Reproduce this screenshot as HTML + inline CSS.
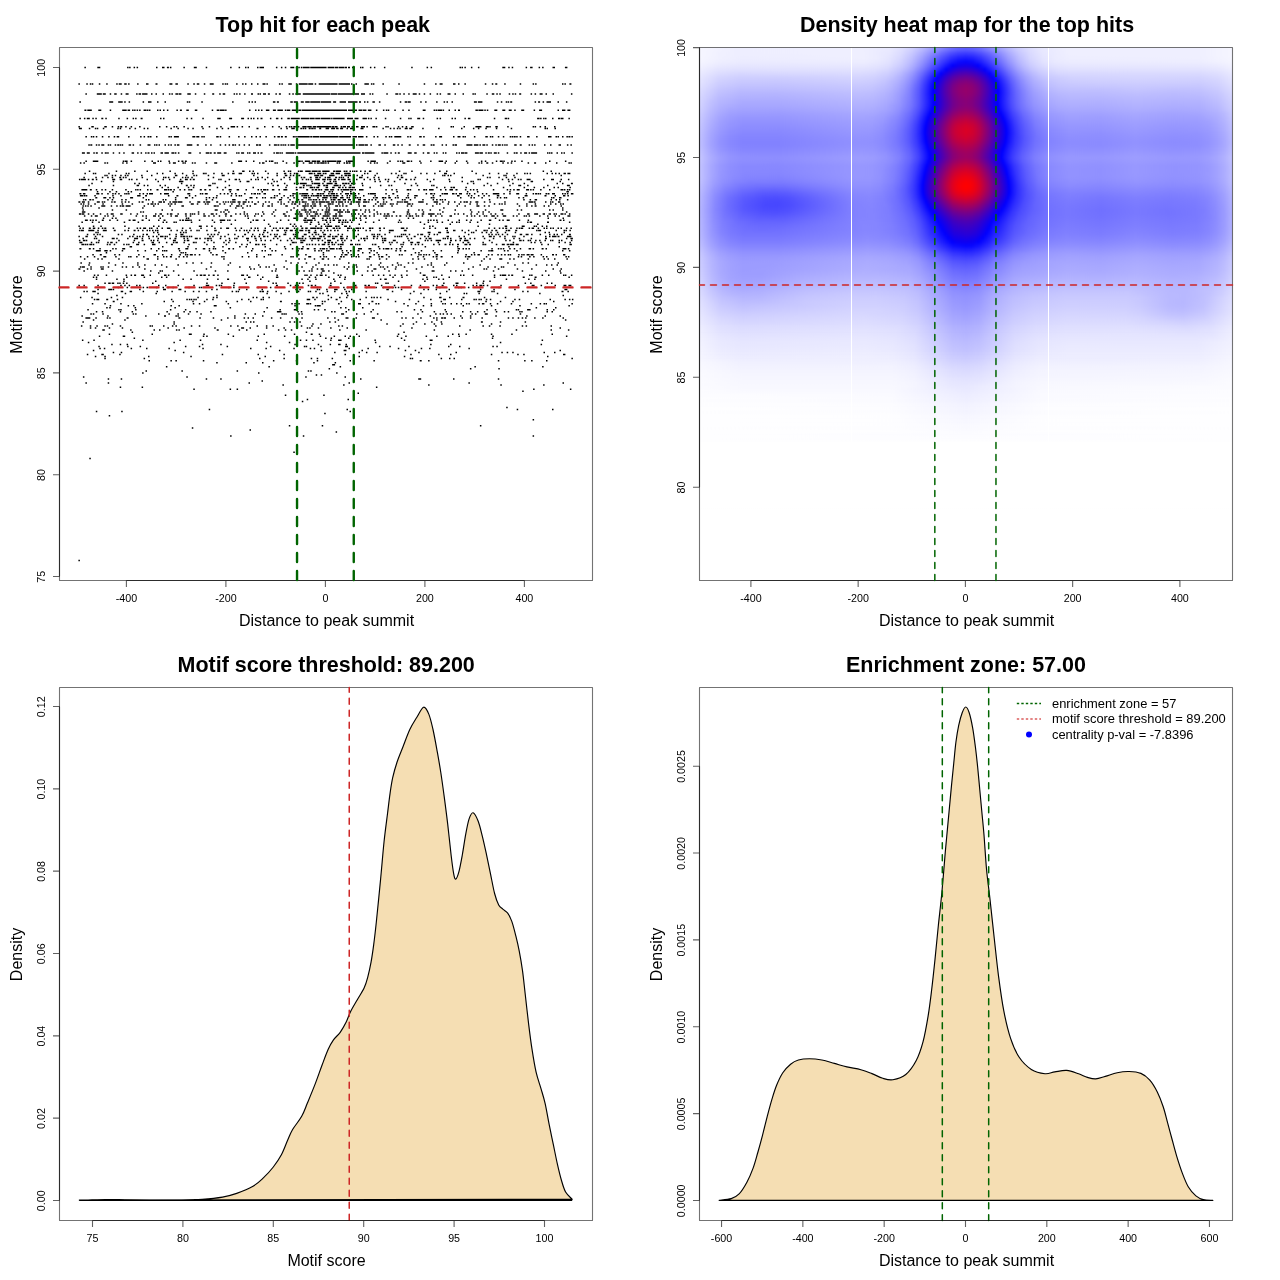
<!DOCTYPE html>
<html><head><meta charset="utf-8"><title>plot</title>
<style>html,body{margin:0;padding:0;background:#fff;} svg{display:block;} text{font-family:'Liberation Sans', Arial, sans-serif;fill:#000;}</style>
</head><body>
<svg style="will-change:transform" width="1280" height="1280" viewBox="0 0 1280 1280">
<rect width="1280" height="1280" fill="#fff"/>
<defs><linearGradient id="h0"><stop offset="0.0009" stop-color="#f6f6ff"/><stop offset="0.0666" stop-color="#eeeeff"/><stop offset="0.3011" stop-color="#efefff"/><stop offset="0.3555" stop-color="#e9e9ff"/><stop offset="0.3780" stop-color="#dfdfff"/><stop offset="0.3987" stop-color="#cfcfff"/><stop offset="0.4174" stop-color="#b9b9ff"/><stop offset="0.4550" stop-color="#8181ff"/><stop offset="0.4719" stop-color="#6b6bff"/><stop offset="0.4850" stop-color="#6060ff"/><stop offset="0.5000" stop-color="#5c5cff"/><stop offset="0.5131" stop-color="#6060ff"/><stop offset="0.5281" stop-color="#6d6dff"/><stop offset="0.5788" stop-color="#b6b6ff"/><stop offset="0.5976" stop-color="#ccccff"/><stop offset="0.6182" stop-color="#dcdcff"/><stop offset="0.6426" stop-color="#e8e8ff"/><stop offset="0.6914" stop-color="#efefff"/><stop offset="0.9353" stop-color="#efefff"/><stop offset="0.9991" stop-color="#f5f5ff"/></linearGradient><linearGradient id="h1"><stop offset="0.0009" stop-color="#f6f6ff"/><stop offset="0.0385" stop-color="#f0f0ff"/><stop offset="0.0797" stop-color="#eeeeff"/><stop offset="0.3086" stop-color="#efefff"/><stop offset="0.3555" stop-color="#e7e7ff"/><stop offset="0.3780" stop-color="#dbdbff"/><stop offset="0.3987" stop-color="#c7c7ff"/><stop offset="0.4174" stop-color="#acacff"/><stop offset="0.4550" stop-color="#6767ff"/><stop offset="0.4719" stop-color="#4c4cff"/><stop offset="0.4850" stop-color="#3f3fff"/><stop offset="0.5000" stop-color="#3a3aff"/><stop offset="0.5131" stop-color="#3f3fff"/><stop offset="0.5281" stop-color="#4f4fff"/><stop offset="0.5432" stop-color="#6767ff"/><stop offset="0.5788" stop-color="#a8a8ff"/><stop offset="0.5994" stop-color="#c6c6ff"/><stop offset="0.6201" stop-color="#d9d9ff"/><stop offset="0.6445" stop-color="#e7e7ff"/><stop offset="0.6932" stop-color="#efefff"/><stop offset="0.9353" stop-color="#efefff"/><stop offset="0.9991" stop-color="#f5f5ff"/></linearGradient><linearGradient id="h2"><stop offset="0.0009" stop-color="#f6f6ff"/><stop offset="0.0385" stop-color="#f0f0ff"/><stop offset="0.0797" stop-color="#ededff"/><stop offset="0.3068" stop-color="#efefff"/><stop offset="0.3330" stop-color="#ececff"/><stop offset="0.3555" stop-color="#e5e5ff"/><stop offset="0.3780" stop-color="#d7d7ff"/><stop offset="0.3987" stop-color="#c0c0ff"/><stop offset="0.4174" stop-color="#a1a1ff"/><stop offset="0.4550" stop-color="#5252ff"/><stop offset="0.4719" stop-color="#3333ff"/><stop offset="0.4850" stop-color="#2424ff"/><stop offset="0.5000" stop-color="#1e1eff"/><stop offset="0.5131" stop-color="#2424ff"/><stop offset="0.5281" stop-color="#3636ff"/><stop offset="0.5432" stop-color="#5252ff"/><stop offset="0.5788" stop-color="#9d9dff"/><stop offset="0.5994" stop-color="#bfbfff"/><stop offset="0.6201" stop-color="#d6d6ff"/><stop offset="0.6445" stop-color="#e5e5ff"/><stop offset="0.6670" stop-color="#ebebff"/><stop offset="0.6951" stop-color="#eeeeff"/><stop offset="0.9353" stop-color="#efefff"/><stop offset="0.9991" stop-color="#f5f5ff"/></linearGradient><linearGradient id="h3"><stop offset="0.0009" stop-color="#f5f5ff"/><stop offset="0.0385" stop-color="#eeeeff"/><stop offset="0.0797" stop-color="#ebebff"/><stop offset="0.3086" stop-color="#ededff"/><stop offset="0.3349" stop-color="#e9e9ff"/><stop offset="0.3555" stop-color="#e2e2ff"/><stop offset="0.3780" stop-color="#d2d2ff"/><stop offset="0.3987" stop-color="#b9b9ff"/><stop offset="0.4174" stop-color="#9696ff"/><stop offset="0.4550" stop-color="#3f3fff"/><stop offset="0.4719" stop-color="#1d1dff"/><stop offset="0.4850" stop-color="#0c0cff"/><stop offset="0.5000" stop-color="#0606ff"/><stop offset="0.5131" stop-color="#0c0cff"/><stop offset="0.5281" stop-color="#2121ff"/><stop offset="0.5432" stop-color="#4040ff"/><stop offset="0.5788" stop-color="#9292ff"/><stop offset="0.5994" stop-color="#b8b8ff"/><stop offset="0.6201" stop-color="#d1d1ff"/><stop offset="0.6445" stop-color="#e2e2ff"/><stop offset="0.6670" stop-color="#e9e9ff"/><stop offset="0.6951" stop-color="#ececff"/><stop offset="0.9353" stop-color="#ededff"/><stop offset="0.9991" stop-color="#f4f4ff"/></linearGradient><linearGradient id="h4"><stop offset="0.0009" stop-color="#f2f2ff"/><stop offset="0.0385" stop-color="#e9e9ff"/><stop offset="0.0797" stop-color="#e6e6ff"/><stop offset="0.3086" stop-color="#e8e8ff"/><stop offset="0.3349" stop-color="#e4e4ff"/><stop offset="0.3555" stop-color="#ddddff"/><stop offset="0.3799" stop-color="#cacaff"/><stop offset="0.3912" stop-color="#bcbcff"/><stop offset="0.4024" stop-color="#aaaaff"/><stop offset="0.4193" stop-color="#8686ff"/><stop offset="0.4625" stop-color="#1919ff"/><stop offset="0.4737" stop-color="#0202ff"/><stop offset="0.4756" stop-color="#0100fe"/><stop offset="0.4869" stop-color="#0f00f0"/><stop offset="0.5000" stop-color="#1400eb"/><stop offset="0.5113" stop-color="#0f00f0"/><stop offset="0.5225" stop-color="#0000ff"/><stop offset="0.5244" stop-color="#0303ff"/><stop offset="0.5413" stop-color="#2727ff"/><stop offset="0.5788" stop-color="#8585ff"/><stop offset="0.5957" stop-color="#a8a8ff"/><stop offset="0.6069" stop-color="#babaff"/><stop offset="0.6201" stop-color="#cacaff"/><stop offset="0.6332" stop-color="#d5d5ff"/><stop offset="0.6482" stop-color="#dedeff"/><stop offset="0.6689" stop-color="#e4e4ff"/><stop offset="0.6951" stop-color="#e7e7ff"/><stop offset="0.9353" stop-color="#e8e8ff"/><stop offset="0.9709" stop-color="#ebebff"/><stop offset="0.9991" stop-color="#f1f1ff"/></linearGradient><linearGradient id="h5"><stop offset="0.0009" stop-color="#eeeeff"/><stop offset="0.0328" stop-color="#e4e4ff"/><stop offset="0.0666" stop-color="#e0e0ff"/><stop offset="0.3011" stop-color="#e2e2ff"/><stop offset="0.3293" stop-color="#dfdfff"/><stop offset="0.3537" stop-color="#d7d7ff"/><stop offset="0.3780" stop-color="#c3c3ff"/><stop offset="0.3893" stop-color="#b5b5ff"/><stop offset="0.4006" stop-color="#a2a2ff"/><stop offset="0.4193" stop-color="#7777ff"/><stop offset="0.4625" stop-color="#0101ff"/><stop offset="0.4644" stop-color="#0400fb"/><stop offset="0.4737" stop-color="#1900e6"/><stop offset="0.4812" stop-color="#2500da"/><stop offset="0.4906" stop-color="#2e00d1"/><stop offset="0.5000" stop-color="#3100ce"/><stop offset="0.5094" stop-color="#2d00d2"/><stop offset="0.5169" stop-color="#2400db"/><stop offset="0.5244" stop-color="#1800e7"/><stop offset="0.5356" stop-color="#0101ff"/><stop offset="0.5788" stop-color="#7676ff"/><stop offset="0.5976" stop-color="#a0a0ff"/><stop offset="0.6107" stop-color="#b5b5ff"/><stop offset="0.6238" stop-color="#c5c5ff"/><stop offset="0.6370" stop-color="#d0d0ff"/><stop offset="0.6520" stop-color="#d8d8ff"/><stop offset="0.6726" stop-color="#dedeff"/><stop offset="0.6989" stop-color="#e1e1ff"/><stop offset="0.9409" stop-color="#e2e2ff"/><stop offset="0.9747" stop-color="#e6e6ff"/><stop offset="0.9991" stop-color="#ededff"/></linearGradient><linearGradient id="h6"><stop offset="0.0009" stop-color="#eaeaff"/><stop offset="0.0347" stop-color="#ddddff"/><stop offset="0.0722" stop-color="#d7d7ff"/><stop offset="0.2992" stop-color="#dbdbff"/><stop offset="0.3274" stop-color="#d8d8ff"/><stop offset="0.3518" stop-color="#cfcfff"/><stop offset="0.3649" stop-color="#c6c6ff"/><stop offset="0.3780" stop-color="#b9b9ff"/><stop offset="0.3987" stop-color="#9999ff"/><stop offset="0.4174" stop-color="#6c6cff"/><stop offset="0.4531" stop-color="#0000ff"/><stop offset="0.4550" stop-color="#0500fa"/><stop offset="0.4662" stop-color="#2500da"/><stop offset="0.4775" stop-color="#3e00c1"/><stop offset="0.4887" stop-color="#4c00b3"/><stop offset="0.5000" stop-color="#5100ae"/><stop offset="0.5113" stop-color="#4a00b5"/><stop offset="0.5206" stop-color="#3d00c2"/><stop offset="0.5300" stop-color="#2900d6"/><stop offset="0.5450" stop-color="#0101ff"/><stop offset="0.5525" stop-color="#1919ff"/><stop offset="0.5788" stop-color="#6666ff"/><stop offset="0.5901" stop-color="#8282ff"/><stop offset="0.5994" stop-color="#9696ff"/><stop offset="0.6126" stop-color="#acacff"/><stop offset="0.6257" stop-color="#bcbcff"/><stop offset="0.6388" stop-color="#c8c8ff"/><stop offset="0.6538" stop-color="#d0d0ff"/><stop offset="0.6745" stop-color="#d7d7ff"/><stop offset="0.6989" stop-color="#d9d9ff"/><stop offset="0.9390" stop-color="#dadaff"/><stop offset="0.9728" stop-color="#dfdfff"/><stop offset="0.9991" stop-color="#e8e8ff"/></linearGradient><linearGradient id="h7"><stop offset="0.0009" stop-color="#e6e6ff"/><stop offset="0.0366" stop-color="#d5d5ff"/><stop offset="0.0741" stop-color="#cfcfff"/><stop offset="0.1435" stop-color="#ceceff"/><stop offset="0.2992" stop-color="#d4d4ff"/><stop offset="0.3274" stop-color="#d1d1ff"/><stop offset="0.3499" stop-color="#c9c9ff"/><stop offset="0.3630" stop-color="#c0c0ff"/><stop offset="0.3762" stop-color="#b2b2ff"/><stop offset="0.3874" stop-color="#a3a3ff"/><stop offset="0.3968" stop-color="#9292ff"/><stop offset="0.4062" stop-color="#7d7dff"/><stop offset="0.4156" stop-color="#6363ff"/><stop offset="0.4456" stop-color="#0202ff"/><stop offset="0.4475" stop-color="#0500fa"/><stop offset="0.4625" stop-color="#3400cb"/><stop offset="0.4756" stop-color="#5600a9"/><stop offset="0.4869" stop-color="#670098"/><stop offset="0.5000" stop-color="#6e0091"/><stop offset="0.5113" stop-color="#670098"/><stop offset="0.5225" stop-color="#5500aa"/><stop offset="0.5356" stop-color="#3300cc"/><stop offset="0.5507" stop-color="#0200fd"/><stop offset="0.5525" stop-color="#0505ff"/><stop offset="0.5826" stop-color="#6161ff"/><stop offset="0.5919" stop-color="#7979ff"/><stop offset="0.6032" stop-color="#9292ff"/><stop offset="0.6144" stop-color="#a4a4ff"/><stop offset="0.6276" stop-color="#b5b5ff"/><stop offset="0.6426" stop-color="#c2c2ff"/><stop offset="0.6576" stop-color="#cacaff"/><stop offset="0.6989" stop-color="#d2d2ff"/><stop offset="0.8208" stop-color="#d5d5ff"/><stop offset="0.9371" stop-color="#d3d3ff"/><stop offset="0.9728" stop-color="#d9d9ff"/><stop offset="0.9991" stop-color="#e4e4ff"/></linearGradient><linearGradient id="h8"><stop offset="0.0009" stop-color="#e3e3ff"/><stop offset="0.0366" stop-color="#d0d0ff"/><stop offset="0.0760" stop-color="#c9c9ff"/><stop offset="0.1454" stop-color="#c8c8ff"/><stop offset="0.2974" stop-color="#cfcfff"/><stop offset="0.3255" stop-color="#ccccff"/><stop offset="0.3480" stop-color="#c4c4ff"/><stop offset="0.3724" stop-color="#b0b0ff"/><stop offset="0.3837" stop-color="#a1a1ff"/><stop offset="0.3949" stop-color="#8e8eff"/><stop offset="0.4043" stop-color="#7878ff"/><stop offset="0.4137" stop-color="#5e5eff"/><stop offset="0.4418" stop-color="#0000ff"/><stop offset="0.4437" stop-color="#0600f9"/><stop offset="0.4625" stop-color="#4600b9"/><stop offset="0.4756" stop-color="#6a0095"/><stop offset="0.4869" stop-color="#7c0083"/><stop offset="0.5000" stop-color="#83007c"/><stop offset="0.5113" stop-color="#7c0083"/><stop offset="0.5244" stop-color="#65009a"/><stop offset="0.5375" stop-color="#3f00c0"/><stop offset="0.5525" stop-color="#0b00f4"/><stop offset="0.5563" stop-color="#0101ff"/><stop offset="0.5844" stop-color="#5c5cff"/><stop offset="0.5938" stop-color="#7474ff"/><stop offset="0.6032" stop-color="#8989ff"/><stop offset="0.6144" stop-color="#9d9dff"/><stop offset="0.6276" stop-color="#aeaeff"/><stop offset="0.6538" stop-color="#c2c2ff"/><stop offset="0.6745" stop-color="#c9c9ff"/><stop offset="0.6989" stop-color="#cdcdff"/><stop offset="0.8208" stop-color="#d0d0ff"/><stop offset="0.9390" stop-color="#ceceff"/><stop offset="0.9728" stop-color="#d4d4ff"/><stop offset="0.9991" stop-color="#e1e1ff"/></linearGradient><linearGradient id="h9"><stop offset="0.0009" stop-color="#e0e0ff"/><stop offset="0.0366" stop-color="#cbcbff"/><stop offset="0.0779" stop-color="#c3c3ff"/><stop offset="0.1454" stop-color="#c2c2ff"/><stop offset="0.2974" stop-color="#c9c9ff"/><stop offset="0.3236" stop-color="#c7c7ff"/><stop offset="0.3462" stop-color="#bfbfff"/><stop offset="0.3593" stop-color="#b7b7ff"/><stop offset="0.3724" stop-color="#aaaaff"/><stop offset="0.3837" stop-color="#9b9bff"/><stop offset="0.3949" stop-color="#8787ff"/><stop offset="0.4118" stop-color="#5d5dff"/><stop offset="0.4381" stop-color="#0404ff"/><stop offset="0.4400" stop-color="#0200fd"/><stop offset="0.4606" stop-color="#4b00b4"/><stop offset="0.4756" stop-color="#770088"/><stop offset="0.4869" stop-color="#890076"/><stop offset="0.5000" stop-color="#90006f"/><stop offset="0.5113" stop-color="#890076"/><stop offset="0.5188" stop-color="#7d0082"/><stop offset="0.5244" stop-color="#71008e"/><stop offset="0.5394" stop-color="#4400bb"/><stop offset="0.5582" stop-color="#0200fd"/><stop offset="0.5600" stop-color="#0404ff"/><stop offset="0.5863" stop-color="#5959ff"/><stop offset="0.5957" stop-color="#7272ff"/><stop offset="0.6051" stop-color="#8686ff"/><stop offset="0.6163" stop-color="#9999ff"/><stop offset="0.6276" stop-color="#a8a8ff"/><stop offset="0.6538" stop-color="#bdbdff"/><stop offset="0.6745" stop-color="#c4c4ff"/><stop offset="0.6989" stop-color="#c7c7ff"/><stop offset="0.8208" stop-color="#cacaff"/><stop offset="0.9371" stop-color="#c8c8ff"/><stop offset="0.9728" stop-color="#d0d0ff"/><stop offset="0.9991" stop-color="#ddddff"/></linearGradient><linearGradient id="h10"><stop offset="0.0009" stop-color="#dcdcff"/><stop offset="0.0366" stop-color="#c5c5ff"/><stop offset="0.0779" stop-color="#bcbcff"/><stop offset="0.1454" stop-color="#bcbcff"/><stop offset="0.2974" stop-color="#c4c4ff"/><stop offset="0.3236" stop-color="#c2c2ff"/><stop offset="0.3462" stop-color="#babaff"/><stop offset="0.3593" stop-color="#b2b2ff"/><stop offset="0.3724" stop-color="#a5a5ff"/><stop offset="0.3837" stop-color="#9696ff"/><stop offset="0.3949" stop-color="#8282ff"/><stop offset="0.4118" stop-color="#5858ff"/><stop offset="0.4381" stop-color="#0100fe"/><stop offset="0.4606" stop-color="#5000af"/><stop offset="0.4756" stop-color="#7c0083"/><stop offset="0.4869" stop-color="#8e0071"/><stop offset="0.5000" stop-color="#95006a"/><stop offset="0.5113" stop-color="#8e0071"/><stop offset="0.5188" stop-color="#83007c"/><stop offset="0.5244" stop-color="#760089"/><stop offset="0.5413" stop-color="#4300bc"/><stop offset="0.5507" stop-color="#1f00e0"/><stop offset="0.5600" stop-color="#0100fe"/><stop offset="0.5619" stop-color="#0505ff"/><stop offset="0.5863" stop-color="#5454ff"/><stop offset="0.5938" stop-color="#6868ff"/><stop offset="0.6051" stop-color="#8080ff"/><stop offset="0.6163" stop-color="#9393ff"/><stop offset="0.6276" stop-color="#a2a2ff"/><stop offset="0.6538" stop-color="#b7b7ff"/><stop offset="0.6745" stop-color="#bebeff"/><stop offset="0.6970" stop-color="#c1c1ff"/><stop offset="0.7533" stop-color="#c0c0ff"/><stop offset="0.8208" stop-color="#c5c5ff"/><stop offset="0.8902" stop-color="#c1c1ff"/><stop offset="0.9371" stop-color="#c2c2ff"/><stop offset="0.9728" stop-color="#cbcbff"/><stop offset="0.9991" stop-color="#dadaff"/></linearGradient><linearGradient id="h11"><stop offset="0.0009" stop-color="#d9d9ff"/><stop offset="0.0366" stop-color="#c0c0ff"/><stop offset="0.0779" stop-color="#b6b6ff"/><stop offset="0.1454" stop-color="#b5b5ff"/><stop offset="0.2992" stop-color="#bebeff"/><stop offset="0.3255" stop-color="#bcbcff"/><stop offset="0.3480" stop-color="#b4b4ff"/><stop offset="0.3612" stop-color="#ababff"/><stop offset="0.3743" stop-color="#9e9eff"/><stop offset="0.3837" stop-color="#9292ff"/><stop offset="0.3949" stop-color="#7f7fff"/><stop offset="0.4118" stop-color="#5656ff"/><stop offset="0.4343" stop-color="#0b0bff"/><stop offset="0.4381" stop-color="#0100fe"/><stop offset="0.4587" stop-color="#4900b6"/><stop offset="0.4756" stop-color="#7a0085"/><stop offset="0.4869" stop-color="#8c0073"/><stop offset="0.5000" stop-color="#93006c"/><stop offset="0.5113" stop-color="#8c0073"/><stop offset="0.5188" stop-color="#81007e"/><stop offset="0.5244" stop-color="#75008a"/><stop offset="0.5413" stop-color="#4200bd"/><stop offset="0.5507" stop-color="#1f00e0"/><stop offset="0.5600" stop-color="#0200fd"/><stop offset="0.5619" stop-color="#0404ff"/><stop offset="0.5863" stop-color="#5151ff"/><stop offset="0.5938" stop-color="#6565ff"/><stop offset="0.6051" stop-color="#7c7cff"/><stop offset="0.6163" stop-color="#8f8fff"/><stop offset="0.6276" stop-color="#9d9dff"/><stop offset="0.6538" stop-color="#b1b1ff"/><stop offset="0.6745" stop-color="#b8b8ff"/><stop offset="0.6970" stop-color="#bbbbff"/><stop offset="0.7533" stop-color="#bbbbff"/><stop offset="0.8208" stop-color="#bfbfff"/><stop offset="0.8902" stop-color="#bbbbff"/><stop offset="0.9371" stop-color="#bdbdff"/><stop offset="0.9728" stop-color="#c6c6ff"/><stop offset="0.9991" stop-color="#d6d6ff"/></linearGradient><linearGradient id="h12"><stop offset="0.0009" stop-color="#d6d6ff"/><stop offset="0.0366" stop-color="#bbbbff"/><stop offset="0.0779" stop-color="#b1b1ff"/><stop offset="0.1454" stop-color="#b0b0ff"/><stop offset="0.2992" stop-color="#babaff"/><stop offset="0.3255" stop-color="#b8b8ff"/><stop offset="0.3480" stop-color="#b0b0ff"/><stop offset="0.3612" stop-color="#a8a8ff"/><stop offset="0.3743" stop-color="#9b9bff"/><stop offset="0.3949" stop-color="#7d7dff"/><stop offset="0.4118" stop-color="#5555ff"/><stop offset="0.4381" stop-color="#0101ff"/><stop offset="0.4400" stop-color="#0500fa"/><stop offset="0.4606" stop-color="#4b00b4"/><stop offset="0.4756" stop-color="#75008a"/><stop offset="0.4869" stop-color="#860079"/><stop offset="0.5000" stop-color="#8d0072"/><stop offset="0.5113" stop-color="#860079"/><stop offset="0.5244" stop-color="#6f0090"/><stop offset="0.5375" stop-color="#4a00b5"/><stop offset="0.5450" stop-color="#3200cd"/><stop offset="0.5525" stop-color="#1500ea"/><stop offset="0.5600" stop-color="#0000ff"/><stop offset="0.5844" stop-color="#4c4cff"/><stop offset="0.5938" stop-color="#6363ff"/><stop offset="0.6032" stop-color="#7676ff"/><stop offset="0.6144" stop-color="#8989ff"/><stop offset="0.6276" stop-color="#9999ff"/><stop offset="0.6538" stop-color="#adadff"/><stop offset="0.6745" stop-color="#b3b3ff"/><stop offset="0.6970" stop-color="#b7b7ff"/><stop offset="0.7533" stop-color="#b6b6ff"/><stop offset="0.8208" stop-color="#babaff"/><stop offset="0.8902" stop-color="#b7b7ff"/><stop offset="0.9371" stop-color="#b8b8ff"/><stop offset="0.9728" stop-color="#c2c2ff"/><stop offset="0.9991" stop-color="#d3d3ff"/></linearGradient><linearGradient id="h13"><stop offset="0.0009" stop-color="#d4d4ff"/><stop offset="0.0216" stop-color="#c1c1ff"/><stop offset="0.0385" stop-color="#b6b6ff"/><stop offset="0.0797" stop-color="#ababff"/><stop offset="0.1473" stop-color="#ababff"/><stop offset="0.3011" stop-color="#b5b5ff"/><stop offset="0.3274" stop-color="#b3b3ff"/><stop offset="0.3499" stop-color="#ababff"/><stop offset="0.3630" stop-color="#a3a3ff"/><stop offset="0.3762" stop-color="#9696ff"/><stop offset="0.3968" stop-color="#7878ff"/><stop offset="0.4118" stop-color="#5555ff"/><stop offset="0.4381" stop-color="#0303ff"/><stop offset="0.4400" stop-color="#0300fc"/><stop offset="0.4587" stop-color="#4200bd"/><stop offset="0.4756" stop-color="#71008e"/><stop offset="0.4869" stop-color="#81007e"/><stop offset="0.5000" stop-color="#880077"/><stop offset="0.5113" stop-color="#81007e"/><stop offset="0.5244" stop-color="#6b0094"/><stop offset="0.5432" stop-color="#3500ca"/><stop offset="0.5525" stop-color="#1300ec"/><stop offset="0.5582" stop-color="#0400fb"/><stop offset="0.5600" stop-color="#0202ff"/><stop offset="0.5844" stop-color="#4b4bff"/><stop offset="0.5938" stop-color="#6262ff"/><stop offset="0.6032" stop-color="#7474ff"/><stop offset="0.6144" stop-color="#8686ff"/><stop offset="0.6276" stop-color="#9696ff"/><stop offset="0.6538" stop-color="#a8a8ff"/><stop offset="0.6745" stop-color="#afafff"/><stop offset="0.6970" stop-color="#b2b2ff"/><stop offset="0.7533" stop-color="#b1b1ff"/><stop offset="0.8208" stop-color="#b6b6ff"/><stop offset="0.8902" stop-color="#b2b2ff"/><stop offset="0.9371" stop-color="#b3b3ff"/><stop offset="0.9728" stop-color="#bebeff"/><stop offset="0.9991" stop-color="#d0d0ff"/></linearGradient><linearGradient id="h14"><stop offset="0.0009" stop-color="#d2d2ff"/><stop offset="0.0216" stop-color="#bebeff"/><stop offset="0.0385" stop-color="#b2b2ff"/><stop offset="0.0797" stop-color="#a7a7ff"/><stop offset="0.1473" stop-color="#a7a7ff"/><stop offset="0.3011" stop-color="#b1b1ff"/><stop offset="0.3274" stop-color="#afafff"/><stop offset="0.3499" stop-color="#a7a7ff"/><stop offset="0.3762" stop-color="#9393ff"/><stop offset="0.3968" stop-color="#7575ff"/><stop offset="0.4062" stop-color="#6161ff"/><stop offset="0.4137" stop-color="#4d4dff"/><stop offset="0.4381" stop-color="#0101ff"/><stop offset="0.4400" stop-color="#0400fb"/><stop offset="0.4587" stop-color="#4200bd"/><stop offset="0.4756" stop-color="#71008e"/><stop offset="0.4869" stop-color="#81007e"/><stop offset="0.5000" stop-color="#880077"/><stop offset="0.5113" stop-color="#82007d"/><stop offset="0.5244" stop-color="#6b0094"/><stop offset="0.5432" stop-color="#3600c9"/><stop offset="0.5525" stop-color="#1400eb"/><stop offset="0.5600" stop-color="#0000ff"/><stop offset="0.5844" stop-color="#4848ff"/><stop offset="0.5938" stop-color="#5f5fff"/><stop offset="0.6032" stop-color="#7171ff"/><stop offset="0.6144" stop-color="#8282ff"/><stop offset="0.6276" stop-color="#9292ff"/><stop offset="0.6538" stop-color="#a4a4ff"/><stop offset="0.6745" stop-color="#ababff"/><stop offset="0.6970" stop-color="#aeaeff"/><stop offset="0.7533" stop-color="#adadff"/><stop offset="0.8208" stop-color="#b2b2ff"/><stop offset="0.8902" stop-color="#aeaeff"/><stop offset="0.9371" stop-color="#afafff"/><stop offset="0.9728" stop-color="#babaff"/><stop offset="0.9991" stop-color="#ceceff"/></linearGradient><linearGradient id="h15"><stop offset="0.0009" stop-color="#cfcfff"/><stop offset="0.0216" stop-color="#babaff"/><stop offset="0.0385" stop-color="#aeaeff"/><stop offset="0.0572" stop-color="#a6a6ff"/><stop offset="0.0797" stop-color="#a2a2ff"/><stop offset="0.1473" stop-color="#a1a1ff"/><stop offset="0.3011" stop-color="#adadff"/><stop offset="0.3255" stop-color="#ababff"/><stop offset="0.3480" stop-color="#a4a4ff"/><stop offset="0.3612" stop-color="#9c9cff"/><stop offset="0.3743" stop-color="#9090ff"/><stop offset="0.3949" stop-color="#7474ff"/><stop offset="0.4118" stop-color="#4d4dff"/><stop offset="0.4362" stop-color="#0000ff"/><stop offset="0.4381" stop-color="#0500fa"/><stop offset="0.4568" stop-color="#4400bb"/><stop offset="0.4756" stop-color="#7a0085"/><stop offset="0.4869" stop-color="#8a0075"/><stop offset="0.5000" stop-color="#91006e"/><stop offset="0.5113" stop-color="#8b0074"/><stop offset="0.5188" stop-color="#80007f"/><stop offset="0.5244" stop-color="#74008b"/><stop offset="0.5413" stop-color="#4300bc"/><stop offset="0.5507" stop-color="#2100de"/><stop offset="0.5619" stop-color="#0100fe"/><stop offset="0.5863" stop-color="#4747ff"/><stop offset="0.5938" stop-color="#5959ff"/><stop offset="0.6051" stop-color="#6f6fff"/><stop offset="0.6276" stop-color="#8d8dff"/><stop offset="0.6538" stop-color="#9f9fff"/><stop offset="0.6745" stop-color="#a6a6ff"/><stop offset="0.6970" stop-color="#a9a9ff"/><stop offset="0.7533" stop-color="#a8a8ff"/><stop offset="0.8208" stop-color="#aeaeff"/><stop offset="0.8902" stop-color="#a9a9ff"/><stop offset="0.9371" stop-color="#ababff"/><stop offset="0.9728" stop-color="#b6b6ff"/><stop offset="0.9991" stop-color="#cbcbff"/></linearGradient><linearGradient id="h16"><stop offset="0.0009" stop-color="#ccccff"/><stop offset="0.0216" stop-color="#b6b6ff"/><stop offset="0.0385" stop-color="#a9a9ff"/><stop offset="0.0572" stop-color="#a0a0ff"/><stop offset="0.0797" stop-color="#9c9cff"/><stop offset="0.1473" stop-color="#9b9bff"/><stop offset="0.3011" stop-color="#a7a7ff"/><stop offset="0.3255" stop-color="#a6a6ff"/><stop offset="0.3480" stop-color="#9e9eff"/><stop offset="0.3612" stop-color="#9696ff"/><stop offset="0.3743" stop-color="#8a8aff"/><stop offset="0.3949" stop-color="#6c6cff"/><stop offset="0.4043" stop-color="#5858ff"/><stop offset="0.4118" stop-color="#4444ff"/><stop offset="0.4325" stop-color="#0000ff"/><stop offset="0.4343" stop-color="#0600f9"/><stop offset="0.4625" stop-color="#65009a"/><stop offset="0.4756" stop-color="#8a0075"/><stop offset="0.4869" stop-color="#9b0064"/><stop offset="0.5000" stop-color="#a2005d"/><stop offset="0.5113" stop-color="#9c0063"/><stop offset="0.5188" stop-color="#90006f"/><stop offset="0.5244" stop-color="#84007b"/><stop offset="0.5432" stop-color="#4b00b4"/><stop offset="0.5525" stop-color="#2700d8"/><stop offset="0.5657" stop-color="#0100fe"/><stop offset="0.5882" stop-color="#4343ff"/><stop offset="0.6069" stop-color="#6a6aff"/><stop offset="0.6295" stop-color="#8888ff"/><stop offset="0.6557" stop-color="#9a9aff"/><stop offset="0.6914" stop-color="#a3a3ff"/><stop offset="0.7533" stop-color="#a2a2ff"/><stop offset="0.8152" stop-color="#a8a8ff"/><stop offset="0.8902" stop-color="#a3a3ff"/><stop offset="0.9353" stop-color="#a5a5ff"/><stop offset="0.9709" stop-color="#b0b0ff"/><stop offset="0.9859" stop-color="#babaff"/><stop offset="0.9991" stop-color="#c8c8ff"/></linearGradient><linearGradient id="h17"><stop offset="0.0009" stop-color="#c9c9ff"/><stop offset="0.0216" stop-color="#b2b2ff"/><stop offset="0.0385" stop-color="#a4a4ff"/><stop offset="0.0572" stop-color="#9b9bff"/><stop offset="0.0797" stop-color="#9696ff"/><stop offset="0.1473" stop-color="#9696ff"/><stop offset="0.2992" stop-color="#a3a3ff"/><stop offset="0.3236" stop-color="#a1a1ff"/><stop offset="0.3462" stop-color="#9a9aff"/><stop offset="0.3705" stop-color="#8888ff"/><stop offset="0.3818" stop-color="#7a7aff"/><stop offset="0.3931" stop-color="#6969ff"/><stop offset="0.4006" stop-color="#5959ff"/><stop offset="0.4099" stop-color="#4141ff"/><stop offset="0.4287" stop-color="#0101ff"/><stop offset="0.4306" stop-color="#0500fa"/><stop offset="0.4625" stop-color="#75008a"/><stop offset="0.4756" stop-color="#9d0062"/><stop offset="0.4869" stop-color="#ae0051"/><stop offset="0.5000" stop-color="#b60049"/><stop offset="0.5131" stop-color="#ac0053"/><stop offset="0.5188" stop-color="#a3005c"/><stop offset="0.5263" stop-color="#91006e"/><stop offset="0.5432" stop-color="#5b00a4"/><stop offset="0.5525" stop-color="#3500ca"/><stop offset="0.5694" stop-color="#0000ff"/><stop offset="0.5807" stop-color="#2525ff"/><stop offset="0.5901" stop-color="#3f3fff"/><stop offset="0.6088" stop-color="#6666ff"/><stop offset="0.6295" stop-color="#8282ff"/><stop offset="0.6576" stop-color="#9696ff"/><stop offset="0.6932" stop-color="#9f9fff"/><stop offset="0.7533" stop-color="#9d9dff"/><stop offset="0.8171" stop-color="#a4a4ff"/><stop offset="0.8902" stop-color="#9f9fff"/><stop offset="0.9353" stop-color="#a0a0ff"/><stop offset="0.9709" stop-color="#acacff"/><stop offset="0.9859" stop-color="#b7b7ff"/><stop offset="0.9991" stop-color="#c5c5ff"/></linearGradient><linearGradient id="h18"><stop offset="0.0009" stop-color="#c7c7ff"/><stop offset="0.0216" stop-color="#afafff"/><stop offset="0.0385" stop-color="#a0a0ff"/><stop offset="0.0572" stop-color="#9797ff"/><stop offset="0.0797" stop-color="#9292ff"/><stop offset="0.1473" stop-color="#9292ff"/><stop offset="0.2992" stop-color="#9f9fff"/><stop offset="0.3236" stop-color="#9e9eff"/><stop offset="0.3443" stop-color="#9797ff"/><stop offset="0.3687" stop-color="#8585ff"/><stop offset="0.3799" stop-color="#7878ff"/><stop offset="0.3912" stop-color="#6666ff"/><stop offset="0.3987" stop-color="#5757ff"/><stop offset="0.4081" stop-color="#3f3fff"/><stop offset="0.4250" stop-color="#0505ff"/><stop offset="0.4268" stop-color="#0200fd"/><stop offset="0.4400" stop-color="#3000cf"/><stop offset="0.4512" stop-color="#5d00a2"/><stop offset="0.4737" stop-color="#a80057"/><stop offset="0.4794" stop-color="#b5004a"/><stop offset="0.4850" stop-color="#bd0042"/><stop offset="0.5000" stop-color="#c70038"/><stop offset="0.5131" stop-color="#bd0042"/><stop offset="0.5188" stop-color="#b4004b"/><stop offset="0.5263" stop-color="#a2005d"/><stop offset="0.5432" stop-color="#690096"/><stop offset="0.5525" stop-color="#4200bd"/><stop offset="0.5713" stop-color="#0400fb"/><stop offset="0.5732" stop-color="#0202ff"/><stop offset="0.5901" stop-color="#3838ff"/><stop offset="0.5994" stop-color="#4e4eff"/><stop offset="0.6088" stop-color="#6060ff"/><stop offset="0.6295" stop-color="#7d7dff"/><stop offset="0.6576" stop-color="#9292ff"/><stop offset="0.6932" stop-color="#9b9bff"/><stop offset="0.7533" stop-color="#9a9aff"/><stop offset="0.8171" stop-color="#a0a0ff"/><stop offset="0.8902" stop-color="#9b9bff"/><stop offset="0.9353" stop-color="#9c9cff"/><stop offset="0.9559" stop-color="#a1a1ff"/><stop offset="0.9709" stop-color="#a9a9ff"/><stop offset="0.9859" stop-color="#b4b4ff"/><stop offset="0.9991" stop-color="#c2c2ff"/></linearGradient><linearGradient id="h19"><stop offset="0.0009" stop-color="#c5c5ff"/><stop offset="0.0216" stop-color="#acacff"/><stop offset="0.0385" stop-color="#9d9dff"/><stop offset="0.0572" stop-color="#9494ff"/><stop offset="0.0797" stop-color="#8e8eff"/><stop offset="0.1473" stop-color="#8e8eff"/><stop offset="0.2974" stop-color="#9c9cff"/><stop offset="0.3218" stop-color="#9b9bff"/><stop offset="0.3424" stop-color="#9494ff"/><stop offset="0.3668" stop-color="#8383ff"/><stop offset="0.3799" stop-color="#7474ff"/><stop offset="0.3893" stop-color="#6565ff"/><stop offset="0.3968" stop-color="#5656ff"/><stop offset="0.4062" stop-color="#3e3eff"/><stop offset="0.4137" stop-color="#2727ff"/><stop offset="0.4231" stop-color="#0505ff"/><stop offset="0.4250" stop-color="#0200fd"/><stop offset="0.4400" stop-color="#3900c6"/><stop offset="0.4512" stop-color="#670098"/><stop offset="0.4737" stop-color="#b4004b"/><stop offset="0.4794" stop-color="#c1003e"/><stop offset="0.4850" stop-color="#ca0035"/><stop offset="0.5000" stop-color="#d4002b"/><stop offset="0.5131" stop-color="#ca0035"/><stop offset="0.5188" stop-color="#c0003f"/><stop offset="0.5263" stop-color="#ad0052"/><stop offset="0.5432" stop-color="#73008c"/><stop offset="0.5525" stop-color="#4a00b5"/><stop offset="0.5600" stop-color="#3300cc"/><stop offset="0.5732" stop-color="#0500fa"/><stop offset="0.5750" stop-color="#0202ff"/><stop offset="0.5919" stop-color="#3737ff"/><stop offset="0.6013" stop-color="#4d4dff"/><stop offset="0.6107" stop-color="#5e5eff"/><stop offset="0.6313" stop-color="#7b7bff"/><stop offset="0.6595" stop-color="#8f8fff"/><stop offset="0.6932" stop-color="#9797ff"/><stop offset="0.7533" stop-color="#9696ff"/><stop offset="0.8171" stop-color="#9d9dff"/><stop offset="0.8902" stop-color="#9797ff"/><stop offset="0.9353" stop-color="#9999ff"/><stop offset="0.9559" stop-color="#9e9eff"/><stop offset="0.9709" stop-color="#a6a6ff"/><stop offset="0.9859" stop-color="#b1b1ff"/><stop offset="0.9991" stop-color="#c0c0ff"/></linearGradient><linearGradient id="h20"><stop offset="0.0009" stop-color="#c3c3ff"/><stop offset="0.0216" stop-color="#a9a9ff"/><stop offset="0.0385" stop-color="#9a9aff"/><stop offset="0.0572" stop-color="#9090ff"/><stop offset="0.0797" stop-color="#8b8bff"/><stop offset="0.1473" stop-color="#8a8aff"/><stop offset="0.2974" stop-color="#9999ff"/><stop offset="0.3218" stop-color="#9898ff"/><stop offset="0.3424" stop-color="#9191ff"/><stop offset="0.3668" stop-color="#8080ff"/><stop offset="0.3799" stop-color="#7070ff"/><stop offset="0.3893" stop-color="#6161ff"/><stop offset="0.3968" stop-color="#5353ff"/><stop offset="0.4062" stop-color="#3b3bff"/><stop offset="0.4137" stop-color="#2424ff"/><stop offset="0.4231" stop-color="#0101ff"/><stop offset="0.4250" stop-color="#0600f9"/><stop offset="0.4400" stop-color="#3d00c2"/><stop offset="0.4531" stop-color="#72008d"/><stop offset="0.4737" stop-color="#ba0045"/><stop offset="0.4794" stop-color="#c70038"/><stop offset="0.4850" stop-color="#cf0030"/><stop offset="0.5000" stop-color="#da0025"/><stop offset="0.5075" stop-color="#d60029"/><stop offset="0.5131" stop-color="#cf0030"/><stop offset="0.5188" stop-color="#c5003a"/><stop offset="0.5263" stop-color="#b3004c"/><stop offset="0.5432" stop-color="#780087"/><stop offset="0.5525" stop-color="#4f00b0"/><stop offset="0.5619" stop-color="#3100ce"/><stop offset="0.5750" stop-color="#0200fd"/><stop offset="0.5769" stop-color="#0404ff"/><stop offset="0.5919" stop-color="#3333ff"/><stop offset="0.6013" stop-color="#4949ff"/><stop offset="0.6107" stop-color="#5b5bff"/><stop offset="0.6313" stop-color="#7777ff"/><stop offset="0.6595" stop-color="#8b8bff"/><stop offset="0.6932" stop-color="#9494ff"/><stop offset="0.7533" stop-color="#9393ff"/><stop offset="0.8171" stop-color="#9a9aff"/><stop offset="0.8902" stop-color="#9494ff"/><stop offset="0.9353" stop-color="#9696ff"/><stop offset="0.9559" stop-color="#9b9bff"/><stop offset="0.9709" stop-color="#a3a3ff"/><stop offset="0.9859" stop-color="#afafff"/><stop offset="0.9991" stop-color="#bebeff"/></linearGradient><linearGradient id="h21"><stop offset="0.0009" stop-color="#c1c1ff"/><stop offset="0.0216" stop-color="#a6a6ff"/><stop offset="0.0385" stop-color="#9797ff"/><stop offset="0.0572" stop-color="#8d8dff"/><stop offset="0.0797" stop-color="#8787ff"/><stop offset="0.1473" stop-color="#8787ff"/><stop offset="0.2974" stop-color="#9696ff"/><stop offset="0.3218" stop-color="#9595ff"/><stop offset="0.3424" stop-color="#8e8eff"/><stop offset="0.3668" stop-color="#7d7dff"/><stop offset="0.3799" stop-color="#6e6eff"/><stop offset="0.3893" stop-color="#5f5fff"/><stop offset="0.3968" stop-color="#5151ff"/><stop offset="0.4062" stop-color="#3a3aff"/><stop offset="0.4137" stop-color="#2222ff"/><stop offset="0.4231" stop-color="#0101ff"/><stop offset="0.4400" stop-color="#3d00c2"/><stop offset="0.4512" stop-color="#6b0094"/><stop offset="0.4737" stop-color="#b90046"/><stop offset="0.4794" stop-color="#c60039"/><stop offset="0.4850" stop-color="#ce0031"/><stop offset="0.5000" stop-color="#d80027"/><stop offset="0.5131" stop-color="#ce0031"/><stop offset="0.5188" stop-color="#c4003b"/><stop offset="0.5263" stop-color="#b2004d"/><stop offset="0.5432" stop-color="#770088"/><stop offset="0.5525" stop-color="#4f00b0"/><stop offset="0.5619" stop-color="#3200cd"/><stop offset="0.5750" stop-color="#0300fc"/><stop offset="0.5769" stop-color="#0303ff"/><stop offset="0.5938" stop-color="#3636ff"/><stop offset="0.6032" stop-color="#4b4bff"/><stop offset="0.6126" stop-color="#5c5cff"/><stop offset="0.6332" stop-color="#7676ff"/><stop offset="0.6595" stop-color="#8888ff"/><stop offset="0.6932" stop-color="#9191ff"/><stop offset="0.7533" stop-color="#8f8fff"/><stop offset="0.8171" stop-color="#9797ff"/><stop offset="0.8902" stop-color="#9191ff"/><stop offset="0.9353" stop-color="#9292ff"/><stop offset="0.9559" stop-color="#9898ff"/><stop offset="0.9709" stop-color="#a0a0ff"/><stop offset="0.9859" stop-color="#acacff"/><stop offset="0.9991" stop-color="#bcbcff"/></linearGradient><linearGradient id="h22"><stop offset="0.0009" stop-color="#c0c0ff"/><stop offset="0.0216" stop-color="#a4a4ff"/><stop offset="0.0385" stop-color="#9494ff"/><stop offset="0.0572" stop-color="#8a8aff"/><stop offset="0.0797" stop-color="#8484ff"/><stop offset="0.1473" stop-color="#8484ff"/><stop offset="0.2992" stop-color="#9393ff"/><stop offset="0.3236" stop-color="#9292ff"/><stop offset="0.3424" stop-color="#8c8cff"/><stop offset="0.3668" stop-color="#7b7bff"/><stop offset="0.3799" stop-color="#6d6dff"/><stop offset="0.3893" stop-color="#5f5fff"/><stop offset="0.3968" stop-color="#5151ff"/><stop offset="0.4062" stop-color="#3a3aff"/><stop offset="0.4137" stop-color="#2424ff"/><stop offset="0.4231" stop-color="#0303ff"/><stop offset="0.4250" stop-color="#0400fb"/><stop offset="0.4400" stop-color="#3900c6"/><stop offset="0.4512" stop-color="#660099"/><stop offset="0.4737" stop-color="#b2004d"/><stop offset="0.4794" stop-color="#bf0040"/><stop offset="0.4850" stop-color="#c70038"/><stop offset="0.5000" stop-color="#d1002e"/><stop offset="0.5131" stop-color="#c70038"/><stop offset="0.5188" stop-color="#bd0042"/><stop offset="0.5263" stop-color="#ab0054"/><stop offset="0.5432" stop-color="#72008d"/><stop offset="0.5525" stop-color="#4a00b5"/><stop offset="0.5619" stop-color="#2e00d1"/><stop offset="0.5750" stop-color="#0100fe"/><stop offset="0.5919" stop-color="#3232ff"/><stop offset="0.6107" stop-color="#5757ff"/><stop offset="0.6313" stop-color="#7272ff"/><stop offset="0.6595" stop-color="#8686ff"/><stop offset="0.6932" stop-color="#8e8eff"/><stop offset="0.7533" stop-color="#8d8dff"/><stop offset="0.8171" stop-color="#9494ff"/><stop offset="0.8902" stop-color="#8e8eff"/><stop offset="0.9353" stop-color="#9090ff"/><stop offset="0.9559" stop-color="#9696ff"/><stop offset="0.9709" stop-color="#9e9eff"/><stop offset="0.9859" stop-color="#aaaaff"/><stop offset="0.9991" stop-color="#bbbbff"/></linearGradient><linearGradient id="h23"><stop offset="0.0009" stop-color="#bfbfff"/><stop offset="0.0216" stop-color="#a3a3ff"/><stop offset="0.0385" stop-color="#9292ff"/><stop offset="0.0572" stop-color="#8888ff"/><stop offset="0.0797" stop-color="#8282ff"/><stop offset="0.1473" stop-color="#8282ff"/><stop offset="0.2992" stop-color="#9191ff"/><stop offset="0.3236" stop-color="#9090ff"/><stop offset="0.3443" stop-color="#8a8aff"/><stop offset="0.3574" stop-color="#8282ff"/><stop offset="0.3705" stop-color="#7777ff"/><stop offset="0.3818" stop-color="#6a6aff"/><stop offset="0.3931" stop-color="#5959ff"/><stop offset="0.4081" stop-color="#3838ff"/><stop offset="0.4250" stop-color="#0000ff"/><stop offset="0.4400" stop-color="#3300cc"/><stop offset="0.4512" stop-color="#5e00a1"/><stop offset="0.4737" stop-color="#a80057"/><stop offset="0.4794" stop-color="#b4004b"/><stop offset="0.4850" stop-color="#bc0043"/><stop offset="0.5000" stop-color="#c5003a"/><stop offset="0.5131" stop-color="#bc0043"/><stop offset="0.5188" stop-color="#b3004c"/><stop offset="0.5263" stop-color="#a1005e"/><stop offset="0.5432" stop-color="#6a0095"/><stop offset="0.5525" stop-color="#4300bc"/><stop offset="0.5600" stop-color="#2e00d1"/><stop offset="0.5732" stop-color="#0400fb"/><stop offset="0.5750" stop-color="#0303ff"/><stop offset="0.5919" stop-color="#3434ff"/><stop offset="0.6088" stop-color="#5555ff"/><stop offset="0.6295" stop-color="#7070ff"/><stop offset="0.6576" stop-color="#8383ff"/><stop offset="0.6914" stop-color="#8c8cff"/><stop offset="0.7533" stop-color="#8b8bff"/><stop offset="0.8171" stop-color="#9292ff"/><stop offset="0.8902" stop-color="#8c8cff"/><stop offset="0.9353" stop-color="#8e8eff"/><stop offset="0.9559" stop-color="#9494ff"/><stop offset="0.9709" stop-color="#9c9cff"/><stop offset="0.9859" stop-color="#a9a9ff"/><stop offset="0.9991" stop-color="#b9b9ff"/></linearGradient><linearGradient id="h24"><stop offset="0.0009" stop-color="#bfbfff"/><stop offset="0.0216" stop-color="#a3a3ff"/><stop offset="0.0385" stop-color="#9393ff"/><stop offset="0.0572" stop-color="#8989ff"/><stop offset="0.0797" stop-color="#8383ff"/><stop offset="0.1473" stop-color="#8282ff"/><stop offset="0.3011" stop-color="#9292ff"/><stop offset="0.3255" stop-color="#9191ff"/><stop offset="0.3462" stop-color="#8a8aff"/><stop offset="0.3705" stop-color="#7979ff"/><stop offset="0.3818" stop-color="#6d6dff"/><stop offset="0.3931" stop-color="#5d5dff"/><stop offset="0.4081" stop-color="#3c3cff"/><stop offset="0.4174" stop-color="#2121ff"/><stop offset="0.4268" stop-color="#0101ff"/><stop offset="0.4287" stop-color="#0600f9"/><stop offset="0.4400" stop-color="#2a00d5"/><stop offset="0.4493" stop-color="#4d00b2"/><stop offset="0.4625" stop-color="#780087"/><stop offset="0.4756" stop-color="#9f0060"/><stop offset="0.4869" stop-color="#af0050"/><stop offset="0.5000" stop-color="#b60049"/><stop offset="0.5113" stop-color="#b0004f"/><stop offset="0.5188" stop-color="#a5005a"/><stop offset="0.5244" stop-color="#980067"/><stop offset="0.5432" stop-color="#5e00a1"/><stop offset="0.5525" stop-color="#3900c6"/><stop offset="0.5600" stop-color="#2500da"/><stop offset="0.5713" stop-color="#0300fc"/><stop offset="0.5732" stop-color="#0303ff"/><stop offset="0.5807" stop-color="#1b1bff"/><stop offset="0.5919" stop-color="#3838ff"/><stop offset="0.6088" stop-color="#5858ff"/><stop offset="0.6295" stop-color="#7272ff"/><stop offset="0.6576" stop-color="#8585ff"/><stop offset="0.6914" stop-color="#8d8dff"/><stop offset="0.7533" stop-color="#8b8bff"/><stop offset="0.8171" stop-color="#9393ff"/><stop offset="0.8902" stop-color="#8d8dff"/><stop offset="0.9353" stop-color="#8e8eff"/><stop offset="0.9559" stop-color="#9595ff"/><stop offset="0.9709" stop-color="#9d9dff"/><stop offset="0.9859" stop-color="#a9a9ff"/><stop offset="0.9991" stop-color="#babaff"/></linearGradient><linearGradient id="h25"><stop offset="0.0009" stop-color="#c1c1ff"/><stop offset="0.0216" stop-color="#a6a6ff"/><stop offset="0.0385" stop-color="#9696ff"/><stop offset="0.0572" stop-color="#8c8cff"/><stop offset="0.0797" stop-color="#8686ff"/><stop offset="0.1473" stop-color="#8686ff"/><stop offset="0.3030" stop-color="#9595ff"/><stop offset="0.3255" stop-color="#9494ff"/><stop offset="0.3480" stop-color="#8c8cff"/><stop offset="0.3743" stop-color="#7a7aff"/><stop offset="0.3949" stop-color="#5f5fff"/><stop offset="0.4099" stop-color="#3e3eff"/><stop offset="0.4287" stop-color="#0202ff"/><stop offset="0.4306" stop-color="#0400fb"/><stop offset="0.4400" stop-color="#2000df"/><stop offset="0.4493" stop-color="#4200bd"/><stop offset="0.4625" stop-color="#6c0093"/><stop offset="0.4756" stop-color="#91006e"/><stop offset="0.4869" stop-color="#a1005e"/><stop offset="0.5000" stop-color="#a80057"/><stop offset="0.5113" stop-color="#a2005d"/><stop offset="0.5188" stop-color="#970068"/><stop offset="0.5244" stop-color="#8b0074"/><stop offset="0.5432" stop-color="#5300ac"/><stop offset="0.5525" stop-color="#2f00d0"/><stop offset="0.5694" stop-color="#0000ff"/><stop offset="0.5807" stop-color="#2222ff"/><stop offset="0.5901" stop-color="#3a3aff"/><stop offset="0.6069" stop-color="#5a5aff"/><stop offset="0.6295" stop-color="#7676ff"/><stop offset="0.6557" stop-color="#8787ff"/><stop offset="0.6914" stop-color="#9090ff"/><stop offset="0.7533" stop-color="#8f8fff"/><stop offset="0.8171" stop-color="#9696ff"/><stop offset="0.8902" stop-color="#9090ff"/><stop offset="0.9353" stop-color="#9292ff"/><stop offset="0.9559" stop-color="#9898ff"/><stop offset="0.9709" stop-color="#a0a0ff"/><stop offset="0.9859" stop-color="#acacff"/><stop offset="0.9991" stop-color="#bcbcff"/></linearGradient><linearGradient id="h26"><stop offset="0.0009" stop-color="#c3c3ff"/><stop offset="0.0216" stop-color="#a9a9ff"/><stop offset="0.0385" stop-color="#9a9aff"/><stop offset="0.0572" stop-color="#9191ff"/><stop offset="0.0797" stop-color="#8b8bff"/><stop offset="0.1473" stop-color="#8a8aff"/><stop offset="0.3030" stop-color="#9999ff"/><stop offset="0.3274" stop-color="#9797ff"/><stop offset="0.3499" stop-color="#9090ff"/><stop offset="0.3762" stop-color="#7c7cff"/><stop offset="0.3949" stop-color="#6363ff"/><stop offset="0.4099" stop-color="#4343ff"/><stop offset="0.4306" stop-color="#0202ff"/><stop offset="0.4325" stop-color="#0400fb"/><stop offset="0.4400" stop-color="#1900e6"/><stop offset="0.4493" stop-color="#3b00c4"/><stop offset="0.4625" stop-color="#64009b"/><stop offset="0.4756" stop-color="#880077"/><stop offset="0.4869" stop-color="#980067"/><stop offset="0.5000" stop-color="#9f0060"/><stop offset="0.5113" stop-color="#980067"/><stop offset="0.5188" stop-color="#8e0071"/><stop offset="0.5244" stop-color="#82007d"/><stop offset="0.5432" stop-color="#4b00b4"/><stop offset="0.5525" stop-color="#2800d7"/><stop offset="0.5675" stop-color="#0101ff"/><stop offset="0.5882" stop-color="#3b3bff"/><stop offset="0.6051" stop-color="#5c5cff"/><stop offset="0.6276" stop-color="#7979ff"/><stop offset="0.6557" stop-color="#8c8cff"/><stop offset="0.6914" stop-color="#9494ff"/><stop offset="0.7533" stop-color="#9393ff"/><stop offset="0.8171" stop-color="#9a9aff"/><stop offset="0.8902" stop-color="#9494ff"/><stop offset="0.9353" stop-color="#9696ff"/><stop offset="0.9559" stop-color="#9b9bff"/><stop offset="0.9709" stop-color="#a3a3ff"/><stop offset="0.9859" stop-color="#afafff"/><stop offset="0.9991" stop-color="#bebeff"/></linearGradient><linearGradient id="h27"><stop offset="0.0009" stop-color="#c5c5ff"/><stop offset="0.0216" stop-color="#acacff"/><stop offset="0.0385" stop-color="#9e9eff"/><stop offset="0.0572" stop-color="#9494ff"/><stop offset="0.0797" stop-color="#8f8fff"/><stop offset="0.1473" stop-color="#8e8eff"/><stop offset="0.3030" stop-color="#9d9dff"/><stop offset="0.3274" stop-color="#9b9bff"/><stop offset="0.3499" stop-color="#9393ff"/><stop offset="0.3762" stop-color="#7f7fff"/><stop offset="0.3968" stop-color="#6363ff"/><stop offset="0.4118" stop-color="#4040ff"/><stop offset="0.4306" stop-color="#0404ff"/><stop offset="0.4325" stop-color="#0100fe"/><stop offset="0.4400" stop-color="#1700e8"/><stop offset="0.4493" stop-color="#3900c6"/><stop offset="0.4625" stop-color="#62009d"/><stop offset="0.4756" stop-color="#870078"/><stop offset="0.4869" stop-color="#960069"/><stop offset="0.5000" stop-color="#9d0062"/><stop offset="0.5113" stop-color="#970068"/><stop offset="0.5188" stop-color="#8c0073"/><stop offset="0.5244" stop-color="#80007f"/><stop offset="0.5432" stop-color="#4900b6"/><stop offset="0.5525" stop-color="#2600d9"/><stop offset="0.5657" stop-color="#0300fc"/><stop offset="0.5675" stop-color="#0303ff"/><stop offset="0.5788" stop-color="#2525ff"/><stop offset="0.5901" stop-color="#4343ff"/><stop offset="0.6069" stop-color="#6262ff"/><stop offset="0.6295" stop-color="#7e7eff"/><stop offset="0.6557" stop-color="#8f8fff"/><stop offset="0.6914" stop-color="#9898ff"/><stop offset="0.7533" stop-color="#9797ff"/><stop offset="0.8171" stop-color="#9d9dff"/><stop offset="0.8902" stop-color="#9898ff"/><stop offset="0.9353" stop-color="#9999ff"/><stop offset="0.9559" stop-color="#9f9fff"/><stop offset="0.9709" stop-color="#a6a6ff"/><stop offset="0.9859" stop-color="#b2b2ff"/><stop offset="0.9991" stop-color="#c1c1ff"/></linearGradient><linearGradient id="h28"><stop offset="0.0009" stop-color="#c4c4ff"/><stop offset="0.0216" stop-color="#ababff"/><stop offset="0.0385" stop-color="#9c9cff"/><stop offset="0.0572" stop-color="#9292ff"/><stop offset="0.0797" stop-color="#8d8dff"/><stop offset="0.1473" stop-color="#8c8cff"/><stop offset="0.3011" stop-color="#9b9bff"/><stop offset="0.3255" stop-color="#9999ff"/><stop offset="0.3480" stop-color="#9191ff"/><stop offset="0.3612" stop-color="#8a8aff"/><stop offset="0.3743" stop-color="#7e7eff"/><stop offset="0.3949" stop-color="#6262ff"/><stop offset="0.4099" stop-color="#3f3fff"/><stop offset="0.4287" stop-color="#0303ff"/><stop offset="0.4306" stop-color="#0400fb"/><stop offset="0.4400" stop-color="#2100de"/><stop offset="0.4493" stop-color="#4400bb"/><stop offset="0.4625" stop-color="#6e0091"/><stop offset="0.4756" stop-color="#94006b"/><stop offset="0.4869" stop-color="#a5005a"/><stop offset="0.5000" stop-color="#ac0053"/><stop offset="0.5113" stop-color="#a5005a"/><stop offset="0.5188" stop-color="#9a0065"/><stop offset="0.5244" stop-color="#8e0071"/><stop offset="0.5432" stop-color="#5500aa"/><stop offset="0.5525" stop-color="#3000cf"/><stop offset="0.5694" stop-color="#0101ff"/><stop offset="0.5807" stop-color="#2424ff"/><stop offset="0.5901" stop-color="#3d3dff"/><stop offset="0.6069" stop-color="#5e5eff"/><stop offset="0.6295" stop-color="#7b7bff"/><stop offset="0.6557" stop-color="#8d8dff"/><stop offset="0.6914" stop-color="#9696ff"/><stop offset="0.7533" stop-color="#9494ff"/><stop offset="0.8171" stop-color="#9b9bff"/><stop offset="0.8902" stop-color="#9696ff"/><stop offset="0.9353" stop-color="#9797ff"/><stop offset="0.9559" stop-color="#9d9dff"/><stop offset="0.9709" stop-color="#a5a5ff"/><stop offset="0.9859" stop-color="#b0b0ff"/><stop offset="0.9991" stop-color="#bfbfff"/></linearGradient><linearGradient id="h29"><stop offset="0.0009" stop-color="#c2c2ff"/><stop offset="0.0216" stop-color="#a8a8ff"/><stop offset="0.0385" stop-color="#9898ff"/><stop offset="0.0572" stop-color="#8f8fff"/><stop offset="0.0816" stop-color="#8888ff"/><stop offset="0.1473" stop-color="#8888ff"/><stop offset="0.2992" stop-color="#9797ff"/><stop offset="0.3236" stop-color="#9696ff"/><stop offset="0.3443" stop-color="#9090ff"/><stop offset="0.3574" stop-color="#8888ff"/><stop offset="0.3705" stop-color="#7d7dff"/><stop offset="0.3818" stop-color="#7070ff"/><stop offset="0.3931" stop-color="#5f5fff"/><stop offset="0.4081" stop-color="#3c3cff"/><stop offset="0.4250" stop-color="#0505ff"/><stop offset="0.4268" stop-color="#0200fd"/><stop offset="0.4400" stop-color="#2e00d1"/><stop offset="0.4568" stop-color="#6d0092"/><stop offset="0.4756" stop-color="#a80057"/><stop offset="0.4869" stop-color="#b90046"/><stop offset="0.5000" stop-color="#c1003e"/><stop offset="0.5131" stop-color="#b70048"/><stop offset="0.5188" stop-color="#ae0051"/><stop offset="0.5263" stop-color="#9c0063"/><stop offset="0.5432" stop-color="#65009a"/><stop offset="0.5525" stop-color="#3f00c0"/><stop offset="0.5713" stop-color="#0500fa"/><stop offset="0.5732" stop-color="#0202ff"/><stop offset="0.5901" stop-color="#3434ff"/><stop offset="0.6088" stop-color="#5b5bff"/><stop offset="0.6295" stop-color="#7676ff"/><stop offset="0.6576" stop-color="#8a8aff"/><stop offset="0.6914" stop-color="#9393ff"/><stop offset="0.7533" stop-color="#9191ff"/><stop offset="0.8171" stop-color="#9898ff"/><stop offset="0.8902" stop-color="#9292ff"/><stop offset="0.9353" stop-color="#9494ff"/><stop offset="0.9559" stop-color="#9a9aff"/><stop offset="0.9709" stop-color="#a2a2ff"/><stop offset="0.9859" stop-color="#aeaeff"/><stop offset="0.9991" stop-color="#bdbdff"/></linearGradient><linearGradient id="h30"><stop offset="0.0009" stop-color="#c2c2ff"/><stop offset="0.0216" stop-color="#a8a8ff"/><stop offset="0.0385" stop-color="#9898ff"/><stop offset="0.0572" stop-color="#8e8eff"/><stop offset="0.0816" stop-color="#8888ff"/><stop offset="0.1473" stop-color="#8787ff"/><stop offset="0.2974" stop-color="#9797ff"/><stop offset="0.3218" stop-color="#9696ff"/><stop offset="0.3424" stop-color="#9090ff"/><stop offset="0.3668" stop-color="#7f7fff"/><stop offset="0.3799" stop-color="#7070ff"/><stop offset="0.3893" stop-color="#6262ff"/><stop offset="0.3968" stop-color="#5353ff"/><stop offset="0.4062" stop-color="#3c3cff"/><stop offset="0.4137" stop-color="#2525ff"/><stop offset="0.4231" stop-color="#0404ff"/><stop offset="0.4250" stop-color="#0300fc"/><stop offset="0.4400" stop-color="#3900c6"/><stop offset="0.4512" stop-color="#670098"/><stop offset="0.4737" stop-color="#b4004b"/><stop offset="0.4794" stop-color="#c0003f"/><stop offset="0.4850" stop-color="#c90036"/><stop offset="0.5000" stop-color="#d3002c"/><stop offset="0.5131" stop-color="#c90036"/><stop offset="0.5188" stop-color="#bf0040"/><stop offset="0.5263" stop-color="#ad0052"/><stop offset="0.5432" stop-color="#73008c"/><stop offset="0.5525" stop-color="#4b00b4"/><stop offset="0.5619" stop-color="#2e00d1"/><stop offset="0.5750" stop-color="#0000ff"/><stop offset="0.5919" stop-color="#3434ff"/><stop offset="0.6107" stop-color="#5b5bff"/><stop offset="0.6313" stop-color="#7676ff"/><stop offset="0.6576" stop-color="#8989ff"/><stop offset="0.6914" stop-color="#9292ff"/><stop offset="0.7533" stop-color="#9090ff"/><stop offset="0.8171" stop-color="#9898ff"/><stop offset="0.8902" stop-color="#9292ff"/><stop offset="0.9353" stop-color="#9494ff"/><stop offset="0.9559" stop-color="#9999ff"/><stop offset="0.9709" stop-color="#a1a1ff"/><stop offset="0.9859" stop-color="#adadff"/><stop offset="0.9991" stop-color="#bdbdff"/></linearGradient><linearGradient id="h31"><stop offset="0.0009" stop-color="#c2c2ff"/><stop offset="0.0235" stop-color="#a6a6ff"/><stop offset="0.0403" stop-color="#9696ff"/><stop offset="0.0591" stop-color="#8d8dff"/><stop offset="0.0835" stop-color="#8787ff"/><stop offset="0.1492" stop-color="#8686ff"/><stop offset="0.2955" stop-color="#9797ff"/><stop offset="0.3218" stop-color="#9696ff"/><stop offset="0.3405" stop-color="#9191ff"/><stop offset="0.3649" stop-color="#8080ff"/><stop offset="0.3780" stop-color="#7171ff"/><stop offset="0.3874" stop-color="#6262ff"/><stop offset="0.3968" stop-color="#5050ff"/><stop offset="0.4043" stop-color="#3d3dff"/><stop offset="0.4118" stop-color="#2626ff"/><stop offset="0.4212" stop-color="#0404ff"/><stop offset="0.4231" stop-color="#0300fc"/><stop offset="0.4400" stop-color="#4300bc"/><stop offset="0.4512" stop-color="#72008d"/><stop offset="0.4737" stop-color="#c2003d"/><stop offset="0.4794" stop-color="#d0002f"/><stop offset="0.4850" stop-color="#d80027"/><stop offset="0.4925" stop-color="#e0001f"/><stop offset="0.5000" stop-color="#e3001c"/><stop offset="0.5075" stop-color="#df0020"/><stop offset="0.5131" stop-color="#d80027"/><stop offset="0.5188" stop-color="#ce0031"/><stop offset="0.5263" stop-color="#bb0044"/><stop offset="0.5432" stop-color="#7f0080"/><stop offset="0.5525" stop-color="#5500aa"/><stop offset="0.5619" stop-color="#3700c8"/><stop offset="0.5769" stop-color="#0000ff"/><stop offset="0.5863" stop-color="#1f1fff"/><stop offset="0.5938" stop-color="#3434ff"/><stop offset="0.6032" stop-color="#4a4aff"/><stop offset="0.6126" stop-color="#5b5bff"/><stop offset="0.6332" stop-color="#7777ff"/><stop offset="0.6595" stop-color="#8a8aff"/><stop offset="0.6932" stop-color="#9292ff"/><stop offset="0.7533" stop-color="#9090ff"/><stop offset="0.8171" stop-color="#9898ff"/><stop offset="0.8902" stop-color="#9292ff"/><stop offset="0.9353" stop-color="#9494ff"/><stop offset="0.9559" stop-color="#9a9aff"/><stop offset="0.9709" stop-color="#a2a2ff"/><stop offset="0.9859" stop-color="#aeaeff"/><stop offset="0.9991" stop-color="#bdbdff"/></linearGradient><linearGradient id="h32"><stop offset="0.0009" stop-color="#c2c2ff"/><stop offset="0.0235" stop-color="#a5a5ff"/><stop offset="0.0403" stop-color="#9595ff"/><stop offset="0.0610" stop-color="#8b8bff"/><stop offset="0.0854" stop-color="#8484ff"/><stop offset="0.1510" stop-color="#8282ff"/><stop offset="0.2955" stop-color="#9797ff"/><stop offset="0.3218" stop-color="#9696ff"/><stop offset="0.3405" stop-color="#9090ff"/><stop offset="0.3649" stop-color="#7f7fff"/><stop offset="0.3780" stop-color="#6f6fff"/><stop offset="0.3874" stop-color="#6060ff"/><stop offset="0.3968" stop-color="#4d4dff"/><stop offset="0.4043" stop-color="#3939ff"/><stop offset="0.4212" stop-color="#0100fe"/><stop offset="0.4400" stop-color="#4b00b4"/><stop offset="0.4512" stop-color="#7c0083"/><stop offset="0.4644" stop-color="#ae0051"/><stop offset="0.4737" stop-color="#cf0030"/><stop offset="0.4794" stop-color="#dc0023"/><stop offset="0.4850" stop-color="#e5001a"/><stop offset="0.4925" stop-color="#ed0012"/><stop offset="0.5000" stop-color="#f0000f"/><stop offset="0.5075" stop-color="#ec0013"/><stop offset="0.5131" stop-color="#e60019"/><stop offset="0.5188" stop-color="#db0024"/><stop offset="0.5263" stop-color="#c70038"/><stop offset="0.5432" stop-color="#890076"/><stop offset="0.5525" stop-color="#5e00a1"/><stop offset="0.5600" stop-color="#4600b9"/><stop offset="0.5788" stop-color="#0101ff"/><stop offset="0.5938" stop-color="#3030ff"/><stop offset="0.6051" stop-color="#4b4bff"/><stop offset="0.6144" stop-color="#5c5cff"/><stop offset="0.6351" stop-color="#7777ff"/><stop offset="0.6595" stop-color="#8989ff"/><stop offset="0.6932" stop-color="#9292ff"/><stop offset="0.7533" stop-color="#9090ff"/><stop offset="0.8171" stop-color="#9797ff"/><stop offset="0.8884" stop-color="#9191ff"/><stop offset="0.9353" stop-color="#9393ff"/><stop offset="0.9559" stop-color="#9999ff"/><stop offset="0.9709" stop-color="#a1a1ff"/><stop offset="0.9859" stop-color="#adadff"/><stop offset="0.9991" stop-color="#bdbdff"/></linearGradient><linearGradient id="h33"><stop offset="0.0009" stop-color="#c1c1ff"/><stop offset="0.0253" stop-color="#a0a0ff"/><stop offset="0.0422" stop-color="#9191ff"/><stop offset="0.0666" stop-color="#8484ff"/><stop offset="0.0966" stop-color="#7d7dff"/><stop offset="0.1548" stop-color="#7c7cff"/><stop offset="0.2936" stop-color="#9494ff"/><stop offset="0.3199" stop-color="#9494ff"/><stop offset="0.3405" stop-color="#8e8eff"/><stop offset="0.3630" stop-color="#7f7fff"/><stop offset="0.3762" stop-color="#6f6fff"/><stop offset="0.3856" stop-color="#6161ff"/><stop offset="0.3949" stop-color="#4e4eff"/><stop offset="0.4024" stop-color="#3b3bff"/><stop offset="0.4099" stop-color="#2424ff"/><stop offset="0.4193" stop-color="#0101ff"/><stop offset="0.4212" stop-color="#0600f9"/><stop offset="0.4400" stop-color="#5200ad"/><stop offset="0.4512" stop-color="#84007b"/><stop offset="0.4644" stop-color="#b70048"/><stop offset="0.4737" stop-color="#d80027"/><stop offset="0.4794" stop-color="#e60019"/><stop offset="0.4869" stop-color="#f2000d"/><stop offset="0.5000" stop-color="#fb0004"/><stop offset="0.5075" stop-color="#f70008"/><stop offset="0.5131" stop-color="#f0000f"/><stop offset="0.5188" stop-color="#e5001a"/><stop offset="0.5263" stop-color="#d1002e"/><stop offset="0.5432" stop-color="#91006e"/><stop offset="0.5525" stop-color="#660099"/><stop offset="0.5619" stop-color="#4500ba"/><stop offset="0.5788" stop-color="#0400fb"/><stop offset="0.5807" stop-color="#0202ff"/><stop offset="0.5957" stop-color="#3131ff"/><stop offset="0.6051" stop-color="#4747ff"/><stop offset="0.6144" stop-color="#5959ff"/><stop offset="0.6351" stop-color="#7474ff"/><stop offset="0.6595" stop-color="#8686ff"/><stop offset="0.6970" stop-color="#8f8fff"/><stop offset="0.7533" stop-color="#8c8cff"/><stop offset="0.8208" stop-color="#9494ff"/><stop offset="0.8884" stop-color="#8e8eff"/><stop offset="0.9353" stop-color="#9191ff"/><stop offset="0.9559" stop-color="#9797ff"/><stop offset="0.9709" stop-color="#9f9fff"/><stop offset="0.9859" stop-color="#acacff"/><stop offset="0.9991" stop-color="#bcbcff"/></linearGradient><linearGradient id="h34"><stop offset="0.0009" stop-color="#bebeff"/><stop offset="0.0272" stop-color="#9a9aff"/><stop offset="0.0460" stop-color="#8989ff"/><stop offset="0.0779" stop-color="#7878ff"/><stop offset="0.1079" stop-color="#7272ff"/><stop offset="0.1585" stop-color="#7272ff"/><stop offset="0.2936" stop-color="#9191ff"/><stop offset="0.3199" stop-color="#9191ff"/><stop offset="0.3405" stop-color="#8b8bff"/><stop offset="0.3630" stop-color="#7b7bff"/><stop offset="0.3762" stop-color="#6c6cff"/><stop offset="0.3856" stop-color="#5d5dff"/><stop offset="0.4006" stop-color="#3d3dff"/><stop offset="0.4081" stop-color="#2727ff"/><stop offset="0.4174" stop-color="#0505ff"/><stop offset="0.4193" stop-color="#0200fd"/><stop offset="0.4400" stop-color="#5500aa"/><stop offset="0.4512" stop-color="#870078"/><stop offset="0.4644" stop-color="#bb0044"/><stop offset="0.4737" stop-color="#dc0023"/><stop offset="0.4794" stop-color="#ea0015"/><stop offset="0.4850" stop-color="#f4000b"/><stop offset="0.4925" stop-color="#fb0004"/><stop offset="0.5000" stop-color="#ff0000"/><stop offset="0.5075" stop-color="#fb0004"/><stop offset="0.5131" stop-color="#f4000b"/><stop offset="0.5188" stop-color="#e90016"/><stop offset="0.5263" stop-color="#d5002a"/><stop offset="0.5432" stop-color="#95006a"/><stop offset="0.5525" stop-color="#690096"/><stop offset="0.5619" stop-color="#4900b6"/><stop offset="0.5807" stop-color="#0100fe"/><stop offset="0.5976" stop-color="#3232ff"/><stop offset="0.6069" stop-color="#4747ff"/><stop offset="0.6163" stop-color="#5858ff"/><stop offset="0.6351" stop-color="#7070ff"/><stop offset="0.6595" stop-color="#8282ff"/><stop offset="0.6951" stop-color="#8b8bff"/><stop offset="0.7514" stop-color="#8787ff"/><stop offset="0.8189" stop-color="#8f8fff"/><stop offset="0.8865" stop-color="#8a8aff"/><stop offset="0.9353" stop-color="#8c8cff"/><stop offset="0.9559" stop-color="#9393ff"/><stop offset="0.9709" stop-color="#9c9cff"/><stop offset="0.9859" stop-color="#a9a9ff"/><stop offset="0.9991" stop-color="#babaff"/></linearGradient><linearGradient id="h35"><stop offset="0.0009" stop-color="#bcbcff"/><stop offset="0.0272" stop-color="#9595ff"/><stop offset="0.0478" stop-color="#8181ff"/><stop offset="0.0797" stop-color="#6e6eff"/><stop offset="0.1154" stop-color="#6565ff"/><stop offset="0.1398" stop-color="#6363ff"/><stop offset="0.1623" stop-color="#6666ff"/><stop offset="0.2917" stop-color="#8c8cff"/><stop offset="0.3199" stop-color="#8d8dff"/><stop offset="0.3405" stop-color="#8888ff"/><stop offset="0.3630" stop-color="#7979ff"/><stop offset="0.3856" stop-color="#5b5bff"/><stop offset="0.4006" stop-color="#3c3cff"/><stop offset="0.4081" stop-color="#2626ff"/><stop offset="0.4174" stop-color="#0505ff"/><stop offset="0.4193" stop-color="#0200fd"/><stop offset="0.4400" stop-color="#5400ab"/><stop offset="0.4512" stop-color="#85007a"/><stop offset="0.4737" stop-color="#d90026"/><stop offset="0.4794" stop-color="#e70018"/><stop offset="0.4850" stop-color="#f0000f"/><stop offset="0.4944" stop-color="#f90006"/><stop offset="0.5000" stop-color="#fb0004"/><stop offset="0.5075" stop-color="#f70008"/><stop offset="0.5131" stop-color="#f0000f"/><stop offset="0.5188" stop-color="#e60019"/><stop offset="0.5263" stop-color="#d2002d"/><stop offset="0.5432" stop-color="#93006c"/><stop offset="0.5525" stop-color="#680097"/><stop offset="0.5619" stop-color="#4900b6"/><stop offset="0.5807" stop-color="#0200fd"/><stop offset="0.5826" stop-color="#0404ff"/><stop offset="0.5901" stop-color="#1c1cff"/><stop offset="0.5976" stop-color="#3030ff"/><stop offset="0.6069" stop-color="#4444ff"/><stop offset="0.6163" stop-color="#5555ff"/><stop offset="0.6351" stop-color="#6c6cff"/><stop offset="0.6595" stop-color="#7d7dff"/><stop offset="0.6951" stop-color="#8585ff"/><stop offset="0.7514" stop-color="#8282ff"/><stop offset="0.8189" stop-color="#8989ff"/><stop offset="0.8846" stop-color="#8484ff"/><stop offset="0.9334" stop-color="#8787ff"/><stop offset="0.9540" stop-color="#8e8eff"/><stop offset="0.9690" stop-color="#9797ff"/><stop offset="0.9859" stop-color="#a6a6ff"/><stop offset="0.9991" stop-color="#b7b7ff"/></linearGradient><linearGradient id="h36"><stop offset="0.0009" stop-color="#b9b9ff"/><stop offset="0.0272" stop-color="#9191ff"/><stop offset="0.0497" stop-color="#7979ff"/><stop offset="0.0816" stop-color="#6464ff"/><stop offset="0.1191" stop-color="#5858ff"/><stop offset="0.1435" stop-color="#5757ff"/><stop offset="0.1642" stop-color="#5a5aff"/><stop offset="0.2917" stop-color="#8888ff"/><stop offset="0.3199" stop-color="#8a8aff"/><stop offset="0.3424" stop-color="#8484ff"/><stop offset="0.3649" stop-color="#7575ff"/><stop offset="0.3780" stop-color="#6666ff"/><stop offset="0.3874" stop-color="#5858ff"/><stop offset="0.3968" stop-color="#4646ff"/><stop offset="0.4043" stop-color="#3333ff"/><stop offset="0.4118" stop-color="#1c1cff"/><stop offset="0.4193" stop-color="#0101ff"/><stop offset="0.4212" stop-color="#0600f9"/><stop offset="0.4325" stop-color="#3300cc"/><stop offset="0.4400" stop-color="#4d00b2"/><stop offset="0.4512" stop-color="#7d0082"/><stop offset="0.4737" stop-color="#cd0032"/><stop offset="0.4794" stop-color="#db0024"/><stop offset="0.4850" stop-color="#e4001b"/><stop offset="0.5000" stop-color="#ee0011"/><stop offset="0.5075" stop-color="#ea0015"/><stop offset="0.5131" stop-color="#e4001b"/><stop offset="0.5188" stop-color="#da0025"/><stop offset="0.5263" stop-color="#c70038"/><stop offset="0.5432" stop-color="#8a0075"/><stop offset="0.5525" stop-color="#60009f"/><stop offset="0.5619" stop-color="#4300bc"/><stop offset="0.5807" stop-color="#0000ff"/><stop offset="0.5957" stop-color="#2c2cff"/><stop offset="0.6051" stop-color="#4040ff"/><stop offset="0.6144" stop-color="#5050ff"/><stop offset="0.6332" stop-color="#6767ff"/><stop offset="0.6576" stop-color="#7878ff"/><stop offset="0.6932" stop-color="#8080ff"/><stop offset="0.7514" stop-color="#7c7cff"/><stop offset="0.8189" stop-color="#8484ff"/><stop offset="0.8846" stop-color="#7f7fff"/><stop offset="0.9334" stop-color="#8383ff"/><stop offset="0.9540" stop-color="#8a8aff"/><stop offset="0.9690" stop-color="#9393ff"/><stop offset="0.9859" stop-color="#a2a2ff"/><stop offset="0.9991" stop-color="#b5b5ff"/></linearGradient><linearGradient id="h37"><stop offset="0.0009" stop-color="#b7b7ff"/><stop offset="0.0291" stop-color="#8b8bff"/><stop offset="0.0535" stop-color="#7070ff"/><stop offset="0.0835" stop-color="#5c5cff"/><stop offset="0.1229" stop-color="#4e4eff"/><stop offset="0.1454" stop-color="#4d4dff"/><stop offset="0.1660" stop-color="#5151ff"/><stop offset="0.2917" stop-color="#8585ff"/><stop offset="0.3218" stop-color="#8787ff"/><stop offset="0.3443" stop-color="#8181ff"/><stop offset="0.3668" stop-color="#7272ff"/><stop offset="0.3799" stop-color="#6464ff"/><stop offset="0.3893" stop-color="#5757ff"/><stop offset="0.3968" stop-color="#4949ff"/><stop offset="0.4062" stop-color="#3232ff"/><stop offset="0.4212" stop-color="#0202ff"/><stop offset="0.4231" stop-color="#0500fa"/><stop offset="0.4325" stop-color="#2900d6"/><stop offset="0.4400" stop-color="#4100be"/><stop offset="0.4512" stop-color="#6e0091"/><stop offset="0.4737" stop-color="#bb0044"/><stop offset="0.4794" stop-color="#c80037"/><stop offset="0.4850" stop-color="#d0002f"/><stop offset="0.5000" stop-color="#da0025"/><stop offset="0.5131" stop-color="#d0002f"/><stop offset="0.5188" stop-color="#c70038"/><stop offset="0.5263" stop-color="#b5004a"/><stop offset="0.5432" stop-color="#7c0083"/><stop offset="0.5525" stop-color="#5300ac"/><stop offset="0.5619" stop-color="#3800c7"/><stop offset="0.5788" stop-color="#0101ff"/><stop offset="0.5938" stop-color="#2b2bff"/><stop offset="0.6107" stop-color="#4b4bff"/><stop offset="0.6313" stop-color="#6464ff"/><stop offset="0.6576" stop-color="#7575ff"/><stop offset="0.6914" stop-color="#7d7dff"/><stop offset="0.7533" stop-color="#7777ff"/><stop offset="0.8189" stop-color="#7f7fff"/><stop offset="0.8827" stop-color="#7b7bff"/><stop offset="0.9334" stop-color="#7f7fff"/><stop offset="0.9559" stop-color="#8787ff"/><stop offset="0.9690" stop-color="#9090ff"/><stop offset="0.9859" stop-color="#a0a0ff"/><stop offset="0.9991" stop-color="#b3b3ff"/></linearGradient><linearGradient id="h38"><stop offset="0.0009" stop-color="#b7b7ff"/><stop offset="0.0291" stop-color="#8989ff"/><stop offset="0.0535" stop-color="#6e6eff"/><stop offset="0.0854" stop-color="#5757ff"/><stop offset="0.1248" stop-color="#4949ff"/><stop offset="0.1473" stop-color="#4848ff"/><stop offset="0.1679" stop-color="#4d4dff"/><stop offset="0.2917" stop-color="#8383ff"/><stop offset="0.3218" stop-color="#8686ff"/><stop offset="0.3480" stop-color="#7f7fff"/><stop offset="0.3724" stop-color="#6e6eff"/><stop offset="0.3931" stop-color="#5555ff"/><stop offset="0.4081" stop-color="#3535ff"/><stop offset="0.4250" stop-color="#0100fe"/><stop offset="0.4400" stop-color="#3200cd"/><stop offset="0.4512" stop-color="#5c00a3"/><stop offset="0.4756" stop-color="#a80057"/><stop offset="0.4869" stop-color="#b80047"/><stop offset="0.5000" stop-color="#c0003f"/><stop offset="0.5131" stop-color="#b70048"/><stop offset="0.5188" stop-color="#ae0051"/><stop offset="0.5263" stop-color="#9d0062"/><stop offset="0.5432" stop-color="#680097"/><stop offset="0.5525" stop-color="#4200bd"/><stop offset="0.5619" stop-color="#2a00d5"/><stop offset="0.5750" stop-color="#0200fd"/><stop offset="0.5919" stop-color="#2c2cff"/><stop offset="0.6088" stop-color="#4b4bff"/><stop offset="0.6295" stop-color="#6363ff"/><stop offset="0.6557" stop-color="#7373ff"/><stop offset="0.6914" stop-color="#7a7aff"/><stop offset="0.7533" stop-color="#7474ff"/><stop offset="0.8189" stop-color="#7c7cff"/><stop offset="0.8809" stop-color="#7878ff"/><stop offset="0.9315" stop-color="#7c7cff"/><stop offset="0.9522" stop-color="#8383ff"/><stop offset="0.9690" stop-color="#8e8eff"/><stop offset="0.9859" stop-color="#9f9fff"/><stop offset="0.9991" stop-color="#b2b2ff"/></linearGradient><linearGradient id="h39"><stop offset="0.0009" stop-color="#b6b6ff"/><stop offset="0.0291" stop-color="#8888ff"/><stop offset="0.0535" stop-color="#6d6dff"/><stop offset="0.0835" stop-color="#5757ff"/><stop offset="0.1229" stop-color="#4848ff"/><stop offset="0.1454" stop-color="#4747ff"/><stop offset="0.1679" stop-color="#4c4cff"/><stop offset="0.2917" stop-color="#8282ff"/><stop offset="0.3236" stop-color="#8585ff"/><stop offset="0.3518" stop-color="#7e7eff"/><stop offset="0.3780" stop-color="#6b6bff"/><stop offset="0.3968" stop-color="#5353ff"/><stop offset="0.4099" stop-color="#3737ff"/><stop offset="0.4268" stop-color="#0505ff"/><stop offset="0.4287" stop-color="#0100fe"/><stop offset="0.4400" stop-color="#2200dd"/><stop offset="0.4512" stop-color="#4800b7"/><stop offset="0.4756" stop-color="#8f0070"/><stop offset="0.4869" stop-color="#9d0062"/><stop offset="0.5000" stop-color="#a4005b"/><stop offset="0.5113" stop-color="#9f0060"/><stop offset="0.5188" stop-color="#95006a"/><stop offset="0.5244" stop-color="#890076"/><stop offset="0.5432" stop-color="#5400ab"/><stop offset="0.5525" stop-color="#3100ce"/><stop offset="0.5600" stop-color="#2000df"/><stop offset="0.5713" stop-color="#0200fd"/><stop offset="0.5732" stop-color="#0404ff"/><stop offset="0.5901" stop-color="#2f2fff"/><stop offset="0.6069" stop-color="#4c4cff"/><stop offset="0.6276" stop-color="#6262ff"/><stop offset="0.6538" stop-color="#7171ff"/><stop offset="0.6895" stop-color="#7878ff"/><stop offset="0.7533" stop-color="#7272ff"/><stop offset="0.8189" stop-color="#7a7aff"/><stop offset="0.8771" stop-color="#7676ff"/><stop offset="0.9296" stop-color="#7a7aff"/><stop offset="0.9484" stop-color="#8080ff"/><stop offset="0.9672" stop-color="#8b8bff"/><stop offset="0.9841" stop-color="#9b9bff"/><stop offset="0.9991" stop-color="#b1b1ff"/></linearGradient><linearGradient id="h40"><stop offset="0.0009" stop-color="#b5b5ff"/><stop offset="0.0291" stop-color="#8787ff"/><stop offset="0.0516" stop-color="#6f6fff"/><stop offset="0.0835" stop-color="#5858ff"/><stop offset="0.1210" stop-color="#4c4cff"/><stop offset="0.1454" stop-color="#4b4bff"/><stop offset="0.1660" stop-color="#4f4fff"/><stop offset="0.2936" stop-color="#8282ff"/><stop offset="0.3236" stop-color="#8484ff"/><stop offset="0.3537" stop-color="#7d7dff"/><stop offset="0.3799" stop-color="#6b6bff"/><stop offset="0.3968" stop-color="#5858ff"/><stop offset="0.4118" stop-color="#3a3aff"/><stop offset="0.4325" stop-color="#0000ff"/><stop offset="0.4343" stop-color="#0500fa"/><stop offset="0.4418" stop-color="#1800e7"/><stop offset="0.4512" stop-color="#3600c9"/><stop offset="0.4756" stop-color="#770088"/><stop offset="0.4869" stop-color="#84007b"/><stop offset="0.5000" stop-color="#8a0075"/><stop offset="0.5113" stop-color="#85007a"/><stop offset="0.5244" stop-color="#72008d"/><stop offset="0.5432" stop-color="#4000bf"/><stop offset="0.5525" stop-color="#2000df"/><stop offset="0.5675" stop-color="#0101ff"/><stop offset="0.5882" stop-color="#3333ff"/><stop offset="0.6032" stop-color="#4b4bff"/><stop offset="0.6257" stop-color="#6161ff"/><stop offset="0.6520" stop-color="#7070ff"/><stop offset="0.6895" stop-color="#7777ff"/><stop offset="0.7533" stop-color="#7070ff"/><stop offset="0.8189" stop-color="#7979ff"/><stop offset="0.8771" stop-color="#7474ff"/><stop offset="0.9296" stop-color="#7979ff"/><stop offset="0.9484" stop-color="#7e7eff"/><stop offset="0.9672" stop-color="#8a8aff"/><stop offset="0.9841" stop-color="#9a9aff"/><stop offset="0.9991" stop-color="#b0b0ff"/></linearGradient><linearGradient id="h41"><stop offset="0.0009" stop-color="#b5b5ff"/><stop offset="0.0272" stop-color="#8b8bff"/><stop offset="0.0478" stop-color="#7474ff"/><stop offset="0.0816" stop-color="#5e5eff"/><stop offset="0.1173" stop-color="#5353ff"/><stop offset="0.1435" stop-color="#5151ff"/><stop offset="0.1642" stop-color="#5555ff"/><stop offset="0.2936" stop-color="#8282ff"/><stop offset="0.3255" stop-color="#8484ff"/><stop offset="0.3555" stop-color="#7d7dff"/><stop offset="0.3799" stop-color="#6e6eff"/><stop offset="0.3987" stop-color="#5a5aff"/><stop offset="0.4118" stop-color="#4242ff"/><stop offset="0.4343" stop-color="#0808ff"/><stop offset="0.4381" stop-color="#0101ff"/><stop offset="0.4400" stop-color="#0400fb"/><stop offset="0.4493" stop-color="#2000df"/><stop offset="0.4756" stop-color="#60009f"/><stop offset="0.4869" stop-color="#6c0093"/><stop offset="0.5000" stop-color="#72008d"/><stop offset="0.5113" stop-color="#6d0092"/><stop offset="0.5244" stop-color="#5b00a4"/><stop offset="0.5432" stop-color="#2e00d1"/><stop offset="0.5525" stop-color="#1000ef"/><stop offset="0.5619" stop-color="#0000ff"/><stop offset="0.5844" stop-color="#3333ff"/><stop offset="0.5994" stop-color="#4b4bff"/><stop offset="0.6238" stop-color="#6262ff"/><stop offset="0.6482" stop-color="#6f6fff"/><stop offset="0.6895" stop-color="#7777ff"/><stop offset="0.7533" stop-color="#7171ff"/><stop offset="0.8189" stop-color="#7979ff"/><stop offset="0.8809" stop-color="#7474ff"/><stop offset="0.9315" stop-color="#7979ff"/><stop offset="0.9522" stop-color="#8080ff"/><stop offset="0.9690" stop-color="#8b8bff"/><stop offset="0.9859" stop-color="#9c9cff"/><stop offset="0.9991" stop-color="#afafff"/></linearGradient><linearGradient id="h42"><stop offset="0.0009" stop-color="#b6b6ff"/><stop offset="0.0272" stop-color="#8c8cff"/><stop offset="0.0460" stop-color="#7878ff"/><stop offset="0.0779" stop-color="#6565ff"/><stop offset="0.1116" stop-color="#5c5cff"/><stop offset="0.1379" stop-color="#5a5aff"/><stop offset="0.1604" stop-color="#5d5dff"/><stop offset="0.2974" stop-color="#8383ff"/><stop offset="0.3255" stop-color="#8484ff"/><stop offset="0.3574" stop-color="#7d7dff"/><stop offset="0.3818" stop-color="#6f6fff"/><stop offset="0.4006" stop-color="#5d5dff"/><stop offset="0.4137" stop-color="#4545ff"/><stop offset="0.4306" stop-color="#1c1cff"/><stop offset="0.4437" stop-color="#0000ff"/><stop offset="0.4493" stop-color="#1100ee"/><stop offset="0.4756" stop-color="#4c00b3"/><stop offset="0.4869" stop-color="#5700a8"/><stop offset="0.5000" stop-color="#5c00a3"/><stop offset="0.5113" stop-color="#5800a7"/><stop offset="0.5244" stop-color="#4800b7"/><stop offset="0.5432" stop-color="#1e00e1"/><stop offset="0.5525" stop-color="#0100fe"/><stop offset="0.5600" stop-color="#0909ff"/><stop offset="0.5826" stop-color="#3737ff"/><stop offset="0.5976" stop-color="#4e4eff"/><stop offset="0.6220" stop-color="#6464ff"/><stop offset="0.6463" stop-color="#7070ff"/><stop offset="0.6895" stop-color="#7878ff"/><stop offset="0.7533" stop-color="#7272ff"/><stop offset="0.8189" stop-color="#7b7bff"/><stop offset="0.8827" stop-color="#7676ff"/><stop offset="0.9334" stop-color="#7a7aff"/><stop offset="0.9559" stop-color="#8282ff"/><stop offset="0.9690" stop-color="#8b8bff"/><stop offset="0.9859" stop-color="#9c9cff"/><stop offset="0.9991" stop-color="#b0b0ff"/></linearGradient><linearGradient id="h43"><stop offset="0.0009" stop-color="#b6b6ff"/><stop offset="0.0253" stop-color="#9090ff"/><stop offset="0.0441" stop-color="#7d7dff"/><stop offset="0.0741" stop-color="#6c6cff"/><stop offset="0.1041" stop-color="#6464ff"/><stop offset="0.1567" stop-color="#6464ff"/><stop offset="0.3030" stop-color="#8585ff"/><stop offset="0.3293" stop-color="#8585ff"/><stop offset="0.3593" stop-color="#7d7dff"/><stop offset="0.3856" stop-color="#6f6fff"/><stop offset="0.4024" stop-color="#5e5eff"/><stop offset="0.4156" stop-color="#4848ff"/><stop offset="0.4306" stop-color="#2525ff"/><stop offset="0.4400" stop-color="#1414ff"/><stop offset="0.4475" stop-color="#0000ff"/><stop offset="0.4493" stop-color="#0400fb"/><stop offset="0.4756" stop-color="#3c00c3"/><stop offset="0.4869" stop-color="#4600b9"/><stop offset="0.5000" stop-color="#4b00b4"/><stop offset="0.5113" stop-color="#4700b8"/><stop offset="0.5225" stop-color="#3a00c5"/><stop offset="0.5432" stop-color="#1000ef"/><stop offset="0.5488" stop-color="#0101ff"/><stop offset="0.5525" stop-color="#0b0bff"/><stop offset="0.5619" stop-color="#1717ff"/><stop offset="0.5807" stop-color="#3b3bff"/><stop offset="0.5938" stop-color="#4f4fff"/><stop offset="0.6163" stop-color="#6363ff"/><stop offset="0.6445" stop-color="#7171ff"/><stop offset="0.6895" stop-color="#7a7aff"/><stop offset="0.7514" stop-color="#7575ff"/><stop offset="0.8189" stop-color="#7d7dff"/><stop offset="0.8846" stop-color="#7878ff"/><stop offset="0.9334" stop-color="#7b7bff"/><stop offset="0.9540" stop-color="#8383ff"/><stop offset="0.9690" stop-color="#8c8cff"/><stop offset="0.9859" stop-color="#9d9dff"/><stop offset="0.9991" stop-color="#b0b0ff"/></linearGradient><linearGradient id="h44"><stop offset="0.0009" stop-color="#b7b7ff"/><stop offset="0.0253" stop-color="#9292ff"/><stop offset="0.0422" stop-color="#8080ff"/><stop offset="0.0629" stop-color="#7474ff"/><stop offset="0.0891" stop-color="#6c6cff"/><stop offset="0.1191" stop-color="#6969ff"/><stop offset="0.1510" stop-color="#6a6aff"/><stop offset="0.3086" stop-color="#8686ff"/><stop offset="0.3311" stop-color="#8585ff"/><stop offset="0.3612" stop-color="#7e7eff"/><stop offset="0.3874" stop-color="#7070ff"/><stop offset="0.4043" stop-color="#5f5fff"/><stop offset="0.4137" stop-color="#5050ff"/><stop offset="0.4306" stop-color="#2c2cff"/><stop offset="0.4400" stop-color="#1c1cff"/><stop offset="0.4512" stop-color="#0101ff"/><stop offset="0.4531" stop-color="#0300fc"/><stop offset="0.4756" stop-color="#3000cf"/><stop offset="0.4850" stop-color="#3800c7"/><stop offset="0.5000" stop-color="#3e00c1"/><stop offset="0.5113" stop-color="#3a00c5"/><stop offset="0.5206" stop-color="#3100ce"/><stop offset="0.5281" stop-color="#2500da"/><stop offset="0.5450" stop-color="#0200fd"/><stop offset="0.5525" stop-color="#1414ff"/><stop offset="0.5619" stop-color="#1f1fff"/><stop offset="0.5807" stop-color="#4141ff"/><stop offset="0.5919" stop-color="#5151ff"/><stop offset="0.6107" stop-color="#6262ff"/><stop offset="0.6426" stop-color="#7272ff"/><stop offset="0.6895" stop-color="#7c7cff"/><stop offset="0.7514" stop-color="#7777ff"/><stop offset="0.8189" stop-color="#7f7fff"/><stop offset="0.8846" stop-color="#7a7aff"/><stop offset="0.9334" stop-color="#7d7dff"/><stop offset="0.9540" stop-color="#8484ff"/><stop offset="0.9690" stop-color="#8d8dff"/><stop offset="0.9859" stop-color="#9d9dff"/><stop offset="0.9991" stop-color="#b0b0ff"/></linearGradient><linearGradient id="h45"><stop offset="0.0009" stop-color="#b7b7ff"/><stop offset="0.0235" stop-color="#9595ff"/><stop offset="0.0403" stop-color="#8383ff"/><stop offset="0.0591" stop-color="#7878ff"/><stop offset="0.0835" stop-color="#7070ff"/><stop offset="0.1154" stop-color="#6d6dff"/><stop offset="0.1492" stop-color="#6f6fff"/><stop offset="0.3105" stop-color="#8686ff"/><stop offset="0.3330" stop-color="#8585ff"/><stop offset="0.3630" stop-color="#7e7eff"/><stop offset="0.3912" stop-color="#7070ff"/><stop offset="0.4062" stop-color="#6060ff"/><stop offset="0.4174" stop-color="#4d4dff"/><stop offset="0.4325" stop-color="#2e2eff"/><stop offset="0.4400" stop-color="#2222ff"/><stop offset="0.4512" stop-color="#0909ff"/><stop offset="0.4550" stop-color="#0202ff"/><stop offset="0.4568" stop-color="#0200fd"/><stop offset="0.4775" stop-color="#2900d6"/><stop offset="0.5000" stop-color="#3300cc"/><stop offset="0.5094" stop-color="#3100ce"/><stop offset="0.5188" stop-color="#2900d6"/><stop offset="0.5281" stop-color="#1b00e4"/><stop offset="0.5413" stop-color="#0100fe"/><stop offset="0.5450" stop-color="#0606ff"/><stop offset="0.5525" stop-color="#1b1bff"/><stop offset="0.5619" stop-color="#2525ff"/><stop offset="0.5807" stop-color="#4545ff"/><stop offset="0.5919" stop-color="#5555ff"/><stop offset="0.6182" stop-color="#6969ff"/><stop offset="0.6501" stop-color="#7777ff"/><stop offset="0.6876" stop-color="#7e7eff"/><stop offset="0.7533" stop-color="#7a7aff"/><stop offset="0.8189" stop-color="#8282ff"/><stop offset="0.8865" stop-color="#7c7cff"/><stop offset="0.9334" stop-color="#7e7eff"/><stop offset="0.9540" stop-color="#8585ff"/><stop offset="0.9690" stop-color="#8e8eff"/><stop offset="0.9859" stop-color="#9e9eff"/><stop offset="0.9991" stop-color="#b1b1ff"/></linearGradient><linearGradient id="h46"><stop offset="0.0009" stop-color="#b8b8ff"/><stop offset="0.0235" stop-color="#9797ff"/><stop offset="0.0403" stop-color="#8585ff"/><stop offset="0.0591" stop-color="#7a7aff"/><stop offset="0.0835" stop-color="#7373ff"/><stop offset="0.1492" stop-color="#7373ff"/><stop offset="0.3105" stop-color="#8888ff"/><stop offset="0.3330" stop-color="#8787ff"/><stop offset="0.3649" stop-color="#7f7fff"/><stop offset="0.3912" stop-color="#7272ff"/><stop offset="0.4062" stop-color="#6464ff"/><stop offset="0.4174" stop-color="#5151ff"/><stop offset="0.4325" stop-color="#3333ff"/><stop offset="0.4400" stop-color="#2929ff"/><stop offset="0.4493" stop-color="#1414ff"/><stop offset="0.4606" stop-color="#0100fe"/><stop offset="0.4775" stop-color="#1f00e0"/><stop offset="0.5000" stop-color="#2900d6"/><stop offset="0.5094" stop-color="#2700d8"/><stop offset="0.5188" stop-color="#2000df"/><stop offset="0.5281" stop-color="#1200ed"/><stop offset="0.5375" stop-color="#0000ff"/><stop offset="0.5450" stop-color="#0e0eff"/><stop offset="0.5525" stop-color="#2222ff"/><stop offset="0.5619" stop-color="#2c2cff"/><stop offset="0.5807" stop-color="#4a4aff"/><stop offset="0.5919" stop-color="#5959ff"/><stop offset="0.6163" stop-color="#6b6bff"/><stop offset="0.6482" stop-color="#7979ff"/><stop offset="0.6876" stop-color="#8080ff"/><stop offset="0.7533" stop-color="#7c7cff"/><stop offset="0.8189" stop-color="#8585ff"/><stop offset="0.8884" stop-color="#7e7eff"/><stop offset="0.9353" stop-color="#8181ff"/><stop offset="0.9559" stop-color="#8888ff"/><stop offset="0.9709" stop-color="#9191ff"/><stop offset="0.9859" stop-color="#a0a0ff"/><stop offset="0.9991" stop-color="#b2b2ff"/></linearGradient><linearGradient id="h47"><stop offset="0.0009" stop-color="#babaff"/><stop offset="0.0216" stop-color="#9c9cff"/><stop offset="0.0385" stop-color="#8b8bff"/><stop offset="0.0572" stop-color="#7f7fff"/><stop offset="0.0816" stop-color="#7878ff"/><stop offset="0.1473" stop-color="#7878ff"/><stop offset="0.3161" stop-color="#8b8bff"/><stop offset="0.3537" stop-color="#8686ff"/><stop offset="0.3780" stop-color="#7e7eff"/><stop offset="0.3968" stop-color="#7373ff"/><stop offset="0.4099" stop-color="#6464ff"/><stop offset="0.4306" stop-color="#3f3fff"/><stop offset="0.4400" stop-color="#3131ff"/><stop offset="0.4493" stop-color="#1d1dff"/><stop offset="0.4662" stop-color="#0000ff"/><stop offset="0.4775" stop-color="#1300ec"/><stop offset="0.5000" stop-color="#1c00e3"/><stop offset="0.5169" stop-color="#1500ea"/><stop offset="0.5319" stop-color="#0000ff"/><stop offset="0.5450" stop-color="#1919ff"/><stop offset="0.5525" stop-color="#2b2bff"/><stop offset="0.5619" stop-color="#3434ff"/><stop offset="0.5901" stop-color="#5d5dff"/><stop offset="0.6088" stop-color="#6c6cff"/><stop offset="0.6445" stop-color="#7c7cff"/><stop offset="0.6876" stop-color="#8484ff"/><stop offset="0.7533" stop-color="#8181ff"/><stop offset="0.8189" stop-color="#8989ff"/><stop offset="0.8884" stop-color="#8383ff"/><stop offset="0.9353" stop-color="#8585ff"/><stop offset="0.9559" stop-color="#8c8cff"/><stop offset="0.9709" stop-color="#9595ff"/><stop offset="0.9859" stop-color="#a3a3ff"/><stop offset="0.9991" stop-color="#b4b4ff"/></linearGradient><linearGradient id="h48"><stop offset="0.0009" stop-color="#bdbdff"/><stop offset="0.0216" stop-color="#a0a0ff"/><stop offset="0.0385" stop-color="#8f8fff"/><stop offset="0.0572" stop-color="#8484ff"/><stop offset="0.0816" stop-color="#7d7dff"/><stop offset="0.1473" stop-color="#7d7dff"/><stop offset="0.3161" stop-color="#8f8fff"/><stop offset="0.3537" stop-color="#8b8bff"/><stop offset="0.3799" stop-color="#8282ff"/><stop offset="0.3968" stop-color="#7979ff"/><stop offset="0.4099" stop-color="#6b6bff"/><stop offset="0.4306" stop-color="#4848ff"/><stop offset="0.4400" stop-color="#3b3bff"/><stop offset="0.4493" stop-color="#2828ff"/><stop offset="0.4737" stop-color="#0000ff"/><stop offset="0.4812" stop-color="#0800f7"/><stop offset="0.5000" stop-color="#0e00f1"/><stop offset="0.5113" stop-color="#0b00f4"/><stop offset="0.5244" stop-color="#0101ff"/><stop offset="0.5432" stop-color="#2020ff"/><stop offset="0.5525" stop-color="#3636ff"/><stop offset="0.5619" stop-color="#3e3eff"/><stop offset="0.5882" stop-color="#6262ff"/><stop offset="0.6051" stop-color="#7070ff"/><stop offset="0.6295" stop-color="#7c7cff"/><stop offset="0.6576" stop-color="#8484ff"/><stop offset="0.6914" stop-color="#8989ff"/><stop offset="0.7533" stop-color="#8686ff"/><stop offset="0.8208" stop-color="#8e8eff"/><stop offset="0.8884" stop-color="#8888ff"/><stop offset="0.9353" stop-color="#8a8aff"/><stop offset="0.9559" stop-color="#9090ff"/><stop offset="0.9709" stop-color="#9999ff"/><stop offset="0.9859" stop-color="#a6a6ff"/><stop offset="0.9991" stop-color="#b7b7ff"/></linearGradient><linearGradient id="h49"><stop offset="0.0009" stop-color="#c0c0ff"/><stop offset="0.0216" stop-color="#a4a4ff"/><stop offset="0.0385" stop-color="#9494ff"/><stop offset="0.0572" stop-color="#8a8aff"/><stop offset="0.0816" stop-color="#8484ff"/><stop offset="0.1473" stop-color="#8484ff"/><stop offset="0.3161" stop-color="#9595ff"/><stop offset="0.3537" stop-color="#9191ff"/><stop offset="0.3818" stop-color="#8888ff"/><stop offset="0.3968" stop-color="#8181ff"/><stop offset="0.4099" stop-color="#7474ff"/><stop offset="0.4306" stop-color="#5353ff"/><stop offset="0.4400" stop-color="#4848ff"/><stop offset="0.4493" stop-color="#3737ff"/><stop offset="0.4756" stop-color="#0e0eff"/><stop offset="0.5000" stop-color="#0505ff"/><stop offset="0.5113" stop-color="#0707ff"/><stop offset="0.5244" stop-color="#1313ff"/><stop offset="0.5432" stop-color="#2f2fff"/><stop offset="0.5525" stop-color="#4343ff"/><stop offset="0.5619" stop-color="#4b4bff"/><stop offset="0.5901" stop-color="#6e6eff"/><stop offset="0.6069" stop-color="#7979ff"/><stop offset="0.6276" stop-color="#8282ff"/><stop offset="0.6576" stop-color="#8b8bff"/><stop offset="0.6914" stop-color="#8f8fff"/><stop offset="0.7533" stop-color="#8d8dff"/><stop offset="0.8208" stop-color="#9494ff"/><stop offset="0.8884" stop-color="#8e8eff"/><stop offset="0.9353" stop-color="#9090ff"/><stop offset="0.9559" stop-color="#9696ff"/><stop offset="0.9709" stop-color="#9e9eff"/><stop offset="0.9859" stop-color="#ababff"/><stop offset="0.9991" stop-color="#bbbbff"/></linearGradient><linearGradient id="h50"><stop offset="0.0009" stop-color="#c4c4ff"/><stop offset="0.0216" stop-color="#aaaaff"/><stop offset="0.0385" stop-color="#9b9bff"/><stop offset="0.0572" stop-color="#9292ff"/><stop offset="0.0816" stop-color="#8c8cff"/><stop offset="0.1473" stop-color="#8c8cff"/><stop offset="0.3161" stop-color="#9c9cff"/><stop offset="0.3537" stop-color="#9898ff"/><stop offset="0.3818" stop-color="#9191ff"/><stop offset="0.3968" stop-color="#8a8aff"/><stop offset="0.4099" stop-color="#7f7fff"/><stop offset="0.4306" stop-color="#6161ff"/><stop offset="0.4400" stop-color="#5757ff"/><stop offset="0.4493" stop-color="#4747ff"/><stop offset="0.4756" stop-color="#2323ff"/><stop offset="0.5000" stop-color="#1a1aff"/><stop offset="0.5113" stop-color="#1d1dff"/><stop offset="0.5244" stop-color="#2727ff"/><stop offset="0.5432" stop-color="#4141ff"/><stop offset="0.5525" stop-color="#5353ff"/><stop offset="0.5619" stop-color="#5959ff"/><stop offset="0.5901" stop-color="#7979ff"/><stop offset="0.6257" stop-color="#8a8aff"/><stop offset="0.6576" stop-color="#9393ff"/><stop offset="0.6914" stop-color="#9797ff"/><stop offset="0.7533" stop-color="#9494ff"/><stop offset="0.8208" stop-color="#9b9bff"/><stop offset="0.8884" stop-color="#9696ff"/><stop offset="0.9353" stop-color="#9797ff"/><stop offset="0.9559" stop-color="#9d9dff"/><stop offset="0.9709" stop-color="#a4a4ff"/><stop offset="0.9859" stop-color="#b0b0ff"/><stop offset="0.9991" stop-color="#bfbfff"/></linearGradient><linearGradient id="h51"><stop offset="0.0009" stop-color="#c8c8ff"/><stop offset="0.0216" stop-color="#b0b0ff"/><stop offset="0.0385" stop-color="#a1a1ff"/><stop offset="0.0572" stop-color="#9999ff"/><stop offset="0.0816" stop-color="#9393ff"/><stop offset="0.1473" stop-color="#9393ff"/><stop offset="0.3161" stop-color="#a2a2ff"/><stop offset="0.3537" stop-color="#9f9fff"/><stop offset="0.3837" stop-color="#9898ff"/><stop offset="0.3968" stop-color="#9393ff"/><stop offset="0.4099" stop-color="#8989ff"/><stop offset="0.4306" stop-color="#6f6fff"/><stop offset="0.4400" stop-color="#6666ff"/><stop offset="0.4756" stop-color="#3737ff"/><stop offset="0.5000" stop-color="#2f2fff"/><stop offset="0.5113" stop-color="#3131ff"/><stop offset="0.5244" stop-color="#3a3aff"/><stop offset="0.5432" stop-color="#5252ff"/><stop offset="0.5525" stop-color="#6262ff"/><stop offset="0.5619" stop-color="#6868ff"/><stop offset="0.5882" stop-color="#8282ff"/><stop offset="0.6051" stop-color="#8c8cff"/><stop offset="0.6257" stop-color="#9393ff"/><stop offset="0.6576" stop-color="#9a9aff"/><stop offset="0.6914" stop-color="#9e9eff"/><stop offset="0.7533" stop-color="#9b9bff"/><stop offset="0.8208" stop-color="#a2a2ff"/><stop offset="0.8884" stop-color="#9d9dff"/><stop offset="0.9353" stop-color="#9e9eff"/><stop offset="0.9559" stop-color="#a3a3ff"/><stop offset="0.9709" stop-color="#aaaaff"/><stop offset="0.9859" stop-color="#b5b5ff"/><stop offset="0.9991" stop-color="#c3c3ff"/></linearGradient><linearGradient id="h52"><stop offset="0.0009" stop-color="#cbcbff"/><stop offset="0.0216" stop-color="#b4b4ff"/><stop offset="0.0385" stop-color="#a6a6ff"/><stop offset="0.0572" stop-color="#9e9eff"/><stop offset="0.0816" stop-color="#9898ff"/><stop offset="0.1454" stop-color="#9999ff"/><stop offset="0.3161" stop-color="#a8a8ff"/><stop offset="0.3537" stop-color="#a5a5ff"/><stop offset="0.3856" stop-color="#9e9eff"/><stop offset="0.3968" stop-color="#9b9bff"/><stop offset="0.4099" stop-color="#9292ff"/><stop offset="0.4306" stop-color="#7a7aff"/><stop offset="0.4418" stop-color="#7070ff"/><stop offset="0.4756" stop-color="#4848ff"/><stop offset="0.5000" stop-color="#4242ff"/><stop offset="0.5113" stop-color="#4444ff"/><stop offset="0.5244" stop-color="#4c4cff"/><stop offset="0.5432" stop-color="#6161ff"/><stop offset="0.5525" stop-color="#7070ff"/><stop offset="0.5638" stop-color="#7575ff"/><stop offset="0.5882" stop-color="#8b8bff"/><stop offset="0.6238" stop-color="#9999ff"/><stop offset="0.6914" stop-color="#a3a3ff"/><stop offset="0.7533" stop-color="#a1a1ff"/><stop offset="0.8208" stop-color="#a7a7ff"/><stop offset="0.8884" stop-color="#a2a2ff"/><stop offset="0.9353" stop-color="#a3a3ff"/><stop offset="0.9709" stop-color="#afafff"/><stop offset="0.9859" stop-color="#b9b9ff"/><stop offset="0.9991" stop-color="#c7c7ff"/></linearGradient><linearGradient id="h53"><stop offset="0.0009" stop-color="#ccccff"/><stop offset="0.0216" stop-color="#b6b6ff"/><stop offset="0.0385" stop-color="#a9a9ff"/><stop offset="0.0591" stop-color="#a0a0ff"/><stop offset="0.0816" stop-color="#9b9bff"/><stop offset="0.1435" stop-color="#9c9cff"/><stop offset="0.3161" stop-color="#ababff"/><stop offset="0.3555" stop-color="#a8a8ff"/><stop offset="0.3893" stop-color="#a2a2ff"/><stop offset="0.4118" stop-color="#9797ff"/><stop offset="0.4306" stop-color="#8383ff"/><stop offset="0.4418" stop-color="#7a7aff"/><stop offset="0.4756" stop-color="#5656ff"/><stop offset="0.5000" stop-color="#5050ff"/><stop offset="0.5206" stop-color="#5656ff"/><stop offset="0.5432" stop-color="#6c6cff"/><stop offset="0.5525" stop-color="#7a7aff"/><stop offset="0.5638" stop-color="#7f7fff"/><stop offset="0.5901" stop-color="#9393ff"/><stop offset="0.6088" stop-color="#9a9aff"/><stop offset="0.6538" stop-color="#a3a3ff"/><stop offset="0.6895" stop-color="#a6a6ff"/><stop offset="0.7533" stop-color="#a4a4ff"/><stop offset="0.8208" stop-color="#aaaaff"/><stop offset="0.8884" stop-color="#a5a5ff"/><stop offset="0.9353" stop-color="#a7a7ff"/><stop offset="0.9709" stop-color="#b2b2ff"/><stop offset="0.9859" stop-color="#bcbcff"/><stop offset="0.9991" stop-color="#c9c9ff"/></linearGradient><linearGradient id="h54"><stop offset="0.0009" stop-color="#cdcdff"/><stop offset="0.0235" stop-color="#b5b5ff"/><stop offset="0.0403" stop-color="#a9a9ff"/><stop offset="0.0591" stop-color="#a1a1ff"/><stop offset="0.0816" stop-color="#9c9cff"/><stop offset="0.1285" stop-color="#9c9cff"/><stop offset="0.3143" stop-color="#adadff"/><stop offset="0.3555" stop-color="#ababff"/><stop offset="0.3931" stop-color="#a5a5ff"/><stop offset="0.4137" stop-color="#9a9aff"/><stop offset="0.4306" stop-color="#8989ff"/><stop offset="0.4418" stop-color="#8282ff"/><stop offset="0.4756" stop-color="#6060ff"/><stop offset="0.5000" stop-color="#5b5bff"/><stop offset="0.5206" stop-color="#6161ff"/><stop offset="0.5432" stop-color="#7575ff"/><stop offset="0.5525" stop-color="#8282ff"/><stop offset="0.5638" stop-color="#8686ff"/><stop offset="0.5901" stop-color="#9898ff"/><stop offset="0.6088" stop-color="#9e9eff"/><stop offset="0.6895" stop-color="#a9a9ff"/><stop offset="0.7533" stop-color="#a7a7ff"/><stop offset="0.8208" stop-color="#adadff"/><stop offset="0.8884" stop-color="#a8a8ff"/><stop offset="0.9353" stop-color="#a9a9ff"/><stop offset="0.9709" stop-color="#b4b4ff"/><stop offset="0.9859" stop-color="#bebeff"/><stop offset="0.9991" stop-color="#cacaff"/></linearGradient><linearGradient id="h55"><stop offset="0.0009" stop-color="#ceceff"/><stop offset="0.0235" stop-color="#b6b6ff"/><stop offset="0.0403" stop-color="#a9a9ff"/><stop offset="0.0591" stop-color="#a1a1ff"/><stop offset="0.0816" stop-color="#9c9cff"/><stop offset="0.1229" stop-color="#9d9dff"/><stop offset="0.3124" stop-color="#afafff"/><stop offset="0.3949" stop-color="#a8a8ff"/><stop offset="0.4137" stop-color="#9e9eff"/><stop offset="0.4306" stop-color="#8f8fff"/><stop offset="0.4418" stop-color="#8888ff"/><stop offset="0.4756" stop-color="#6969ff"/><stop offset="0.5000" stop-color="#6464ff"/><stop offset="0.5206" stop-color="#6969ff"/><stop offset="0.5432" stop-color="#7c7cff"/><stop offset="0.5525" stop-color="#8888ff"/><stop offset="0.5638" stop-color="#8b8bff"/><stop offset="0.5901" stop-color="#9c9cff"/><stop offset="0.6069" stop-color="#a1a1ff"/><stop offset="0.6895" stop-color="#ababff"/><stop offset="0.7533" stop-color="#a9a9ff"/><stop offset="0.8208" stop-color="#afafff"/><stop offset="0.8902" stop-color="#aaaaff"/><stop offset="0.9353" stop-color="#ababff"/><stop offset="0.9709" stop-color="#b6b6ff"/><stop offset="0.9859" stop-color="#bfbfff"/><stop offset="0.9991" stop-color="#ccccff"/></linearGradient><linearGradient id="h56"><stop offset="0.0009" stop-color="#cfcfff"/><stop offset="0.0235" stop-color="#b7b7ff"/><stop offset="0.0403" stop-color="#aaaaff"/><stop offset="0.0591" stop-color="#a2a2ff"/><stop offset="0.0816" stop-color="#9d9dff"/><stop offset="0.1173" stop-color="#9d9dff"/><stop offset="0.1979" stop-color="#a8a8ff"/><stop offset="0.3068" stop-color="#b2b2ff"/><stop offset="0.3537" stop-color="#b0b0ff"/><stop offset="0.3949" stop-color="#ababff"/><stop offset="0.4137" stop-color="#a2a2ff"/><stop offset="0.4418" stop-color="#8d8dff"/><stop offset="0.4756" stop-color="#7070ff"/><stop offset="0.5000" stop-color="#6b6bff"/><stop offset="0.5206" stop-color="#7070ff"/><stop offset="0.5432" stop-color="#8282ff"/><stop offset="0.5525" stop-color="#8d8dff"/><stop offset="0.5638" stop-color="#9090ff"/><stop offset="0.5901" stop-color="#a0a0ff"/><stop offset="0.6069" stop-color="#a4a4ff"/><stop offset="0.6895" stop-color="#aeaeff"/><stop offset="0.7514" stop-color="#acacff"/><stop offset="0.8208" stop-color="#b1b1ff"/><stop offset="0.8902" stop-color="#acacff"/><stop offset="0.9353" stop-color="#aeaeff"/><stop offset="0.9709" stop-color="#b8b8ff"/><stop offset="0.9859" stop-color="#c2c2ff"/><stop offset="0.9991" stop-color="#cdcdff"/></linearGradient><linearGradient id="h57"><stop offset="0.0009" stop-color="#d1d1ff"/><stop offset="0.0235" stop-color="#b9b9ff"/><stop offset="0.0403" stop-color="#acacff"/><stop offset="0.0591" stop-color="#a3a3ff"/><stop offset="0.0816" stop-color="#9f9fff"/><stop offset="0.1135" stop-color="#9f9fff"/><stop offset="0.1961" stop-color="#acacff"/><stop offset="0.2955" stop-color="#b5b5ff"/><stop offset="0.3311" stop-color="#b6b6ff"/><stop offset="0.3949" stop-color="#b0b0ff"/><stop offset="0.4137" stop-color="#a7a7ff"/><stop offset="0.4756" stop-color="#7777ff"/><stop offset="0.5000" stop-color="#7373ff"/><stop offset="0.5206" stop-color="#7777ff"/><stop offset="0.5432" stop-color="#8888ff"/><stop offset="0.5525" stop-color="#9393ff"/><stop offset="0.5638" stop-color="#9696ff"/><stop offset="0.5901" stop-color="#a5a5ff"/><stop offset="0.6069" stop-color="#a9a9ff"/><stop offset="0.6914" stop-color="#b2b2ff"/><stop offset="0.7514" stop-color="#b0b0ff"/><stop offset="0.8189" stop-color="#b5b5ff"/><stop offset="0.8884" stop-color="#afafff"/><stop offset="0.9334" stop-color="#b1b1ff"/><stop offset="0.9690" stop-color="#bbbbff"/><stop offset="0.9859" stop-color="#c4c4ff"/><stop offset="0.9991" stop-color="#d0d0ff"/></linearGradient><linearGradient id="h58"><stop offset="0.0009" stop-color="#d3d3ff"/><stop offset="0.0253" stop-color="#babaff"/><stop offset="0.0403" stop-color="#afafff"/><stop offset="0.0591" stop-color="#a6a6ff"/><stop offset="0.0816" stop-color="#a2a2ff"/><stop offset="0.1116" stop-color="#a3a3ff"/><stop offset="0.1961" stop-color="#b1b1ff"/><stop offset="0.2936" stop-color="#babaff"/><stop offset="0.3311" stop-color="#babaff"/><stop offset="0.3931" stop-color="#b5b5ff"/><stop offset="0.4137" stop-color="#acacff"/><stop offset="0.4756" stop-color="#7e7eff"/><stop offset="0.5000" stop-color="#7a7aff"/><stop offset="0.5206" stop-color="#7e7eff"/><stop offset="0.5432" stop-color="#8e8eff"/><stop offset="0.5525" stop-color="#9999ff"/><stop offset="0.5638" stop-color="#9c9cff"/><stop offset="0.5901" stop-color="#aaaaff"/><stop offset="0.6069" stop-color="#aeaeff"/><stop offset="0.6839" stop-color="#b7b7ff"/><stop offset="0.7514" stop-color="#b5b5ff"/><stop offset="0.8133" stop-color="#b9b9ff"/><stop offset="0.8865" stop-color="#b3b3ff"/><stop offset="0.9278" stop-color="#b3b3ff"/><stop offset="0.9653" stop-color="#bdbdff"/><stop offset="0.9841" stop-color="#c6c6ff"/><stop offset="0.9991" stop-color="#d3d3ff"/></linearGradient><linearGradient id="h59"><stop offset="0.0009" stop-color="#d6d6ff"/><stop offset="0.0253" stop-color="#bebeff"/><stop offset="0.0422" stop-color="#b2b2ff"/><stop offset="0.0610" stop-color="#aaaaff"/><stop offset="0.0816" stop-color="#a6a6ff"/><stop offset="0.1154" stop-color="#a8a8ff"/><stop offset="0.1998" stop-color="#b7b7ff"/><stop offset="0.2917" stop-color="#bfbfff"/><stop offset="0.3311" stop-color="#c0c0ff"/><stop offset="0.3931" stop-color="#babaff"/><stop offset="0.4137" stop-color="#b1b1ff"/><stop offset="0.4756" stop-color="#8585ff"/><stop offset="0.5000" stop-color="#8282ff"/><stop offset="0.5206" stop-color="#8686ff"/><stop offset="0.5432" stop-color="#9595ff"/><stop offset="0.5525" stop-color="#9f9fff"/><stop offset="0.5638" stop-color="#a2a2ff"/><stop offset="0.5901" stop-color="#b0b0ff"/><stop offset="0.6069" stop-color="#b4b4ff"/><stop offset="0.6839" stop-color="#bcbcff"/><stop offset="0.7514" stop-color="#bbbbff"/><stop offset="0.8096" stop-color="#bebeff"/><stop offset="0.8846" stop-color="#b6b6ff"/><stop offset="0.9203" stop-color="#b6b6ff"/><stop offset="0.9615" stop-color="#bfbfff"/><stop offset="0.9822" stop-color="#c9c9ff"/><stop offset="0.9991" stop-color="#d6d6ff"/></linearGradient><linearGradient id="h60"><stop offset="0.0009" stop-color="#d9d9ff"/><stop offset="0.0253" stop-color="#c3c3ff"/><stop offset="0.0422" stop-color="#b7b7ff"/><stop offset="0.0610" stop-color="#b0b0ff"/><stop offset="0.0816" stop-color="#acacff"/><stop offset="0.1154" stop-color="#aeaeff"/><stop offset="0.1998" stop-color="#bdbdff"/><stop offset="0.2917" stop-color="#c4c4ff"/><stop offset="0.3311" stop-color="#c5c5ff"/><stop offset="0.3893" stop-color="#c0c0ff"/><stop offset="0.4118" stop-color="#b8b8ff"/><stop offset="0.4756" stop-color="#8d8dff"/><stop offset="0.5000" stop-color="#8989ff"/><stop offset="0.5206" stop-color="#8d8dff"/><stop offset="0.5432" stop-color="#9c9cff"/><stop offset="0.5525" stop-color="#a5a5ff"/><stop offset="0.5901" stop-color="#b5b5ff"/><stop offset="0.6088" stop-color="#babaff"/><stop offset="0.6839" stop-color="#c2c2ff"/><stop offset="0.8058" stop-color="#c3c3ff"/><stop offset="0.8827" stop-color="#b8b8ff"/><stop offset="0.9146" stop-color="#b8b8ff"/><stop offset="0.9597" stop-color="#c2c2ff"/><stop offset="0.9822" stop-color="#cdcdff"/><stop offset="0.9991" stop-color="#d9d9ff"/></linearGradient><linearGradient id="h61"><stop offset="0.0009" stop-color="#dbdbff"/><stop offset="0.0253" stop-color="#c7c7ff"/><stop offset="0.0422" stop-color="#bcbcff"/><stop offset="0.0610" stop-color="#b5b5ff"/><stop offset="0.0816" stop-color="#b2b2ff"/><stop offset="0.1135" stop-color="#b3b3ff"/><stop offset="0.1998" stop-color="#c2c2ff"/><stop offset="0.2899" stop-color="#c9c9ff"/><stop offset="0.3293" stop-color="#c9c9ff"/><stop offset="0.3856" stop-color="#c4c4ff"/><stop offset="0.4099" stop-color="#bdbdff"/><stop offset="0.4756" stop-color="#9292ff"/><stop offset="0.5000" stop-color="#8f8fff"/><stop offset="0.5244" stop-color="#9494ff"/><stop offset="0.5507" stop-color="#a8a8ff"/><stop offset="0.5882" stop-color="#b9b9ff"/><stop offset="0.6238" stop-color="#c1c1ff"/><stop offset="0.6876" stop-color="#c7c7ff"/><stop offset="0.8039" stop-color="#c7c7ff"/><stop offset="0.8809" stop-color="#b9b9ff"/><stop offset="0.9109" stop-color="#b8b8ff"/><stop offset="0.9353" stop-color="#bcbcff"/><stop offset="0.9578" stop-color="#c3c3ff"/><stop offset="0.9803" stop-color="#ceceff"/><stop offset="0.9991" stop-color="#dbdbff"/></linearGradient><linearGradient id="h62"><stop offset="0.0009" stop-color="#dedeff"/><stop offset="0.0253" stop-color="#cbcbff"/><stop offset="0.0422" stop-color="#c1c1ff"/><stop offset="0.0816" stop-color="#b7b7ff"/><stop offset="0.1135" stop-color="#b8b8ff"/><stop offset="0.1998" stop-color="#c6c6ff"/><stop offset="0.2899" stop-color="#ccccff"/><stop offset="0.3311" stop-color="#cdcdff"/><stop offset="0.3837" stop-color="#c8c8ff"/><stop offset="0.4099" stop-color="#c0c0ff"/><stop offset="0.4756" stop-color="#9696ff"/><stop offset="0.5000" stop-color="#9393ff"/><stop offset="0.5244" stop-color="#9898ff"/><stop offset="0.5525" stop-color="#adadff"/><stop offset="0.5882" stop-color="#bdbdff"/><stop offset="0.6257" stop-color="#c5c5ff"/><stop offset="0.6876" stop-color="#cacaff"/><stop offset="0.8002" stop-color="#cacaff"/><stop offset="0.8265" stop-color="#c7c7ff"/><stop offset="0.8809" stop-color="#b9b9ff"/><stop offset="0.9090" stop-color="#b8b8ff"/><stop offset="0.9334" stop-color="#bcbcff"/><stop offset="0.9559" stop-color="#c4c4ff"/><stop offset="0.9991" stop-color="#ddddff"/></linearGradient><linearGradient id="h63"><stop offset="0.0009" stop-color="#e0e0ff"/><stop offset="0.0422" stop-color="#c5c5ff"/><stop offset="0.0816" stop-color="#bcbcff"/><stop offset="0.1154" stop-color="#bdbdff"/><stop offset="0.1998" stop-color="#c9c9ff"/><stop offset="0.2917" stop-color="#cfcfff"/><stop offset="0.3311" stop-color="#cfcfff"/><stop offset="0.3837" stop-color="#cacaff"/><stop offset="0.4099" stop-color="#c3c3ff"/><stop offset="0.4756" stop-color="#9999ff"/><stop offset="0.5000" stop-color="#9595ff"/><stop offset="0.5244" stop-color="#9b9bff"/><stop offset="0.5525" stop-color="#afafff"/><stop offset="0.5882" stop-color="#bfbfff"/><stop offset="0.6257" stop-color="#c7c7ff"/><stop offset="0.6895" stop-color="#cdcdff"/><stop offset="0.8002" stop-color="#ccccff"/><stop offset="0.8265" stop-color="#c8c8ff"/><stop offset="0.8809" stop-color="#b9b9ff"/><stop offset="0.9071" stop-color="#b7b7ff"/><stop offset="0.9484" stop-color="#c1c1ff"/><stop offset="0.9991" stop-color="#dedeff"/></linearGradient><linearGradient id="h64"><stop offset="0.0009" stop-color="#e2e2ff"/><stop offset="0.0403" stop-color="#cacaff"/><stop offset="0.0816" stop-color="#c1c1ff"/><stop offset="0.2917" stop-color="#d1d1ff"/><stop offset="0.3311" stop-color="#d1d1ff"/><stop offset="0.3818" stop-color="#cdcdff"/><stop offset="0.4099" stop-color="#c5c5ff"/><stop offset="0.4756" stop-color="#9c9cff"/><stop offset="0.5000" stop-color="#9898ff"/><stop offset="0.5244" stop-color="#9e9eff"/><stop offset="0.5525" stop-color="#b2b2ff"/><stop offset="0.5901" stop-color="#c2c2ff"/><stop offset="0.6276" stop-color="#cacaff"/><stop offset="0.6895" stop-color="#cfcfff"/><stop offset="0.8002" stop-color="#ceceff"/><stop offset="0.8265" stop-color="#cacaff"/><stop offset="0.8809" stop-color="#babaff"/><stop offset="0.9071" stop-color="#b8b8ff"/><stop offset="0.9447" stop-color="#c1c1ff"/><stop offset="0.9991" stop-color="#e0e0ff"/></linearGradient><linearGradient id="h65"><stop offset="0.0009" stop-color="#e4e4ff"/><stop offset="0.0403" stop-color="#ceceff"/><stop offset="0.0816" stop-color="#c6c6ff"/><stop offset="0.2936" stop-color="#d4d4ff"/><stop offset="0.3330" stop-color="#d4d4ff"/><stop offset="0.3818" stop-color="#cfcfff"/><stop offset="0.4099" stop-color="#c7c7ff"/><stop offset="0.4756" stop-color="#9f9fff"/><stop offset="0.5000" stop-color="#9b9bff"/><stop offset="0.5244" stop-color="#a1a1ff"/><stop offset="0.5525" stop-color="#b4b4ff"/><stop offset="0.5901" stop-color="#c5c5ff"/><stop offset="0.6276" stop-color="#cdcdff"/><stop offset="0.6895" stop-color="#d2d2ff"/><stop offset="0.7983" stop-color="#d1d1ff"/><stop offset="0.8265" stop-color="#cdcdff"/><stop offset="0.8809" stop-color="#bdbdff"/><stop offset="0.9071" stop-color="#bbbbff"/><stop offset="0.9447" stop-color="#c4c4ff"/><stop offset="0.9991" stop-color="#e1e1ff"/></linearGradient><linearGradient id="h66"><stop offset="0.0009" stop-color="#e6e6ff"/><stop offset="0.0403" stop-color="#d2d2ff"/><stop offset="0.0816" stop-color="#ccccff"/><stop offset="0.3030" stop-color="#d7d7ff"/><stop offset="0.3799" stop-color="#d2d2ff"/><stop offset="0.4099" stop-color="#cacaff"/><stop offset="0.4756" stop-color="#a3a3ff"/><stop offset="0.5000" stop-color="#9f9fff"/><stop offset="0.5244" stop-color="#a5a5ff"/><stop offset="0.5525" stop-color="#b7b7ff"/><stop offset="0.5901" stop-color="#c8c8ff"/><stop offset="0.6276" stop-color="#d0d0ff"/><stop offset="0.6895" stop-color="#d5d5ff"/><stop offset="0.7983" stop-color="#d4d4ff"/><stop offset="0.8265" stop-color="#d0d0ff"/><stop offset="0.8809" stop-color="#c2c2ff"/><stop offset="0.9071" stop-color="#c0c0ff"/><stop offset="0.9465" stop-color="#c9c9ff"/><stop offset="0.9991" stop-color="#e3e3ff"/></linearGradient><linearGradient id="h67"><stop offset="0.0009" stop-color="#e8e8ff"/><stop offset="0.0403" stop-color="#d7d7ff"/><stop offset="0.0816" stop-color="#d1d1ff"/><stop offset="0.3086" stop-color="#dadaff"/><stop offset="0.3799" stop-color="#d5d5ff"/><stop offset="0.4099" stop-color="#cdcdff"/><stop offset="0.4756" stop-color="#a7a7ff"/><stop offset="0.5000" stop-color="#a3a3ff"/><stop offset="0.5244" stop-color="#a9a9ff"/><stop offset="0.5525" stop-color="#bbbbff"/><stop offset="0.5901" stop-color="#cbcbff"/><stop offset="0.6295" stop-color="#d3d3ff"/><stop offset="0.6895" stop-color="#d8d8ff"/><stop offset="0.8002" stop-color="#d7d7ff"/><stop offset="0.8265" stop-color="#d5d5ff"/><stop offset="0.8809" stop-color="#c9c9ff"/><stop offset="0.9071" stop-color="#c7c7ff"/><stop offset="0.9484" stop-color="#cfcfff"/><stop offset="0.9991" stop-color="#e6e6ff"/></linearGradient><linearGradient id="h68"><stop offset="0.0009" stop-color="#eaeaff"/><stop offset="0.0403" stop-color="#dbdbff"/><stop offset="0.0816" stop-color="#d5d5ff"/><stop offset="0.3105" stop-color="#ddddff"/><stop offset="0.3780" stop-color="#d8d8ff"/><stop offset="0.4099" stop-color="#d0d0ff"/><stop offset="0.4756" stop-color="#ababff"/><stop offset="0.5000" stop-color="#a8a8ff"/><stop offset="0.5244" stop-color="#adadff"/><stop offset="0.5525" stop-color="#bebeff"/><stop offset="0.5901" stop-color="#ceceff"/><stop offset="0.6295" stop-color="#d6d6ff"/><stop offset="0.6876" stop-color="#dbdbff"/><stop offset="0.8002" stop-color="#dbdbff"/><stop offset="0.9090" stop-color="#cfcfff"/><stop offset="0.9559" stop-color="#d7d7ff"/><stop offset="0.9991" stop-color="#e8e8ff"/></linearGradient><linearGradient id="h69"><stop offset="0.0009" stop-color="#ececff"/><stop offset="0.0385" stop-color="#dfdfff"/><stop offset="0.0797" stop-color="#dadaff"/><stop offset="0.3124" stop-color="#dfdfff"/><stop offset="0.3780" stop-color="#dbdbff"/><stop offset="0.4099" stop-color="#d3d3ff"/><stop offset="0.4756" stop-color="#afafff"/><stop offset="0.5000" stop-color="#acacff"/><stop offset="0.5244" stop-color="#b1b1ff"/><stop offset="0.5525" stop-color="#c1c1ff"/><stop offset="0.5901" stop-color="#d1d1ff"/><stop offset="0.6295" stop-color="#d9d9ff"/><stop offset="0.6876" stop-color="#dedeff"/><stop offset="0.8021" stop-color="#dedeff"/><stop offset="0.9128" stop-color="#d6d6ff"/><stop offset="0.9578" stop-color="#dcdcff"/><stop offset="0.9991" stop-color="#eaeaff"/></linearGradient><linearGradient id="h70"><stop offset="0.0009" stop-color="#eeeeff"/><stop offset="0.0385" stop-color="#e1e1ff"/><stop offset="0.0797" stop-color="#ddddff"/><stop offset="0.3105" stop-color="#e2e2ff"/><stop offset="0.3687" stop-color="#dfdfff"/><stop offset="0.4062" stop-color="#d7d7ff"/><stop offset="0.4756" stop-color="#b3b3ff"/><stop offset="0.5000" stop-color="#b0b0ff"/><stop offset="0.5244" stop-color="#b4b4ff"/><stop offset="0.5525" stop-color="#c4c4ff"/><stop offset="0.5901" stop-color="#d4d4ff"/><stop offset="0.6313" stop-color="#dcdcff"/><stop offset="0.6857" stop-color="#e0e0ff"/><stop offset="0.8058" stop-color="#e1e1ff"/><stop offset="0.9165" stop-color="#dcdcff"/><stop offset="0.9597" stop-color="#e1e1ff"/><stop offset="0.9991" stop-color="#ececff"/></linearGradient><linearGradient id="h71"><stop offset="0.0009" stop-color="#efefff"/><stop offset="0.0385" stop-color="#e4e4ff"/><stop offset="0.0797" stop-color="#e0e0ff"/><stop offset="0.3105" stop-color="#e4e4ff"/><stop offset="0.3668" stop-color="#e1e1ff"/><stop offset="0.4043" stop-color="#dadaff"/><stop offset="0.4756" stop-color="#b7b7ff"/><stop offset="0.5000" stop-color="#b3b3ff"/><stop offset="0.5244" stop-color="#b8b8ff"/><stop offset="0.5525" stop-color="#c7c7ff"/><stop offset="0.5901" stop-color="#d7d7ff"/><stop offset="0.6313" stop-color="#dfdfff"/><stop offset="0.6857" stop-color="#e3e3ff"/><stop offset="0.8096" stop-color="#e4e4ff"/><stop offset="0.9221" stop-color="#e1e1ff"/><stop offset="0.9634" stop-color="#e4e4ff"/><stop offset="0.9991" stop-color="#eeeeff"/></linearGradient><linearGradient id="h72"><stop offset="0.0009" stop-color="#f1f1ff"/><stop offset="0.0385" stop-color="#e7e7ff"/><stop offset="0.0797" stop-color="#e3e3ff"/><stop offset="0.3105" stop-color="#e7e7ff"/><stop offset="0.3649" stop-color="#e4e4ff"/><stop offset="0.4043" stop-color="#ddddff"/><stop offset="0.4756" stop-color="#babaff"/><stop offset="0.5000" stop-color="#b7b7ff"/><stop offset="0.5244" stop-color="#bcbcff"/><stop offset="0.5525" stop-color="#cacaff"/><stop offset="0.5919" stop-color="#dadaff"/><stop offset="0.6332" stop-color="#e2e2ff"/><stop offset="0.6932" stop-color="#e6e6ff"/><stop offset="0.9334" stop-color="#e5e5ff"/><stop offset="0.9690" stop-color="#e8e8ff"/><stop offset="0.9991" stop-color="#efefff"/></linearGradient><linearGradient id="h73"><stop offset="0.0009" stop-color="#f2f2ff"/><stop offset="0.0385" stop-color="#e9e9ff"/><stop offset="0.0797" stop-color="#e6e6ff"/><stop offset="0.3105" stop-color="#e9e9ff"/><stop offset="0.3649" stop-color="#e6e6ff"/><stop offset="0.4043" stop-color="#dfdfff"/><stop offset="0.4756" stop-color="#bebeff"/><stop offset="0.5000" stop-color="#bbbbff"/><stop offset="0.5244" stop-color="#bfbfff"/><stop offset="0.5919" stop-color="#ddddff"/><stop offset="0.6351" stop-color="#e5e5ff"/><stop offset="0.6932" stop-color="#e8e8ff"/><stop offset="0.9353" stop-color="#e8e8ff"/><stop offset="0.9991" stop-color="#f1f1ff"/></linearGradient><linearGradient id="h74"><stop offset="0.0009" stop-color="#f3f3ff"/><stop offset="0.0385" stop-color="#eaeaff"/><stop offset="0.0797" stop-color="#e7e7ff"/><stop offset="0.3105" stop-color="#eaeaff"/><stop offset="0.3630" stop-color="#e8e8ff"/><stop offset="0.4024" stop-color="#e2e2ff"/><stop offset="0.4756" stop-color="#c1c1ff"/><stop offset="0.5000" stop-color="#bebeff"/><stop offset="0.5244" stop-color="#c2c2ff"/><stop offset="0.5919" stop-color="#dfdfff"/><stop offset="0.6351" stop-color="#e6e6ff"/><stop offset="0.6932" stop-color="#eaeaff"/><stop offset="0.9353" stop-color="#e9e9ff"/><stop offset="0.9991" stop-color="#f2f2ff"/></linearGradient><linearGradient id="h75"><stop offset="0.0009" stop-color="#f4f4ff"/><stop offset="0.0385" stop-color="#ececff"/><stop offset="0.0797" stop-color="#e9e9ff"/><stop offset="0.3105" stop-color="#ececff"/><stop offset="0.3630" stop-color="#e9e9ff"/><stop offset="0.4024" stop-color="#e3e3ff"/><stop offset="0.4756" stop-color="#c4c4ff"/><stop offset="0.5000" stop-color="#c1c1ff"/><stop offset="0.5244" stop-color="#c5c5ff"/><stop offset="0.5919" stop-color="#e0e0ff"/><stop offset="0.6370" stop-color="#e8e8ff"/><stop offset="0.6932" stop-color="#ebebff"/><stop offset="0.9353" stop-color="#ebebff"/><stop offset="0.9991" stop-color="#f3f3ff"/></linearGradient><linearGradient id="h76"><stop offset="0.0009" stop-color="#f4f4ff"/><stop offset="0.0385" stop-color="#ededff"/><stop offset="0.0797" stop-color="#eaeaff"/><stop offset="0.3105" stop-color="#ededff"/><stop offset="0.3630" stop-color="#ebebff"/><stop offset="0.4024" stop-color="#e5e5ff"/><stop offset="0.4756" stop-color="#c8c8ff"/><stop offset="0.5000" stop-color="#c5c5ff"/><stop offset="0.5244" stop-color="#c9c9ff"/><stop offset="0.5919" stop-color="#e2e2ff"/><stop offset="0.6370" stop-color="#e9e9ff"/><stop offset="0.6932" stop-color="#ececff"/><stop offset="0.9353" stop-color="#ececff"/><stop offset="0.9991" stop-color="#f3f3ff"/></linearGradient><linearGradient id="h77"><stop offset="0.0009" stop-color="#f5f5ff"/><stop offset="0.0385" stop-color="#efefff"/><stop offset="0.0797" stop-color="#ececff"/><stop offset="0.3105" stop-color="#efefff"/><stop offset="0.3630" stop-color="#ededff"/><stop offset="0.4024" stop-color="#e7e7ff"/><stop offset="0.4737" stop-color="#cdcdff"/><stop offset="0.5000" stop-color="#cacaff"/><stop offset="0.5263" stop-color="#ceceff"/><stop offset="0.5919" stop-color="#e5e5ff"/><stop offset="0.6370" stop-color="#ececff"/><stop offset="0.9371" stop-color="#eeeeff"/><stop offset="0.9991" stop-color="#f5f5ff"/></linearGradient><linearGradient id="h78"><stop offset="0.0009" stop-color="#f7f7ff"/><stop offset="0.0797" stop-color="#efefff"/><stop offset="0.3630" stop-color="#efefff"/><stop offset="0.4024" stop-color="#eaeaff"/><stop offset="0.4737" stop-color="#d2d2ff"/><stop offset="0.5000" stop-color="#cfcfff"/><stop offset="0.5263" stop-color="#d3d3ff"/><stop offset="0.5919" stop-color="#e8e8ff"/><stop offset="0.6370" stop-color="#eeeeff"/><stop offset="0.9371" stop-color="#f0f0ff"/><stop offset="0.9991" stop-color="#f6f6ff"/></linearGradient><linearGradient id="h79"><stop offset="0.0009" stop-color="#f8f8ff"/><stop offset="0.0797" stop-color="#f1f1ff"/><stop offset="0.3612" stop-color="#f2f2ff"/><stop offset="0.4024" stop-color="#ededff"/><stop offset="0.4737" stop-color="#d7d7ff"/><stop offset="0.5000" stop-color="#d5d5ff"/><stop offset="0.5263" stop-color="#d8d8ff"/><stop offset="0.5919" stop-color="#ebebff"/><stop offset="0.6388" stop-color="#f1f1ff"/><stop offset="0.9371" stop-color="#f3f3ff"/><stop offset="0.9991" stop-color="#f7f7ff"/></linearGradient><linearGradient id="h80"><stop offset="0.0009" stop-color="#f9f9ff"/><stop offset="0.0797" stop-color="#f3f3ff"/><stop offset="0.3612" stop-color="#f3f3ff"/><stop offset="0.4024" stop-color="#efefff"/><stop offset="0.4737" stop-color="#dcdcff"/><stop offset="0.5000" stop-color="#d9d9ff"/><stop offset="0.5263" stop-color="#dcdcff"/><stop offset="0.5919" stop-color="#ededff"/><stop offset="0.6388" stop-color="#f3f3ff"/><stop offset="0.9371" stop-color="#f4f4ff"/><stop offset="0.9991" stop-color="#f8f8ff"/></linearGradient><linearGradient id="h81"><stop offset="0.0009" stop-color="#fafaff"/><stop offset="0.0797" stop-color="#f5f5ff"/><stop offset="0.3612" stop-color="#f5f5ff"/><stop offset="0.4024" stop-color="#f1f1ff"/><stop offset="0.4737" stop-color="#dfdfff"/><stop offset="0.5000" stop-color="#ddddff"/><stop offset="0.5263" stop-color="#e0e0ff"/><stop offset="0.5919" stop-color="#efefff"/><stop offset="0.6388" stop-color="#f4f4ff"/><stop offset="0.9371" stop-color="#f6f6ff"/><stop offset="0.9991" stop-color="#f9f9ff"/></linearGradient><linearGradient id="h82"><stop offset="0.0009" stop-color="#fafaff"/><stop offset="0.0797" stop-color="#f6f6ff"/><stop offset="0.3612" stop-color="#f6f6ff"/><stop offset="0.4024" stop-color="#f2f2ff"/><stop offset="0.4737" stop-color="#e3e3ff"/><stop offset="0.5000" stop-color="#e1e1ff"/><stop offset="0.5263" stop-color="#e3e3ff"/><stop offset="0.5919" stop-color="#f1f1ff"/><stop offset="0.6388" stop-color="#f5f5ff"/><stop offset="0.9371" stop-color="#f7f7ff"/><stop offset="0.9991" stop-color="#fafaff"/></linearGradient><linearGradient id="h83"><stop offset="0.0009" stop-color="#fbfbff"/><stop offset="0.0797" stop-color="#f7f7ff"/><stop offset="0.3612" stop-color="#f7f7ff"/><stop offset="0.4024" stop-color="#f4f4ff"/><stop offset="0.4737" stop-color="#e6e6ff"/><stop offset="0.5000" stop-color="#e4e4ff"/><stop offset="0.5263" stop-color="#e6e6ff"/><stop offset="0.5938" stop-color="#f3f3ff"/><stop offset="0.6407" stop-color="#f7f7ff"/><stop offset="0.9371" stop-color="#f8f8ff"/><stop offset="0.9991" stop-color="#fbfbff"/></linearGradient><linearGradient id="h84"><stop offset="0.0009" stop-color="#fbfbff"/><stop offset="0.0797" stop-color="#f8f8ff"/><stop offset="0.3612" stop-color="#f8f8ff"/><stop offset="0.4006" stop-color="#f5f5ff"/><stop offset="0.4737" stop-color="#e8e8ff"/><stop offset="0.5000" stop-color="#e7e7ff"/><stop offset="0.5938" stop-color="#f4f4ff"/><stop offset="0.6407" stop-color="#f8f8ff"/><stop offset="0.9991" stop-color="#fbfbff"/></linearGradient><linearGradient id="h85"><stop offset="0.0009" stop-color="#fcfcff"/><stop offset="0.0797" stop-color="#f9f9ff"/><stop offset="0.3593" stop-color="#f9f9ff"/><stop offset="0.5000" stop-color="#e9e9ff"/><stop offset="0.6407" stop-color="#f9f9ff"/><stop offset="0.9991" stop-color="#fcfcff"/></linearGradient><linearGradient id="h86"><stop offset="0.0009" stop-color="#fcfcff"/><stop offset="0.3593" stop-color="#fafaff"/><stop offset="0.5000" stop-color="#ececff"/><stop offset="0.6407" stop-color="#fafaff"/><stop offset="0.9991" stop-color="#fcfcff"/></linearGradient><linearGradient id="h87"><stop offset="0.0009" stop-color="#fdfdff"/><stop offset="0.3593" stop-color="#fbfbff"/><stop offset="0.5000" stop-color="#eeeeff"/><stop offset="0.6407" stop-color="#fafaff"/><stop offset="0.9991" stop-color="#fdfdff"/></linearGradient><linearGradient id="h88"><stop offset="0.0009" stop-color="#fdfdff"/><stop offset="0.3593" stop-color="#fbfbff"/><stop offset="0.5000" stop-color="#f0f0ff"/><stop offset="0.6407" stop-color="#fbfbff"/><stop offset="0.9991" stop-color="#fdfdff"/></linearGradient><linearGradient id="h89"><stop offset="0.0009" stop-color="#fdfdff"/><stop offset="0.3593" stop-color="#fcfcff"/><stop offset="0.5000" stop-color="#f2f2ff"/><stop offset="0.6407" stop-color="#fcfcff"/><stop offset="0.9991" stop-color="#fdfdff"/></linearGradient><linearGradient id="h90"><stop offset="0.0009" stop-color="#fefeff"/><stop offset="0.3593" stop-color="#fcfcff"/><stop offset="0.5000" stop-color="#f3f3ff"/><stop offset="0.6407" stop-color="#fcfcff"/><stop offset="0.9991" stop-color="#fefeff"/></linearGradient><linearGradient id="h91"><stop offset="0.0009" stop-color="#fefeff"/><stop offset="0.3593" stop-color="#fdfdff"/><stop offset="0.5000" stop-color="#f5f5ff"/><stop offset="0.6426" stop-color="#fcfcff"/><stop offset="0.9991" stop-color="#fefeff"/></linearGradient><linearGradient id="h92"><stop offset="0.0009" stop-color="#fefeff"/><stop offset="0.3593" stop-color="#fdfdff"/><stop offset="0.5000" stop-color="#f6f6ff"/><stop offset="0.6407" stop-color="#fdfdff"/><stop offset="0.9991" stop-color="#fefeff"/></linearGradient><linearGradient id="h93"><stop offset="0.0009" stop-color="#fefeff"/><stop offset="0.3593" stop-color="#fdfdff"/><stop offset="0.5000" stop-color="#f7f7ff"/><stop offset="0.6407" stop-color="#fdfdff"/><stop offset="0.9991" stop-color="#fefeff"/></linearGradient><linearGradient id="h94"><stop offset="0.0009" stop-color="#fefeff"/><stop offset="0.3593" stop-color="#fdfdff"/><stop offset="0.5000" stop-color="#f9f9ff"/><stop offset="0.6407" stop-color="#fdfdff"/><stop offset="0.9991" stop-color="#fefeff"/></linearGradient><linearGradient id="h95"><stop offset="0.0009" stop-color="#fefeff"/><stop offset="0.3593" stop-color="#fefeff"/><stop offset="0.5000" stop-color="#fafaff"/><stop offset="0.6407" stop-color="#fefeff"/><stop offset="0.9991" stop-color="#fefeff"/></linearGradient><linearGradient id="h96"><stop offset="0.0009" stop-color="#fefeff"/><stop offset="0.5000" stop-color="#fbfbff"/><stop offset="0.9991" stop-color="#fefeff"/></linearGradient><linearGradient id="h97"><stop offset="0.0009" stop-color="#fefeff"/><stop offset="0.5000" stop-color="#fcfcff"/><stop offset="0.9991" stop-color="#fefeff"/></linearGradient><linearGradient id="h98"><stop offset="0.0009" stop-color="#ffffff"/><stop offset="0.9991" stop-color="#ffffff"/></linearGradient><linearGradient id="h99"><stop offset="0.0009" stop-color="#ffffff"/><stop offset="0.9991" stop-color="#ffffff"/></linearGradient><linearGradient id="h100"><stop offset="0.0009" stop-color="#ffffff"/><stop offset="0.9991" stop-color="#ffffff"/></linearGradient><linearGradient id="h101"><stop offset="0.0009" stop-color="#ffffff"/><stop offset="0.9991" stop-color="#ffffff"/></linearGradient><linearGradient id="h102"><stop offset="0.0009" stop-color="#ffffff"/><stop offset="0.9991" stop-color="#ffffff"/></linearGradient><linearGradient id="h103"><stop offset="0.0009" stop-color="#ffffff"/><stop offset="0.9991" stop-color="#ffffff"/></linearGradient><linearGradient id="h104"><stop offset="0.0009" stop-color="#ffffff"/><stop offset="0.9991" stop-color="#ffffff"/></linearGradient><linearGradient id="h105"><stop offset="0.0009" stop-color="#ffffff"/><stop offset="0.9991" stop-color="#ffffff"/></linearGradient><linearGradient id="h106"><stop offset="0.0009" stop-color="#ffffff"/><stop offset="0.9991" stop-color="#ffffff"/></linearGradient><linearGradient id="h107"><stop offset="0.0009" stop-color="#ffffff"/><stop offset="0.9991" stop-color="#ffffff"/></linearGradient><linearGradient id="h108"><stop offset="0.0009" stop-color="#ffffff"/><stop offset="0.9991" stop-color="#ffffff"/></linearGradient><linearGradient id="h109"><stop offset="0.0009" stop-color="#ffffff"/><stop offset="0.9991" stop-color="#ffffff"/></linearGradient><linearGradient id="h110"><stop offset="0.0009" stop-color="#ffffff"/><stop offset="0.9991" stop-color="#ffffff"/></linearGradient><linearGradient id="h111"><stop offset="0.0009" stop-color="#ffffff"/><stop offset="0.9991" stop-color="#ffffff"/></linearGradient><linearGradient id="h112"><stop offset="0.0009" stop-color="#ffffff"/><stop offset="0.9991" stop-color="#ffffff"/></linearGradient><linearGradient id="h113"><stop offset="0.0009" stop-color="#ffffff"/><stop offset="0.9991" stop-color="#ffffff"/></linearGradient><linearGradient id="h114"><stop offset="0.0009" stop-color="#ffffff"/><stop offset="0.9991" stop-color="#ffffff"/></linearGradient><linearGradient id="h115"><stop offset="0.0009" stop-color="#ffffff"/><stop offset="0.9991" stop-color="#ffffff"/></linearGradient><linearGradient id="h116"><stop offset="0.0009" stop-color="#ffffff"/><stop offset="0.9991" stop-color="#ffffff"/></linearGradient><linearGradient id="h117"><stop offset="0.0009" stop-color="#ffffff"/><stop offset="0.9991" stop-color="#ffffff"/></linearGradient><linearGradient id="h118"><stop offset="0.0009" stop-color="#ffffff"/><stop offset="0.9991" stop-color="#ffffff"/></linearGradient><linearGradient id="h119"><stop offset="0.0009" stop-color="#ffffff"/><stop offset="0.9991" stop-color="#ffffff"/></linearGradient><linearGradient id="h120"><stop offset="0.0009" stop-color="#ffffff"/><stop offset="0.9991" stop-color="#ffffff"/></linearGradient><linearGradient id="h121"><stop offset="0.0009" stop-color="#ffffff"/><stop offset="0.9991" stop-color="#ffffff"/></linearGradient><linearGradient id="h122"><stop offset="0.0009" stop-color="#ffffff"/><stop offset="0.9991" stop-color="#ffffff"/></linearGradient><linearGradient id="h123"><stop offset="0.0009" stop-color="#ffffff"/><stop offset="0.9991" stop-color="#ffffff"/></linearGradient><linearGradient id="h124"><stop offset="0.0009" stop-color="#ffffff"/><stop offset="0.9991" stop-color="#ffffff"/></linearGradient><linearGradient id="h125"><stop offset="0.0009" stop-color="#ffffff"/><stop offset="0.9991" stop-color="#ffffff"/></linearGradient><linearGradient id="h126"><stop offset="0.0009" stop-color="#ffffff"/><stop offset="0.9991" stop-color="#ffffff"/></linearGradient><linearGradient id="h127"><stop offset="0.0009" stop-color="#ffffff"/><stop offset="0.9991" stop-color="#ffffff"/></linearGradient><linearGradient id="h128"><stop offset="0.0009" stop-color="#ffffff"/><stop offset="0.9991" stop-color="#ffffff"/></linearGradient><linearGradient id="h129"><stop offset="0.0009" stop-color="#ffffff"/><stop offset="0.9991" stop-color="#ffffff"/></linearGradient><linearGradient id="h130"><stop offset="0.0009" stop-color="#ffffff"/><stop offset="0.9991" stop-color="#ffffff"/></linearGradient><linearGradient id="h131"><stop offset="0.0009" stop-color="#ffffff"/><stop offset="0.9991" stop-color="#ffffff"/></linearGradient><linearGradient id="h132"><stop offset="0.0009" stop-color="#ffffff"/><stop offset="0.9991" stop-color="#ffffff"/></linearGradient><filter id="vb" x="0" y="-0.05" width="1" height="1.1" color-interpolation-filters="sRGB"><feGaussianBlur stdDeviation="0 1.8"/></filter><clipPath id="cp2"><rect x="699.5" y="47.5" width="533.0" height="533.0"/></clipPath></defs><g clip-path="url(#cp2)"><g filter="url(#vb)"><rect x="699.5" y="41.50" width="533.0" height="10.61" fill="url(#h0)"/><rect x="699.5" y="51.51" width="533.0" height="4.61" fill="url(#h1)"/><rect x="699.5" y="55.52" width="533.0" height="4.61" fill="url(#h2)"/><rect x="699.5" y="59.52" width="533.0" height="4.61" fill="url(#h3)"/><rect x="699.5" y="63.53" width="533.0" height="4.61" fill="url(#h4)"/><rect x="699.5" y="67.54" width="533.0" height="4.61" fill="url(#h5)"/><rect x="699.5" y="71.55" width="533.0" height="4.61" fill="url(#h6)"/><rect x="699.5" y="75.55" width="533.0" height="4.61" fill="url(#h7)"/><rect x="699.5" y="79.56" width="533.0" height="4.61" fill="url(#h8)"/><rect x="699.5" y="83.57" width="533.0" height="4.61" fill="url(#h9)"/><rect x="699.5" y="87.58" width="533.0" height="4.61" fill="url(#h10)"/><rect x="699.5" y="91.58" width="533.0" height="4.61" fill="url(#h11)"/><rect x="699.5" y="95.59" width="533.0" height="4.61" fill="url(#h12)"/><rect x="699.5" y="99.60" width="533.0" height="4.61" fill="url(#h13)"/><rect x="699.5" y="103.61" width="533.0" height="4.61" fill="url(#h14)"/><rect x="699.5" y="107.61" width="533.0" height="4.61" fill="url(#h15)"/><rect x="699.5" y="111.62" width="533.0" height="4.61" fill="url(#h16)"/><rect x="699.5" y="115.63" width="533.0" height="4.61" fill="url(#h17)"/><rect x="699.5" y="119.64" width="533.0" height="4.61" fill="url(#h18)"/><rect x="699.5" y="123.64" width="533.0" height="4.61" fill="url(#h19)"/><rect x="699.5" y="127.65" width="533.0" height="4.61" fill="url(#h20)"/><rect x="699.5" y="131.66" width="533.0" height="4.61" fill="url(#h21)"/><rect x="699.5" y="135.67" width="533.0" height="4.61" fill="url(#h22)"/><rect x="699.5" y="139.67" width="533.0" height="4.61" fill="url(#h23)"/><rect x="699.5" y="143.68" width="533.0" height="4.61" fill="url(#h24)"/><rect x="699.5" y="147.69" width="533.0" height="4.61" fill="url(#h25)"/><rect x="699.5" y="151.70" width="533.0" height="4.61" fill="url(#h26)"/><rect x="699.5" y="155.70" width="533.0" height="4.61" fill="url(#h27)"/><rect x="699.5" y="159.71" width="533.0" height="4.61" fill="url(#h28)"/><rect x="699.5" y="163.72" width="533.0" height="4.61" fill="url(#h29)"/><rect x="699.5" y="167.73" width="533.0" height="4.61" fill="url(#h30)"/><rect x="699.5" y="171.73" width="533.0" height="4.61" fill="url(#h31)"/><rect x="699.5" y="175.74" width="533.0" height="4.61" fill="url(#h32)"/><rect x="699.5" y="179.75" width="533.0" height="4.61" fill="url(#h33)"/><rect x="699.5" y="183.76" width="533.0" height="4.61" fill="url(#h34)"/><rect x="699.5" y="187.76" width="533.0" height="4.61" fill="url(#h35)"/><rect x="699.5" y="191.77" width="533.0" height="4.61" fill="url(#h36)"/><rect x="699.5" y="195.78" width="533.0" height="4.61" fill="url(#h37)"/><rect x="699.5" y="199.79" width="533.0" height="4.61" fill="url(#h38)"/><rect x="699.5" y="203.79" width="533.0" height="4.61" fill="url(#h39)"/><rect x="699.5" y="207.80" width="533.0" height="4.61" fill="url(#h40)"/><rect x="699.5" y="211.81" width="533.0" height="4.61" fill="url(#h41)"/><rect x="699.5" y="215.82" width="533.0" height="4.61" fill="url(#h42)"/><rect x="699.5" y="219.82" width="533.0" height="4.61" fill="url(#h43)"/><rect x="699.5" y="223.83" width="533.0" height="4.61" fill="url(#h44)"/><rect x="699.5" y="227.84" width="533.0" height="4.61" fill="url(#h45)"/><rect x="699.5" y="231.85" width="533.0" height="4.61" fill="url(#h46)"/><rect x="699.5" y="235.85" width="533.0" height="4.61" fill="url(#h47)"/><rect x="699.5" y="239.86" width="533.0" height="4.61" fill="url(#h48)"/><rect x="699.5" y="243.87" width="533.0" height="4.61" fill="url(#h49)"/><rect x="699.5" y="247.88" width="533.0" height="4.61" fill="url(#h50)"/><rect x="699.5" y="251.88" width="533.0" height="4.61" fill="url(#h51)"/><rect x="699.5" y="255.89" width="533.0" height="4.61" fill="url(#h52)"/><rect x="699.5" y="259.90" width="533.0" height="4.61" fill="url(#h53)"/><rect x="699.5" y="263.91" width="533.0" height="4.61" fill="url(#h54)"/><rect x="699.5" y="267.91" width="533.0" height="4.61" fill="url(#h55)"/><rect x="699.5" y="271.92" width="533.0" height="4.61" fill="url(#h56)"/><rect x="699.5" y="275.93" width="533.0" height="4.61" fill="url(#h57)"/><rect x="699.5" y="279.94" width="533.0" height="4.61" fill="url(#h58)"/><rect x="699.5" y="283.94" width="533.0" height="4.61" fill="url(#h59)"/><rect x="699.5" y="287.95" width="533.0" height="4.61" fill="url(#h60)"/><rect x="699.5" y="291.96" width="533.0" height="4.61" fill="url(#h61)"/><rect x="699.5" y="295.97" width="533.0" height="4.61" fill="url(#h62)"/><rect x="699.5" y="299.97" width="533.0" height="4.61" fill="url(#h63)"/><rect x="699.5" y="303.98" width="533.0" height="4.61" fill="url(#h64)"/><rect x="699.5" y="307.99" width="533.0" height="4.61" fill="url(#h65)"/><rect x="699.5" y="312.00" width="533.0" height="4.61" fill="url(#h66)"/><rect x="699.5" y="316.00" width="533.0" height="4.61" fill="url(#h67)"/><rect x="699.5" y="320.01" width="533.0" height="4.61" fill="url(#h68)"/><rect x="699.5" y="324.02" width="533.0" height="4.61" fill="url(#h69)"/><rect x="699.5" y="328.03" width="533.0" height="4.61" fill="url(#h70)"/><rect x="699.5" y="332.03" width="533.0" height="4.61" fill="url(#h71)"/><rect x="699.5" y="336.04" width="533.0" height="4.61" fill="url(#h72)"/><rect x="699.5" y="340.05" width="533.0" height="4.61" fill="url(#h73)"/><rect x="699.5" y="344.06" width="533.0" height="4.61" fill="url(#h74)"/><rect x="699.5" y="348.06" width="533.0" height="4.61" fill="url(#h75)"/><rect x="699.5" y="352.07" width="533.0" height="4.61" fill="url(#h76)"/><rect x="699.5" y="356.08" width="533.0" height="4.61" fill="url(#h77)"/><rect x="699.5" y="360.09" width="533.0" height="4.61" fill="url(#h78)"/><rect x="699.5" y="364.09" width="533.0" height="4.61" fill="url(#h79)"/><rect x="699.5" y="368.10" width="533.0" height="4.61" fill="url(#h80)"/><rect x="699.5" y="372.11" width="533.0" height="4.61" fill="url(#h81)"/><rect x="699.5" y="376.12" width="533.0" height="4.61" fill="url(#h82)"/><rect x="699.5" y="380.12" width="533.0" height="4.61" fill="url(#h83)"/><rect x="699.5" y="384.13" width="533.0" height="4.61" fill="url(#h84)"/><rect x="699.5" y="388.14" width="533.0" height="4.61" fill="url(#h85)"/><rect x="699.5" y="392.15" width="533.0" height="4.61" fill="url(#h86)"/><rect x="699.5" y="396.15" width="533.0" height="4.61" fill="url(#h87)"/><rect x="699.5" y="400.16" width="533.0" height="4.61" fill="url(#h88)"/><rect x="699.5" y="404.17" width="533.0" height="4.61" fill="url(#h89)"/><rect x="699.5" y="408.18" width="533.0" height="4.61" fill="url(#h90)"/><rect x="699.5" y="412.18" width="533.0" height="4.61" fill="url(#h91)"/><rect x="699.5" y="416.19" width="533.0" height="4.61" fill="url(#h92)"/><rect x="699.5" y="420.20" width="533.0" height="4.61" fill="url(#h93)"/><rect x="699.5" y="424.21" width="533.0" height="4.61" fill="url(#h94)"/><rect x="699.5" y="428.21" width="533.0" height="4.61" fill="url(#h95)"/><rect x="699.5" y="432.22" width="533.0" height="4.61" fill="url(#h96)"/><rect x="699.5" y="436.23" width="533.0" height="4.61" fill="url(#h97)"/><rect x="699.5" y="440.24" width="533.0" height="4.61" fill="url(#h98)"/><rect x="699.5" y="444.24" width="533.0" height="4.61" fill="url(#h99)"/><rect x="699.5" y="448.25" width="533.0" height="4.61" fill="url(#h100)"/><rect x="699.5" y="452.26" width="533.0" height="4.61" fill="url(#h101)"/><rect x="699.5" y="456.27" width="533.0" height="4.61" fill="url(#h102)"/><rect x="699.5" y="460.27" width="533.0" height="4.61" fill="url(#h103)"/><rect x="699.5" y="464.28" width="533.0" height="4.61" fill="url(#h104)"/><rect x="699.5" y="468.29" width="533.0" height="4.61" fill="url(#h105)"/><rect x="699.5" y="472.30" width="533.0" height="4.61" fill="url(#h106)"/><rect x="699.5" y="476.30" width="533.0" height="4.61" fill="url(#h107)"/><rect x="699.5" y="480.31" width="533.0" height="4.61" fill="url(#h108)"/><rect x="699.5" y="484.32" width="533.0" height="4.61" fill="url(#h109)"/><rect x="699.5" y="488.33" width="533.0" height="4.61" fill="url(#h110)"/><rect x="699.5" y="492.33" width="533.0" height="4.61" fill="url(#h111)"/><rect x="699.5" y="496.34" width="533.0" height="4.61" fill="url(#h112)"/><rect x="699.5" y="500.35" width="533.0" height="4.61" fill="url(#h113)"/><rect x="699.5" y="504.36" width="533.0" height="4.61" fill="url(#h114)"/><rect x="699.5" y="508.36" width="533.0" height="4.61" fill="url(#h115)"/><rect x="699.5" y="512.37" width="533.0" height="4.61" fill="url(#h116)"/><rect x="699.5" y="516.38" width="533.0" height="4.61" fill="url(#h117)"/><rect x="699.5" y="520.39" width="533.0" height="4.61" fill="url(#h118)"/><rect x="699.5" y="524.39" width="533.0" height="4.61" fill="url(#h119)"/><rect x="699.5" y="528.40" width="533.0" height="4.61" fill="url(#h120)"/><rect x="699.5" y="532.41" width="533.0" height="4.61" fill="url(#h121)"/><rect x="699.5" y="536.42" width="533.0" height="4.61" fill="url(#h122)"/><rect x="699.5" y="540.42" width="533.0" height="4.61" fill="url(#h123)"/><rect x="699.5" y="544.43" width="533.0" height="4.61" fill="url(#h124)"/><rect x="699.5" y="548.44" width="533.0" height="4.61" fill="url(#h125)"/><rect x="699.5" y="552.45" width="533.0" height="4.61" fill="url(#h126)"/><rect x="699.5" y="556.45" width="533.0" height="4.61" fill="url(#h127)"/><rect x="699.5" y="560.46" width="533.0" height="4.61" fill="url(#h128)"/><rect x="699.5" y="564.47" width="533.0" height="4.61" fill="url(#h129)"/><rect x="699.5" y="568.48" width="533.0" height="4.61" fill="url(#h130)"/><rect x="699.5" y="572.48" width="533.0" height="4.61" fill="url(#h131)"/><rect x="699.5" y="576.49" width="533.0" height="10.61" fill="url(#h132)"/></g></g><rect x="851" y="47.5" width="1" height="533.0" fill="#fff"/><rect x="1048" y="47.5" width="1" height="533.0" fill="#fff"/><path d="M84.4 67.5h1.5M97.3 67.5h1.5M98.8 67.5h1.5M127.1 67.5h1.5M129.1 67.5h1.5M133.6 67.5h1.5M133.6 67.5h1.5M136.6 67.5h1.5M156.0 67.5h1.5M162.0 67.5h1.5M163.0 67.5h1.5M166.9 67.5h1.5M167.4 67.5h1.5M169.9 67.5h1.5M183.4 67.5h1.5M193.8 67.5h1.5M195.3 67.5h1.5M205.7 67.5h1.5M230.1 67.5h1.5M238.6 67.5h1.5M245.0 67.5h1.5M247.5 67.5h1.5M257.0 67.5h1.5M259.5 67.5h1.5M261.0 67.5h1.5M262.5 67.5h1.5M275.9 67.5h1.5M280.9 67.5h1.5M284.8 67.5h1.5M290.3 67.5h1.5M291.3 67.5h1.5M292.8 67.5h1.5M295.8 67.5h1.5M298.3 67.5h1.5M300.8 67.5h1.5M302.8 67.5h1.5M303.8 67.5h1.5M304.3 67.5h1.5M304.8 67.5h1.5M305.2 67.5h1.5M306.2 67.5h1.5M306.7 67.5h1.5M307.7 67.5h1.5M308.2 67.5h1.5M310.2 67.5h1.5M310.2 67.5h1.5M310.7 67.5h1.5M311.2 67.5h1.5M311.2 67.5h1.5M312.2 67.5h1.5M312.2 67.5h1.5M312.7 67.5h1.5M312.7 67.5h1.5M313.2 67.5h1.5M314.7 67.5h1.5M316.2 67.5h1.5M317.2 67.5h1.5M317.7 67.5h1.5M318.7 67.5h1.5M319.2 67.5h1.5M319.7 67.5h1.5M319.7 67.5h1.5M320.7 67.5h1.5M321.2 67.5h1.5M321.7 67.5h1.5M322.7 67.5h1.5M322.7 67.5h1.5M323.2 67.5h1.5M324.2 67.5h1.5M324.2 67.5h1.5M324.6 67.5h1.5M325.1 67.5h1.5M325.1 67.5h1.5M327.6 67.5h1.5M327.6 67.5h1.5M328.1 67.5h1.5M329.1 67.5h1.5M329.6 67.5h1.5M330.1 67.5h1.5M331.6 67.5h1.5M332.1 67.5h1.5M332.6 67.5h1.5M332.6 67.5h1.5M334.6 67.5h1.5M334.6 67.5h1.5M334.6 67.5h1.5M334.6 67.5h1.5M335.1 67.5h1.5M335.6 67.5h1.5M336.1 67.5h1.5M336.6 67.5h1.5M338.6 67.5h1.5M338.6 67.5h1.5M339.6 67.5h1.5M339.6 67.5h1.5M339.6 67.5h1.5M340.6 67.5h1.5M340.6 67.5h1.5M341.6 67.5h1.5M342.1 67.5h1.5M342.6 67.5h1.5M344.5 67.5h1.5M345.0 67.5h1.5M345.5 67.5h1.5M348.0 67.5h1.5M348.5 67.5h1.5M348.5 67.5h1.5M352.0 67.5h1.5M353.0 67.5h1.5M353.5 67.5h1.5M360.0 67.5h1.5M362.0 67.5h1.5M369.9 67.5h1.5M373.9 67.5h1.5M383.9 67.5h1.5M411.2 67.5h1.5M426.6 67.5h1.5M430.6 67.5h1.5M459.5 67.5h1.5M461.5 67.5h1.5M464.4 67.5h1.5M470.9 67.5h1.5M477.9 67.5h1.5M502.3 67.5h1.5M503.3 67.5h1.5M503.8 67.5h1.5M508.2 67.5h1.5M511.7 67.5h1.5M525.6 67.5h1.5M530.1 67.5h1.5M531.1 67.5h1.5M538.6 67.5h1.5M542.1 67.5h1.5M552.5 67.5h1.5M553.0 67.5h1.5M553.5 67.5h1.5M564.9 67.5h1.5M565.9 67.5h1.5M78.4 84.0h1.5M86.3 84.0h1.5M89.8 84.0h1.5M91.8 84.0h1.5M98.8 84.0h1.5M106.2 84.0h1.5M116.2 84.0h1.5M118.7 84.0h1.5M120.2 84.0h1.5M124.2 84.0h1.5M125.2 84.0h1.5M128.1 84.0h1.5M128.1 84.0h1.5M137.1 84.0h1.5M146.0 84.0h1.5M147.0 84.0h1.5M155.5 84.0h1.5M156.0 84.0h1.5M169.4 84.0h1.5M170.9 84.0h1.5M175.4 84.0h1.5M176.4 84.0h1.5M187.3 84.0h1.5M193.3 84.0h1.5M196.8 84.0h1.5M197.8 84.0h1.5M203.8 84.0h1.5M209.7 84.0h1.5M211.2 84.0h1.5M212.2 84.0h1.5M222.2 84.0h1.5M224.7 84.0h1.5M226.6 84.0h1.5M236.1 84.0h1.5M242.1 84.0h1.5M245.0 84.0h1.5M251.0 84.0h1.5M257.0 84.0h1.5M262.5 84.0h1.5M264.0 84.0h1.5M266.4 84.0h1.5M278.9 84.0h1.5M281.4 84.0h1.5M288.3 84.0h1.5M288.8 84.0h1.5M289.3 84.0h1.5M290.3 84.0h1.5M295.8 84.0h1.5M295.8 84.0h1.5M298.8 84.0h1.5M300.3 84.0h1.5M300.8 84.0h1.5M301.8 84.0h1.5M302.8 84.0h1.5M303.3 84.0h1.5M303.8 84.0h1.5M303.8 84.0h1.5M303.8 84.0h1.5M304.3 84.0h1.5M305.2 84.0h1.5M306.2 84.0h1.5M306.2 84.0h1.5M308.2 84.0h1.5M308.7 84.0h1.5M308.7 84.0h1.5M309.7 84.0h1.5M309.7 84.0h1.5M310.7 84.0h1.5M311.2 84.0h1.5M311.2 84.0h1.5M311.7 84.0h1.5M314.7 84.0h1.5M318.7 84.0h1.5M318.7 84.0h1.5M318.7 84.0h1.5M319.2 84.0h1.5M319.2 84.0h1.5M319.7 84.0h1.5M321.2 84.0h1.5M321.2 84.0h1.5M321.2 84.0h1.5M321.2 84.0h1.5M322.7 84.0h1.5M322.7 84.0h1.5M322.7 84.0h1.5M322.7 84.0h1.5M323.2 84.0h1.5M323.7 84.0h1.5M323.7 84.0h1.5M324.2 84.0h1.5M324.2 84.0h1.5M324.2 84.0h1.5M324.6 84.0h1.5M325.1 84.0h1.5M325.1 84.0h1.5M325.1 84.0h1.5M326.6 84.0h1.5M327.1 84.0h1.5M327.1 84.0h1.5M328.1 84.0h1.5M328.6 84.0h1.5M328.6 84.0h1.5M329.1 84.0h1.5M329.1 84.0h1.5M330.1 84.0h1.5M330.1 84.0h1.5M331.6 84.0h1.5M331.6 84.0h1.5M332.1 84.0h1.5M332.1 84.0h1.5M332.1 84.0h1.5M332.6 84.0h1.5M332.6 84.0h1.5M332.6 84.0h1.5M333.1 84.0h1.5M333.1 84.0h1.5M333.1 84.0h1.5M333.6 84.0h1.5M334.6 84.0h1.5M335.1 84.0h1.5M336.1 84.0h1.5M336.1 84.0h1.5M336.1 84.0h1.5M338.6 84.0h1.5M339.1 84.0h1.5M339.1 84.0h1.5M339.6 84.0h1.5M340.6 84.0h1.5M341.6 84.0h1.5M341.6 84.0h1.5M341.6 84.0h1.5M342.6 84.0h1.5M343.1 84.0h1.5M344.5 84.0h1.5M345.5 84.0h1.5M346.5 84.0h1.5M347.5 84.0h1.5M348.5 84.0h1.5M348.5 84.0h1.5M351.0 84.0h1.5M351.0 84.0h1.5M355.5 84.0h1.5M355.5 84.0h1.5M364.4 84.0h1.5M365.9 84.0h1.5M367.4 84.0h1.5M370.9 84.0h1.5M372.9 84.0h1.5M382.4 84.0h1.5M398.3 84.0h1.5M423.7 84.0h1.5M435.1 84.0h1.5M439.6 84.0h1.5M441.1 84.0h1.5M453.0 84.0h1.5M454.0 84.0h1.5M458.0 84.0h1.5M464.4 84.0h1.5M484.8 84.0h1.5M491.8 84.0h1.5M495.3 84.0h1.5M495.3 84.0h1.5M495.8 84.0h1.5M504.2 84.0h1.5M519.7 84.0h1.5M532.6 84.0h1.5M535.1 84.0h1.5M535.1 84.0h1.5M562.0 84.0h1.5M564.4 84.0h1.5M569.4 84.0h1.5M569.9 84.0h1.5M85.4 94.0h1.5M96.8 94.0h1.5M97.8 94.0h1.5M98.3 94.0h1.5M99.8 94.0h1.5M100.3 94.0h1.5M102.8 94.0h1.5M102.8 94.0h1.5M104.3 94.0h1.5M109.7 94.0h1.5M114.2 94.0h1.5M115.2 94.0h1.5M120.7 94.0h1.5M125.6 94.0h1.5M127.1 94.0h1.5M136.1 94.0h1.5M138.6 94.0h1.5M139.6 94.0h1.5M142.1 94.0h1.5M143.1 94.0h1.5M143.1 94.0h1.5M144.6 94.0h1.5M146.0 94.0h1.5M151.0 94.0h1.5M155.5 94.0h1.5M162.5 94.0h1.5M168.9 94.0h1.5M171.4 94.0h1.5M175.4 94.0h1.5M176.9 94.0h1.5M178.9 94.0h1.5M179.9 94.0h1.5M179.9 94.0h1.5M187.3 94.0h1.5M187.3 94.0h1.5M187.8 94.0h1.5M189.3 94.0h1.5M194.8 94.0h1.5M203.8 94.0h1.5M212.2 94.0h1.5M212.7 94.0h1.5M219.2 94.0h1.5M222.7 94.0h1.5M222.7 94.0h1.5M223.7 94.0h1.5M233.6 94.0h1.5M236.1 94.0h1.5M239.1 94.0h1.5M244.1 94.0h1.5M251.0 94.0h1.5M251.5 94.0h1.5M257.5 94.0h1.5M259.5 94.0h1.5M263.0 94.0h1.5M264.5 94.0h1.5M267.9 94.0h1.5M268.4 94.0h1.5M275.4 94.0h1.5M278.9 94.0h1.5M279.4 94.0h1.5M288.8 94.0h1.5M288.8 94.0h1.5M292.3 94.0h1.5M295.3 94.0h1.5M295.8 94.0h1.5M297.3 94.0h1.5M298.8 94.0h1.5M299.3 94.0h1.5M302.8 94.0h1.5M303.3 94.0h1.5M303.8 94.0h1.5M303.8 94.0h1.5M305.2 94.0h1.5M305.2 94.0h1.5M305.7 94.0h1.5M306.7 94.0h1.5M307.7 94.0h1.5M307.7 94.0h1.5M308.2 94.0h1.5M308.7 94.0h1.5M310.2 94.0h1.5M310.2 94.0h1.5M310.7 94.0h1.5M311.7 94.0h1.5M312.2 94.0h1.5M312.2 94.0h1.5M312.2 94.0h1.5M312.7 94.0h1.5M314.2 94.0h1.5M314.2 94.0h1.5M314.7 94.0h1.5M315.2 94.0h1.5M315.7 94.0h1.5M315.7 94.0h1.5M317.2 94.0h1.5M317.2 94.0h1.5M317.7 94.0h1.5M317.7 94.0h1.5M318.2 94.0h1.5M318.7 94.0h1.5M319.7 94.0h1.5M319.7 94.0h1.5M320.2 94.0h1.5M320.2 94.0h1.5M320.2 94.0h1.5M320.7 94.0h1.5M321.2 94.0h1.5M322.7 94.0h1.5M323.2 94.0h1.5M323.7 94.0h1.5M324.2 94.0h1.5M324.6 94.0h1.5M325.1 94.0h1.5M325.1 94.0h1.5M325.1 94.0h1.5M325.6 94.0h1.5M326.1 94.0h1.5M326.1 94.0h1.5M327.1 94.0h1.5M327.1 94.0h1.5M327.1 94.0h1.5M327.1 94.0h1.5M327.1 94.0h1.5M327.6 94.0h1.5M327.6 94.0h1.5M328.1 94.0h1.5M328.1 94.0h1.5M328.6 94.0h1.5M330.6 94.0h1.5M330.6 94.0h1.5M331.1 94.0h1.5M331.1 94.0h1.5M331.1 94.0h1.5M331.6 94.0h1.5M332.1 94.0h1.5M332.1 94.0h1.5M332.6 94.0h1.5M333.1 94.0h1.5M333.1 94.0h1.5M333.1 94.0h1.5M334.1 94.0h1.5M334.1 94.0h1.5M334.6 94.0h1.5M334.6 94.0h1.5M335.6 94.0h1.5M335.6 94.0h1.5M337.6 94.0h1.5M337.6 94.0h1.5M338.1 94.0h1.5M338.6 94.0h1.5M339.1 94.0h1.5M339.6 94.0h1.5M339.6 94.0h1.5M340.1 94.0h1.5M340.1 94.0h1.5M340.6 94.0h1.5M341.6 94.0h1.5M342.6 94.0h1.5M342.6 94.0h1.5M342.6 94.0h1.5M343.1 94.0h1.5M344.1 94.0h1.5M344.1 94.0h1.5M345.0 94.0h1.5M345.5 94.0h1.5M345.5 94.0h1.5M345.5 94.0h1.5M346.0 94.0h1.5M346.5 94.0h1.5M346.5 94.0h1.5M347.0 94.0h1.5M348.0 94.0h1.5M349.0 94.0h1.5M350.0 94.0h1.5M351.5 94.0h1.5M351.5 94.0h1.5M351.5 94.0h1.5M352.0 94.0h1.5M352.5 94.0h1.5M354.5 94.0h1.5M354.5 94.0h1.5M355.5 94.0h1.5M356.0 94.0h1.5M356.0 94.0h1.5M357.5 94.0h1.5M357.5 94.0h1.5M361.0 94.0h1.5M361.5 94.0h1.5M362.0 94.0h1.5M363.5 94.0h1.5M369.4 94.0h1.5M371.9 94.0h1.5M386.3 94.0h1.5M395.3 94.0h1.5M396.8 94.0h1.5M399.3 94.0h1.5M403.3 94.0h1.5M408.2 94.0h1.5M412.7 94.0h1.5M413.7 94.0h1.5M415.2 94.0h1.5M418.7 94.0h1.5M423.7 94.0h1.5M429.6 94.0h1.5M436.6 94.0h1.5M439.6 94.0h1.5M439.6 94.0h1.5M447.5 94.0h1.5M449.0 94.0h1.5M454.5 94.0h1.5M462.5 94.0h1.5M472.4 94.0h1.5M474.4 94.0h1.5M486.3 94.0h1.5M491.8 94.0h1.5M492.8 94.0h1.5M496.3 94.0h1.5M499.3 94.0h1.5M508.7 94.0h1.5M512.2 94.0h1.5M514.7 94.0h1.5M519.2 94.0h1.5M519.7 94.0h1.5M530.6 94.0h1.5M534.6 94.0h1.5M539.6 94.0h1.5M539.6 94.0h1.5M539.6 94.0h1.5M539.6 94.0h1.5M541.1 94.0h1.5M545.5 94.0h1.5M552.5 94.0h1.5M570.9 94.0h1.5M79.4 102.1h1.5M109.2 102.1h1.5M110.7 102.1h1.5M111.7 102.1h1.5M118.2 102.1h1.5M119.7 102.1h1.5M121.2 102.1h1.5M124.2 102.1h1.5M128.6 102.1h1.5M142.6 102.1h1.5M148.0 102.1h1.5M149.0 102.1h1.5M149.5 102.1h1.5M150.0 102.1h1.5M157.0 102.1h1.5M164.5 102.1h1.5M186.8 102.1h1.5M188.8 102.1h1.5M201.3 102.1h1.5M232.1 102.1h1.5M248.5 102.1h1.5M251.5 102.1h1.5M254.5 102.1h1.5M272.9 102.1h1.5M273.9 102.1h1.5M276.9 102.1h1.5M277.4 102.1h1.5M290.3 102.1h1.5M290.8 102.1h1.5M291.3 102.1h1.5M293.8 102.1h1.5M294.3 102.1h1.5M294.8 102.1h1.5M296.3 102.1h1.5M296.3 102.1h1.5M300.8 102.1h1.5M301.3 102.1h1.5M301.3 102.1h1.5M302.3 102.1h1.5M305.2 102.1h1.5M306.2 102.1h1.5M306.2 102.1h1.5M306.2 102.1h1.5M307.2 102.1h1.5M307.7 102.1h1.5M308.2 102.1h1.5M310.2 102.1h1.5M310.2 102.1h1.5M310.7 102.1h1.5M311.2 102.1h1.5M312.2 102.1h1.5M312.2 102.1h1.5M313.2 102.1h1.5M313.7 102.1h1.5M314.2 102.1h1.5M314.7 102.1h1.5M315.2 102.1h1.5M315.2 102.1h1.5M316.2 102.1h1.5M317.2 102.1h1.5M317.7 102.1h1.5M318.2 102.1h1.5M318.7 102.1h1.5M320.7 102.1h1.5M321.2 102.1h1.5M322.7 102.1h1.5M322.7 102.1h1.5M323.7 102.1h1.5M323.7 102.1h1.5M324.2 102.1h1.5M324.6 102.1h1.5M325.6 102.1h1.5M326.1 102.1h1.5M326.6 102.1h1.5M328.1 102.1h1.5M328.6 102.1h1.5M329.1 102.1h1.5M329.6 102.1h1.5M333.1 102.1h1.5M333.6 102.1h1.5M334.6 102.1h1.5M334.6 102.1h1.5M339.6 102.1h1.5M340.1 102.1h1.5M340.6 102.1h1.5M340.6 102.1h1.5M341.6 102.1h1.5M342.1 102.1h1.5M343.6 102.1h1.5M344.1 102.1h1.5M344.5 102.1h1.5M348.0 102.1h1.5M348.5 102.1h1.5M348.5 102.1h1.5M350.0 102.1h1.5M351.5 102.1h1.5M352.5 102.1h1.5M353.5 102.1h1.5M353.5 102.1h1.5M355.0 102.1h1.5M356.0 102.1h1.5M359.0 102.1h1.5M359.5 102.1h1.5M364.0 102.1h1.5M366.9 102.1h1.5M372.4 102.1h1.5M373.4 102.1h1.5M378.9 102.1h1.5M399.8 102.1h1.5M404.7 102.1h1.5M405.7 102.1h1.5M407.7 102.1h1.5M409.2 102.1h1.5M420.2 102.1h1.5M425.1 102.1h1.5M436.1 102.1h1.5M443.6 102.1h1.5M446.5 102.1h1.5M451.5 102.1h1.5M473.9 102.1h1.5M475.4 102.1h1.5M477.9 102.1h1.5M478.4 102.1h1.5M479.4 102.1h1.5M480.9 102.1h1.5M496.8 102.1h1.5M500.8 102.1h1.5M505.7 102.1h1.5M507.7 102.1h1.5M510.2 102.1h1.5M510.7 102.1h1.5M534.6 102.1h1.5M538.1 102.1h1.5M538.6 102.1h1.5M542.6 102.1h1.5M546.5 102.1h1.5M548.0 102.1h1.5M549.5 102.1h1.5M557.5 102.1h1.5M565.9 102.1h1.5M84.4 110.3h1.5M84.9 110.3h1.5M87.3 110.3h1.5M87.8 110.3h1.5M88.8 110.3h1.5M90.3 110.3h1.5M98.3 110.3h1.5M99.3 110.3h1.5M99.8 110.3h1.5M109.7 110.3h1.5M122.2 110.3h1.5M122.7 110.3h1.5M123.7 110.3h1.5M125.2 110.3h1.5M125.2 110.3h1.5M127.6 110.3h1.5M128.6 110.3h1.5M132.1 110.3h1.5M134.1 110.3h1.5M136.6 110.3h1.5M139.1 110.3h1.5M143.6 110.3h1.5M144.6 110.3h1.5M146.5 110.3h1.5M148.5 110.3h1.5M149.0 110.3h1.5M157.0 110.3h1.5M159.5 110.3h1.5M163.0 110.3h1.5M166.9 110.3h1.5M176.4 110.3h1.5M179.9 110.3h1.5M180.4 110.3h1.5M186.3 110.3h1.5M187.3 110.3h1.5M194.8 110.3h1.5M195.8 110.3h1.5M211.7 110.3h1.5M216.7 110.3h1.5M217.7 110.3h1.5M219.7 110.3h1.5M220.2 110.3h1.5M221.7 110.3h1.5M223.2 110.3h1.5M223.2 110.3h1.5M225.1 110.3h1.5M249.0 110.3h1.5M255.0 110.3h1.5M258.0 110.3h1.5M261.0 110.3h1.5M265.9 110.3h1.5M266.9 110.3h1.5M267.9 110.3h1.5M272.9 110.3h1.5M274.4 110.3h1.5M277.4 110.3h1.5M278.9 110.3h1.5M279.4 110.3h1.5M280.4 110.3h1.5M280.9 110.3h1.5M280.9 110.3h1.5M281.4 110.3h1.5M284.8 110.3h1.5M286.8 110.3h1.5M287.3 110.3h1.5M287.3 110.3h1.5M288.8 110.3h1.5M288.8 110.3h1.5M288.8 110.3h1.5M291.8 110.3h1.5M291.8 110.3h1.5M292.8 110.3h1.5M294.3 110.3h1.5M294.8 110.3h1.5M298.3 110.3h1.5M298.3 110.3h1.5M299.3 110.3h1.5M299.8 110.3h1.5M299.8 110.3h1.5M301.8 110.3h1.5M302.3 110.3h1.5M303.8 110.3h1.5M304.3 110.3h1.5M305.2 110.3h1.5M305.2 110.3h1.5M305.7 110.3h1.5M306.2 110.3h1.5M306.2 110.3h1.5M306.2 110.3h1.5M307.7 110.3h1.5M307.7 110.3h1.5M307.7 110.3h1.5M309.2 110.3h1.5M309.7 110.3h1.5M309.7 110.3h1.5M310.7 110.3h1.5M310.7 110.3h1.5M310.7 110.3h1.5M311.2 110.3h1.5M311.2 110.3h1.5M311.2 110.3h1.5M311.2 110.3h1.5M312.7 110.3h1.5M313.2 110.3h1.5M313.2 110.3h1.5M313.7 110.3h1.5M314.2 110.3h1.5M314.2 110.3h1.5M314.7 110.3h1.5M315.2 110.3h1.5M315.2 110.3h1.5M315.7 110.3h1.5M315.7 110.3h1.5M315.7 110.3h1.5M316.2 110.3h1.5M316.2 110.3h1.5M316.2 110.3h1.5M316.7 110.3h1.5M316.7 110.3h1.5M316.7 110.3h1.5M316.7 110.3h1.5M317.2 110.3h1.5M317.2 110.3h1.5M317.7 110.3h1.5M318.7 110.3h1.5M319.7 110.3h1.5M319.7 110.3h1.5M319.7 110.3h1.5M320.2 110.3h1.5M320.7 110.3h1.5M321.2 110.3h1.5M321.2 110.3h1.5M321.7 110.3h1.5M321.7 110.3h1.5M322.2 110.3h1.5M322.7 110.3h1.5M322.7 110.3h1.5M323.7 110.3h1.5M323.7 110.3h1.5M323.7 110.3h1.5M324.2 110.3h1.5M324.6 110.3h1.5M324.6 110.3h1.5M325.1 110.3h1.5M325.1 110.3h1.5M325.1 110.3h1.5M325.6 110.3h1.5M326.1 110.3h1.5M326.1 110.3h1.5M326.6 110.3h1.5M326.6 110.3h1.5M326.6 110.3h1.5M326.6 110.3h1.5M327.1 110.3h1.5M328.1 110.3h1.5M328.6 110.3h1.5M328.6 110.3h1.5M328.6 110.3h1.5M328.6 110.3h1.5M329.1 110.3h1.5M329.1 110.3h1.5M329.6 110.3h1.5M330.1 110.3h1.5M330.6 110.3h1.5M330.6 110.3h1.5M330.6 110.3h1.5M331.1 110.3h1.5M331.1 110.3h1.5M332.1 110.3h1.5M332.1 110.3h1.5M332.6 110.3h1.5M332.6 110.3h1.5M332.6 110.3h1.5M333.1 110.3h1.5M333.1 110.3h1.5M333.1 110.3h1.5M334.1 110.3h1.5M334.1 110.3h1.5M334.6 110.3h1.5M335.1 110.3h1.5M335.6 110.3h1.5M335.6 110.3h1.5M335.6 110.3h1.5M336.1 110.3h1.5M336.6 110.3h1.5M336.6 110.3h1.5M337.1 110.3h1.5M338.1 110.3h1.5M338.6 110.3h1.5M338.6 110.3h1.5M338.6 110.3h1.5M339.1 110.3h1.5M339.1 110.3h1.5M339.6 110.3h1.5M339.6 110.3h1.5M340.6 110.3h1.5M340.6 110.3h1.5M341.6 110.3h1.5M342.6 110.3h1.5M342.6 110.3h1.5M342.6 110.3h1.5M343.1 110.3h1.5M344.1 110.3h1.5M345.5 110.3h1.5M348.0 110.3h1.5M349.5 110.3h1.5M350.5 110.3h1.5M350.5 110.3h1.5M351.0 110.3h1.5M351.5 110.3h1.5M352.0 110.3h1.5M352.0 110.3h1.5M352.5 110.3h1.5M352.5 110.3h1.5M353.0 110.3h1.5M353.5 110.3h1.5M354.5 110.3h1.5M354.5 110.3h1.5M355.0 110.3h1.5M355.0 110.3h1.5M355.5 110.3h1.5M358.5 110.3h1.5M360.0 110.3h1.5M360.5 110.3h1.5M362.5 110.3h1.5M363.5 110.3h1.5M364.0 110.3h1.5M364.0 110.3h1.5M364.9 110.3h1.5M367.9 110.3h1.5M367.9 110.3h1.5M368.4 110.3h1.5M368.9 110.3h1.5M369.9 110.3h1.5M375.9 110.3h1.5M382.9 110.3h1.5M385.8 110.3h1.5M387.8 110.3h1.5M394.3 110.3h1.5M402.3 110.3h1.5M408.2 110.3h1.5M422.7 110.3h1.5M424.1 110.3h1.5M433.6 110.3h1.5M435.6 110.3h1.5M437.6 110.3h1.5M439.1 110.3h1.5M439.6 110.3h1.5M440.6 110.3h1.5M442.6 110.3h1.5M448.5 110.3h1.5M454.5 110.3h1.5M458.0 110.3h1.5M458.5 110.3h1.5M475.4 110.3h1.5M476.4 110.3h1.5M478.4 110.3h1.5M479.9 110.3h1.5M480.9 110.3h1.5M481.9 110.3h1.5M484.3 110.3h1.5M486.8 110.3h1.5M494.3 110.3h1.5M494.8 110.3h1.5M495.8 110.3h1.5M502.3 110.3h1.5M503.8 110.3h1.5M508.7 110.3h1.5M510.2 110.3h1.5M514.2 110.3h1.5M521.2 110.3h1.5M522.7 110.3h1.5M533.6 110.3h1.5M533.6 110.3h1.5M539.1 110.3h1.5M540.6 110.3h1.5M557.5 110.3h1.5M562.0 110.3h1.5M563.5 110.3h1.5M563.9 110.3h1.5M567.4 110.3h1.5M568.9 110.3h1.5M79.4 118.4h1.5M83.9 118.4h1.5M86.8 118.4h1.5M86.8 118.4h1.5M88.3 118.4h1.5M92.3 118.4h1.5M95.3 118.4h1.5M101.3 118.4h1.5M101.8 118.4h1.5M105.3 118.4h1.5M118.2 118.4h1.5M126.6 118.4h1.5M132.6 118.4h1.5M135.1 118.4h1.5M140.6 118.4h1.5M141.1 118.4h1.5M160.0 118.4h1.5M163.0 118.4h1.5M186.3 118.4h1.5M190.8 118.4h1.5M202.3 118.4h1.5M217.2 118.4h1.5M217.7 118.4h1.5M218.2 118.4h1.5M219.2 118.4h1.5M229.1 118.4h1.5M230.6 118.4h1.5M241.1 118.4h1.5M242.6 118.4h1.5M247.5 118.4h1.5M250.5 118.4h1.5M253.0 118.4h1.5M257.0 118.4h1.5M260.5 118.4h1.5M261.0 118.4h1.5M269.9 118.4h1.5M275.9 118.4h1.5M276.9 118.4h1.5M280.9 118.4h1.5M280.9 118.4h1.5M287.3 118.4h1.5M287.8 118.4h1.5M288.3 118.4h1.5M290.8 118.4h1.5M292.3 118.4h1.5M293.8 118.4h1.5M295.3 118.4h1.5M296.3 118.4h1.5M296.3 118.4h1.5M296.8 118.4h1.5M296.8 118.4h1.5M298.3 118.4h1.5M300.8 118.4h1.5M301.3 118.4h1.5M301.8 118.4h1.5M302.3 118.4h1.5M303.3 118.4h1.5M304.3 118.4h1.5M304.8 118.4h1.5M305.2 118.4h1.5M305.7 118.4h1.5M306.2 118.4h1.5M307.7 118.4h1.5M309.7 118.4h1.5M310.2 118.4h1.5M311.2 118.4h1.5M311.2 118.4h1.5M311.7 118.4h1.5M312.2 118.4h1.5M312.7 118.4h1.5M313.2 118.4h1.5M315.2 118.4h1.5M316.2 118.4h1.5M316.7 118.4h1.5M316.7 118.4h1.5M317.2 118.4h1.5M317.7 118.4h1.5M318.2 118.4h1.5M318.2 118.4h1.5M318.2 118.4h1.5M318.2 118.4h1.5M318.7 118.4h1.5M320.7 118.4h1.5M320.7 118.4h1.5M321.2 118.4h1.5M321.2 118.4h1.5M321.7 118.4h1.5M322.7 118.4h1.5M323.2 118.4h1.5M323.2 118.4h1.5M323.2 118.4h1.5M323.2 118.4h1.5M323.2 118.4h1.5M324.2 118.4h1.5M324.6 118.4h1.5M326.1 118.4h1.5M327.1 118.4h1.5M327.6 118.4h1.5M328.1 118.4h1.5M328.1 118.4h1.5M328.6 118.4h1.5M329.1 118.4h1.5M331.1 118.4h1.5M331.1 118.4h1.5M333.1 118.4h1.5M334.1 118.4h1.5M334.1 118.4h1.5M335.6 118.4h1.5M336.1 118.4h1.5M336.6 118.4h1.5M337.1 118.4h1.5M337.1 118.4h1.5M337.6 118.4h1.5M339.1 118.4h1.5M340.1 118.4h1.5M341.1 118.4h1.5M342.1 118.4h1.5M343.1 118.4h1.5M343.1 118.4h1.5M347.0 118.4h1.5M348.0 118.4h1.5M348.0 118.4h1.5M348.5 118.4h1.5M350.0 118.4h1.5M351.0 118.4h1.5M351.5 118.4h1.5M354.5 118.4h1.5M356.0 118.4h1.5M357.0 118.4h1.5M357.0 118.4h1.5M362.5 118.4h1.5M363.0 118.4h1.5M364.4 118.4h1.5M364.4 118.4h1.5M365.4 118.4h1.5M367.9 118.4h1.5M370.4 118.4h1.5M370.4 118.4h1.5M375.4 118.4h1.5M384.8 118.4h1.5M399.8 118.4h1.5M408.2 118.4h1.5M410.2 118.4h1.5M417.2 118.4h1.5M418.7 118.4h1.5M422.7 118.4h1.5M436.6 118.4h1.5M439.6 118.4h1.5M451.5 118.4h1.5M454.5 118.4h1.5M464.4 118.4h1.5M467.9 118.4h1.5M468.9 118.4h1.5M493.8 118.4h1.5M504.7 118.4h1.5M505.7 118.4h1.5M507.7 118.4h1.5M537.1 118.4h1.5M538.1 118.4h1.5M540.1 118.4h1.5M543.1 118.4h1.5M545.0 118.4h1.5M545.0 118.4h1.5M552.0 118.4h1.5M558.0 118.4h1.5M559.0 118.4h1.5M561.0 118.4h1.5M562.0 118.4h1.5M568.4 118.4h1.5M78.4 126.7h1.5M91.3 126.7h1.5M92.3 126.7h1.5M104.3 126.7h1.5M104.8 126.7h1.5M105.3 126.7h1.5M111.7 126.7h1.5M117.7 126.7h1.5M120.2 126.7h1.5M120.7 126.7h1.5M125.2 126.7h1.5M130.6 126.7h1.5M139.1 126.7h1.5M159.0 126.7h1.5M165.9 126.7h1.5M173.4 126.7h1.5M175.9 126.7h1.5M183.4 126.7h1.5M201.3 126.7h1.5M208.7 126.7h1.5M220.2 126.7h1.5M230.6 126.7h1.5M231.6 126.7h1.5M232.6 126.7h1.5M233.6 126.7h1.5M236.6 126.7h1.5M241.6 126.7h1.5M248.5 126.7h1.5M264.0 126.7h1.5M271.9 126.7h1.5M278.4 126.7h1.5M285.8 126.7h1.5M285.8 126.7h1.5M288.8 126.7h1.5M290.8 126.7h1.5M293.3 126.7h1.5M294.3 126.7h1.5M296.3 126.7h1.5M296.8 126.7h1.5M297.8 126.7h1.5M302.3 126.7h1.5M302.8 126.7h1.5M303.3 126.7h1.5M304.3 126.7h1.5M304.3 126.7h1.5M304.8 126.7h1.5M305.2 126.7h1.5M307.2 126.7h1.5M308.2 126.7h1.5M308.2 126.7h1.5M309.7 126.7h1.5M309.7 126.7h1.5M310.2 126.7h1.5M310.2 126.7h1.5M310.2 126.7h1.5M312.7 126.7h1.5M313.2 126.7h1.5M313.2 126.7h1.5M314.7 126.7h1.5M316.7 126.7h1.5M317.2 126.7h1.5M317.2 126.7h1.5M317.7 126.7h1.5M318.7 126.7h1.5M319.2 126.7h1.5M320.2 126.7h1.5M321.7 126.7h1.5M321.7 126.7h1.5M322.7 126.7h1.5M323.2 126.7h1.5M324.6 126.7h1.5M326.1 126.7h1.5M326.6 126.7h1.5M328.1 126.7h1.5M328.1 126.7h1.5M328.6 126.7h1.5M329.6 126.7h1.5M331.6 126.7h1.5M332.1 126.7h1.5M332.6 126.7h1.5M334.6 126.7h1.5M334.6 126.7h1.5M335.1 126.7h1.5M335.1 126.7h1.5M336.1 126.7h1.5M336.1 126.7h1.5M340.6 126.7h1.5M342.6 126.7h1.5M342.6 126.7h1.5M344.1 126.7h1.5M344.5 126.7h1.5M344.5 126.7h1.5M347.0 126.7h1.5M347.5 126.7h1.5M348.5 126.7h1.5M351.5 126.7h1.5M351.5 126.7h1.5M351.5 126.7h1.5M353.0 126.7h1.5M356.0 126.7h1.5M357.0 126.7h1.5M357.0 126.7h1.5M357.0 126.7h1.5M361.0 126.7h1.5M362.5 126.7h1.5M363.5 126.7h1.5M366.4 126.7h1.5M372.4 126.7h1.5M373.9 126.7h1.5M375.9 126.7h1.5M385.3 126.7h1.5M387.3 126.7h1.5M397.8 126.7h1.5M401.8 126.7h1.5M405.7 126.7h1.5M411.2 126.7h1.5M411.7 126.7h1.5M412.2 126.7h1.5M450.5 126.7h1.5M452.5 126.7h1.5M463.5 126.7h1.5M475.4 126.7h1.5M476.9 126.7h1.5M478.4 126.7h1.5M479.9 126.7h1.5M485.8 126.7h1.5M487.3 126.7h1.5M489.3 126.7h1.5M495.3 126.7h1.5M496.3 126.7h1.5M496.3 126.7h1.5M507.2 126.7h1.5M532.6 126.7h1.5M534.6 126.7h1.5M539.6 126.7h1.5M544.5 126.7h1.5M554.0 126.7h1.5M78.9 128.6h1.5M80.4 128.6h1.5M88.8 128.6h1.5M94.8 128.6h1.5M96.8 128.6h1.5M102.8 128.6h1.5M117.2 128.6h1.5M119.7 128.6h1.5M129.1 128.6h1.5M134.6 128.6h1.5M143.6 128.6h1.5M147.0 128.6h1.5M170.4 128.6h1.5M177.4 128.6h1.5M187.3 128.6h1.5M192.3 128.6h1.5M202.3 128.6h1.5M216.2 128.6h1.5M221.7 128.6h1.5M227.6 128.6h1.5M256.5 128.6h1.5M257.0 128.6h1.5M280.4 128.6h1.5M286.3 128.6h1.5M291.3 128.6h1.5M292.3 128.6h1.5M293.3 128.6h1.5M296.3 128.6h1.5M300.3 128.6h1.5M300.8 128.6h1.5M302.8 128.6h1.5M304.8 128.6h1.5M308.7 128.6h1.5M309.2 128.6h1.5M309.2 128.6h1.5M311.2 128.6h1.5M312.2 128.6h1.5M312.2 128.6h1.5M314.2 128.6h1.5M319.2 128.6h1.5M319.7 128.6h1.5M319.7 128.6h1.5M325.6 128.6h1.5M326.1 128.6h1.5M327.6 128.6h1.5M331.1 128.6h1.5M332.6 128.6h1.5M333.6 128.6h1.5M336.1 128.6h1.5M337.1 128.6h1.5M340.1 128.6h1.5M341.1 128.6h1.5M341.1 128.6h1.5M341.6 128.6h1.5M341.6 128.6h1.5M346.5 128.6h1.5M350.0 128.6h1.5M351.5 128.6h1.5M353.5 128.6h1.5M360.5 128.6h1.5M361.5 128.6h1.5M362.0 128.6h1.5M382.4 128.6h1.5M389.8 128.6h1.5M393.3 128.6h1.5M396.8 128.6h1.5M399.3 128.6h1.5M404.7 128.6h1.5M406.2 128.6h1.5M409.2 128.6h1.5M410.7 128.6h1.5M422.2 128.6h1.5M438.1 128.6h1.5M461.0 128.6h1.5M472.9 128.6h1.5M477.9 128.6h1.5M485.3 128.6h1.5M495.8 128.6h1.5M510.7 128.6h1.5M544.5 128.6h1.5M546.5 128.6h1.5M554.5 128.6h1.5M85.4 136.7h1.5M90.8 136.7h1.5M92.8 136.7h1.5M95.8 136.7h1.5M101.8 136.7h1.5M108.2 136.7h1.5M113.7 136.7h1.5M116.7 136.7h1.5M117.7 136.7h1.5M117.7 136.7h1.5M128.1 136.7h1.5M140.1 136.7h1.5M143.6 136.7h1.5M147.5 136.7h1.5M148.0 136.7h1.5M150.0 136.7h1.5M150.0 136.7h1.5M156.0 136.7h1.5M168.4 136.7h1.5M168.4 136.7h1.5M170.4 136.7h1.5M173.9 136.7h1.5M174.4 136.7h1.5M175.9 136.7h1.5M176.9 136.7h1.5M177.4 136.7h1.5M192.3 136.7h1.5M193.3 136.7h1.5M193.8 136.7h1.5M196.3 136.7h1.5M197.8 136.7h1.5M201.3 136.7h1.5M203.3 136.7h1.5M216.2 136.7h1.5M217.2 136.7h1.5M219.7 136.7h1.5M228.6 136.7h1.5M238.1 136.7h1.5M244.1 136.7h1.5M251.0 136.7h1.5M255.5 136.7h1.5M259.5 136.7h1.5M265.4 136.7h1.5M273.9 136.7h1.5M277.4 136.7h1.5M278.4 136.7h1.5M280.9 136.7h1.5M281.4 136.7h1.5M284.8 136.7h1.5M285.3 136.7h1.5M292.8 136.7h1.5M293.3 136.7h1.5M295.3 136.7h1.5M297.3 136.7h1.5M297.3 136.7h1.5M298.3 136.7h1.5M298.8 136.7h1.5M299.3 136.7h1.5M300.3 136.7h1.5M301.3 136.7h1.5M301.8 136.7h1.5M302.3 136.7h1.5M302.8 136.7h1.5M303.3 136.7h1.5M303.8 136.7h1.5M305.2 136.7h1.5M306.2 136.7h1.5M306.7 136.7h1.5M306.7 136.7h1.5M306.7 136.7h1.5M307.7 136.7h1.5M307.7 136.7h1.5M308.2 136.7h1.5M308.2 136.7h1.5M308.2 136.7h1.5M310.2 136.7h1.5M310.7 136.7h1.5M312.7 136.7h1.5M313.7 136.7h1.5M313.7 136.7h1.5M314.2 136.7h1.5M314.7 136.7h1.5M315.7 136.7h1.5M315.7 136.7h1.5M316.2 136.7h1.5M317.2 136.7h1.5M317.2 136.7h1.5M317.2 136.7h1.5M317.7 136.7h1.5M317.7 136.7h1.5M319.7 136.7h1.5M319.7 136.7h1.5M320.7 136.7h1.5M320.7 136.7h1.5M320.7 136.7h1.5M321.2 136.7h1.5M321.2 136.7h1.5M321.7 136.7h1.5M322.2 136.7h1.5M323.2 136.7h1.5M323.2 136.7h1.5M323.2 136.7h1.5M323.7 136.7h1.5M323.7 136.7h1.5M323.7 136.7h1.5M324.2 136.7h1.5M324.2 136.7h1.5M324.2 136.7h1.5M324.6 136.7h1.5M324.6 136.7h1.5M325.1 136.7h1.5M325.6 136.7h1.5M325.6 136.7h1.5M326.1 136.7h1.5M326.6 136.7h1.5M326.6 136.7h1.5M327.1 136.7h1.5M327.1 136.7h1.5M327.1 136.7h1.5M327.6 136.7h1.5M327.6 136.7h1.5M328.1 136.7h1.5M328.6 136.7h1.5M329.1 136.7h1.5M329.1 136.7h1.5M330.1 136.7h1.5M330.6 136.7h1.5M331.6 136.7h1.5M331.6 136.7h1.5M331.6 136.7h1.5M332.1 136.7h1.5M332.6 136.7h1.5M332.6 136.7h1.5M332.6 136.7h1.5M332.6 136.7h1.5M333.6 136.7h1.5M334.1 136.7h1.5M334.1 136.7h1.5M334.1 136.7h1.5M334.6 136.7h1.5M335.1 136.7h1.5M335.1 136.7h1.5M335.1 136.7h1.5M335.6 136.7h1.5M336.1 136.7h1.5M336.1 136.7h1.5M336.6 136.7h1.5M337.1 136.7h1.5M337.1 136.7h1.5M339.1 136.7h1.5M339.1 136.7h1.5M339.6 136.7h1.5M340.6 136.7h1.5M340.6 136.7h1.5M340.6 136.7h1.5M340.6 136.7h1.5M341.1 136.7h1.5M341.1 136.7h1.5M341.1 136.7h1.5M341.6 136.7h1.5M341.6 136.7h1.5M342.1 136.7h1.5M342.1 136.7h1.5M342.6 136.7h1.5M343.6 136.7h1.5M344.1 136.7h1.5M345.5 136.7h1.5M346.5 136.7h1.5M347.5 136.7h1.5M347.5 136.7h1.5M349.0 136.7h1.5M349.5 136.7h1.5M349.5 136.7h1.5M349.5 136.7h1.5M352.5 136.7h1.5M353.5 136.7h1.5M354.5 136.7h1.5M355.0 136.7h1.5M355.5 136.7h1.5M358.0 136.7h1.5M358.0 136.7h1.5M358.5 136.7h1.5M359.5 136.7h1.5M360.0 136.7h1.5M360.0 136.7h1.5M361.0 136.7h1.5M361.5 136.7h1.5M362.0 136.7h1.5M365.9 136.7h1.5M373.4 136.7h1.5M376.9 136.7h1.5M385.3 136.7h1.5M388.8 136.7h1.5M390.8 136.7h1.5M394.3 136.7h1.5M395.8 136.7h1.5M396.3 136.7h1.5M396.8 136.7h1.5M398.3 136.7h1.5M398.3 136.7h1.5M399.8 136.7h1.5M407.2 136.7h1.5M409.7 136.7h1.5M419.2 136.7h1.5M419.2 136.7h1.5M420.2 136.7h1.5M423.2 136.7h1.5M423.2 136.7h1.5M435.1 136.7h1.5M439.1 136.7h1.5M440.6 136.7h1.5M440.6 136.7h1.5M453.0 136.7h1.5M453.0 136.7h1.5M457.5 136.7h1.5M459.0 136.7h1.5M462.5 136.7h1.5M464.4 136.7h1.5M473.9 136.7h1.5M485.3 136.7h1.5M486.3 136.7h1.5M489.8 136.7h1.5M491.8 136.7h1.5M497.8 136.7h1.5M502.8 136.7h1.5M509.7 136.7h1.5M511.7 136.7h1.5M513.7 136.7h1.5M514.2 136.7h1.5M516.2 136.7h1.5M519.7 136.7h1.5M527.1 136.7h1.5M528.1 136.7h1.5M536.1 136.7h1.5M548.0 136.7h1.5M549.0 136.7h1.5M550.0 136.7h1.5M555.5 136.7h1.5M557.5 136.7h1.5M562.0 136.7h1.5M566.4 136.7h1.5M568.4 136.7h1.5M568.9 136.7h1.5M571.4 136.7h1.5M88.3 145.1h1.5M90.3 145.1h1.5M90.8 145.1h1.5M90.8 145.1h1.5M95.8 145.1h1.5M98.3 145.1h1.5M101.3 145.1h1.5M101.8 145.1h1.5M102.8 145.1h1.5M107.7 145.1h1.5M109.7 145.1h1.5M114.7 145.1h1.5M117.2 145.1h1.5M117.7 145.1h1.5M119.7 145.1h1.5M121.7 145.1h1.5M128.6 145.1h1.5M128.6 145.1h1.5M129.6 145.1h1.5M132.6 145.1h1.5M139.6 145.1h1.5M147.5 145.1h1.5M149.0 145.1h1.5M154.0 145.1h1.5M156.0 145.1h1.5M158.5 145.1h1.5M164.5 145.1h1.5M167.9 145.1h1.5M170.4 145.1h1.5M174.4 145.1h1.5M176.9 145.1h1.5M177.9 145.1h1.5M186.8 145.1h1.5M188.3 145.1h1.5M189.3 145.1h1.5M190.8 145.1h1.5M196.8 145.1h1.5M197.3 145.1h1.5M205.2 145.1h1.5M210.2 145.1h1.5M219.7 145.1h1.5M219.7 145.1h1.5M224.7 145.1h1.5M228.6 145.1h1.5M232.1 145.1h1.5M232.6 145.1h1.5M234.6 145.1h1.5M238.6 145.1h1.5M243.6 145.1h1.5M248.5 145.1h1.5M256.0 145.1h1.5M257.0 145.1h1.5M259.0 145.1h1.5M259.5 145.1h1.5M268.9 145.1h1.5M273.9 145.1h1.5M275.4 145.1h1.5M277.4 145.1h1.5M277.9 145.1h1.5M280.4 145.1h1.5M282.4 145.1h1.5M284.4 145.1h1.5M284.8 145.1h1.5M287.8 145.1h1.5M290.3 145.1h1.5M290.8 145.1h1.5M292.3 145.1h1.5M293.3 145.1h1.5M297.8 145.1h1.5M298.8 145.1h1.5M299.3 145.1h1.5M299.3 145.1h1.5M299.8 145.1h1.5M301.3 145.1h1.5M301.3 145.1h1.5M301.8 145.1h1.5M302.8 145.1h1.5M302.8 145.1h1.5M304.3 145.1h1.5M304.8 145.1h1.5M305.2 145.1h1.5M305.7 145.1h1.5M306.2 145.1h1.5M306.2 145.1h1.5M306.7 145.1h1.5M306.7 145.1h1.5M306.7 145.1h1.5M306.7 145.1h1.5M307.2 145.1h1.5M307.2 145.1h1.5M308.2 145.1h1.5M308.2 145.1h1.5M308.2 145.1h1.5M308.7 145.1h1.5M310.2 145.1h1.5M311.2 145.1h1.5M311.2 145.1h1.5M311.7 145.1h1.5M311.7 145.1h1.5M312.2 145.1h1.5M312.7 145.1h1.5M312.7 145.1h1.5M313.2 145.1h1.5M313.7 145.1h1.5M313.7 145.1h1.5M314.2 145.1h1.5M314.2 145.1h1.5M314.2 145.1h1.5M314.7 145.1h1.5M314.7 145.1h1.5M315.2 145.1h1.5M315.7 145.1h1.5M316.2 145.1h1.5M316.7 145.1h1.5M316.7 145.1h1.5M316.7 145.1h1.5M316.7 145.1h1.5M317.2 145.1h1.5M317.7 145.1h1.5M319.2 145.1h1.5M319.2 145.1h1.5M319.7 145.1h1.5M319.7 145.1h1.5M320.2 145.1h1.5M320.2 145.1h1.5M320.2 145.1h1.5M320.7 145.1h1.5M320.7 145.1h1.5M322.2 145.1h1.5M322.2 145.1h1.5M322.7 145.1h1.5M323.2 145.1h1.5M323.2 145.1h1.5M323.7 145.1h1.5M323.7 145.1h1.5M324.2 145.1h1.5M324.2 145.1h1.5M324.6 145.1h1.5M325.1 145.1h1.5M325.1 145.1h1.5M325.6 145.1h1.5M325.6 145.1h1.5M326.1 145.1h1.5M326.1 145.1h1.5M326.1 145.1h1.5M327.6 145.1h1.5M328.1 145.1h1.5M328.1 145.1h1.5M328.6 145.1h1.5M328.6 145.1h1.5M328.6 145.1h1.5M328.6 145.1h1.5M328.6 145.1h1.5M328.6 145.1h1.5M329.1 145.1h1.5M329.1 145.1h1.5M329.6 145.1h1.5M329.6 145.1h1.5M330.1 145.1h1.5M330.1 145.1h1.5M330.6 145.1h1.5M330.6 145.1h1.5M331.6 145.1h1.5M332.1 145.1h1.5M332.6 145.1h1.5M333.1 145.1h1.5M333.1 145.1h1.5M333.1 145.1h1.5M333.1 145.1h1.5M333.1 145.1h1.5M334.1 145.1h1.5M334.1 145.1h1.5M334.6 145.1h1.5M335.1 145.1h1.5M335.1 145.1h1.5M335.1 145.1h1.5M335.6 145.1h1.5M335.6 145.1h1.5M336.1 145.1h1.5M336.1 145.1h1.5M336.1 145.1h1.5M336.1 145.1h1.5M336.1 145.1h1.5M336.6 145.1h1.5M336.6 145.1h1.5M337.1 145.1h1.5M337.1 145.1h1.5M337.1 145.1h1.5M337.6 145.1h1.5M338.1 145.1h1.5M338.6 145.1h1.5M338.6 145.1h1.5M339.1 145.1h1.5M339.1 145.1h1.5M339.6 145.1h1.5M340.1 145.1h1.5M340.6 145.1h1.5M341.1 145.1h1.5M341.1 145.1h1.5M341.6 145.1h1.5M341.6 145.1h1.5M341.6 145.1h1.5M341.6 145.1h1.5M343.1 145.1h1.5M344.1 145.1h1.5M344.5 145.1h1.5M344.5 145.1h1.5M345.5 145.1h1.5M345.5 145.1h1.5M345.5 145.1h1.5M347.0 145.1h1.5M347.5 145.1h1.5M347.5 145.1h1.5M348.0 145.1h1.5M349.0 145.1h1.5M349.0 145.1h1.5M349.0 145.1h1.5M350.0 145.1h1.5M351.0 145.1h1.5M351.5 145.1h1.5M352.5 145.1h1.5M356.0 145.1h1.5M358.5 145.1h1.5M359.0 145.1h1.5M360.0 145.1h1.5M361.0 145.1h1.5M361.5 145.1h1.5M362.0 145.1h1.5M363.0 145.1h1.5M364.9 145.1h1.5M364.9 145.1h1.5M364.9 145.1h1.5M365.9 145.1h1.5M366.4 145.1h1.5M370.4 145.1h1.5M378.4 145.1h1.5M379.4 145.1h1.5M384.3 145.1h1.5M392.8 145.1h1.5M393.3 145.1h1.5M393.8 145.1h1.5M397.3 145.1h1.5M401.3 145.1h1.5M408.7 145.1h1.5M409.2 145.1h1.5M417.2 145.1h1.5M422.7 145.1h1.5M423.7 145.1h1.5M430.6 145.1h1.5M432.6 145.1h1.5M433.1 145.1h1.5M441.6 145.1h1.5M441.6 145.1h1.5M445.5 145.1h1.5M452.5 145.1h1.5M454.5 145.1h1.5M455.0 145.1h1.5M455.5 145.1h1.5M466.4 145.1h1.5M467.9 145.1h1.5M469.4 145.1h1.5M470.9 145.1h1.5M473.9 145.1h1.5M475.4 145.1h1.5M476.4 145.1h1.5M476.9 145.1h1.5M479.4 145.1h1.5M482.4 145.1h1.5M482.9 145.1h1.5M483.8 145.1h1.5M486.3 145.1h1.5M491.8 145.1h1.5M495.3 145.1h1.5M497.8 145.1h1.5M499.3 145.1h1.5M501.8 145.1h1.5M504.2 145.1h1.5M506.2 145.1h1.5M514.2 145.1h1.5M515.2 145.1h1.5M519.7 145.1h1.5M520.2 145.1h1.5M528.6 145.1h1.5M531.6 145.1h1.5M534.1 145.1h1.5M544.0 145.1h1.5M550.0 145.1h1.5M558.5 145.1h1.5M559.5 145.1h1.5M566.9 145.1h1.5M570.4 145.1h1.5M81.9 153.0h1.5M83.4 153.0h1.5M86.8 153.0h1.5M87.3 153.0h1.5M88.3 153.0h1.5M93.3 153.0h1.5M95.8 153.0h1.5M95.8 153.0h1.5M96.3 153.0h1.5M101.3 153.0h1.5M104.8 153.0h1.5M105.3 153.0h1.5M107.2 153.0h1.5M112.7 153.0h1.5M118.7 153.0h1.5M123.2 153.0h1.5M131.6 153.0h1.5M132.6 153.0h1.5M132.6 153.0h1.5M137.1 153.0h1.5M140.6 153.0h1.5M145.1 153.0h1.5M147.5 153.0h1.5M148.0 153.0h1.5M151.0 153.0h1.5M153.5 153.0h1.5M160.5 153.0h1.5M161.5 153.0h1.5M164.5 153.0h1.5M165.9 153.0h1.5M167.4 153.0h1.5M171.4 153.0h1.5M172.9 153.0h1.5M174.9 153.0h1.5M177.9 153.0h1.5M188.3 153.0h1.5M188.3 153.0h1.5M189.8 153.0h1.5M199.3 153.0h1.5M205.7 153.0h1.5M206.2 153.0h1.5M207.7 153.0h1.5M209.7 153.0h1.5M209.7 153.0h1.5M210.2 153.0h1.5M213.7 153.0h1.5M213.7 153.0h1.5M214.2 153.0h1.5M214.2 153.0h1.5M217.2 153.0h1.5M217.7 153.0h1.5M219.2 153.0h1.5M219.7 153.0h1.5M223.7 153.0h1.5M224.7 153.0h1.5M225.1 153.0h1.5M236.1 153.0h1.5M238.1 153.0h1.5M241.1 153.0h1.5M242.1 153.0h1.5M242.6 153.0h1.5M247.0 153.0h1.5M249.0 153.0h1.5M249.0 153.0h1.5M253.0 153.0h1.5M254.5 153.0h1.5M257.5 153.0h1.5M260.5 153.0h1.5M261.0 153.0h1.5M273.4 153.0h1.5M275.9 153.0h1.5M275.9 153.0h1.5M277.4 153.0h1.5M279.4 153.0h1.5M281.4 153.0h1.5M285.8 153.0h1.5M286.3 153.0h1.5M286.8 153.0h1.5M287.8 153.0h1.5M288.8 153.0h1.5M288.8 153.0h1.5M289.3 153.0h1.5M289.8 153.0h1.5M290.8 153.0h1.5M291.3 153.0h1.5M291.8 153.0h1.5M292.8 153.0h1.5M294.8 153.0h1.5M297.3 153.0h1.5M297.3 153.0h1.5M297.8 153.0h1.5M297.8 153.0h1.5M298.8 153.0h1.5M298.8 153.0h1.5M298.8 153.0h1.5M300.3 153.0h1.5M301.3 153.0h1.5M301.3 153.0h1.5M302.3 153.0h1.5M302.8 153.0h1.5M303.3 153.0h1.5M303.3 153.0h1.5M303.3 153.0h1.5M303.8 153.0h1.5M303.8 153.0h1.5M304.3 153.0h1.5M304.3 153.0h1.5M304.3 153.0h1.5M304.8 153.0h1.5M304.8 153.0h1.5M305.2 153.0h1.5M305.7 153.0h1.5M305.7 153.0h1.5M306.7 153.0h1.5M307.2 153.0h1.5M307.7 153.0h1.5M308.7 153.0h1.5M308.7 153.0h1.5M309.2 153.0h1.5M309.7 153.0h1.5M309.7 153.0h1.5M310.2 153.0h1.5M310.2 153.0h1.5M311.2 153.0h1.5M311.2 153.0h1.5M311.7 153.0h1.5M311.7 153.0h1.5M312.2 153.0h1.5M312.2 153.0h1.5M312.2 153.0h1.5M312.7 153.0h1.5M312.7 153.0h1.5M312.7 153.0h1.5M313.2 153.0h1.5M313.7 153.0h1.5M313.7 153.0h1.5M313.7 153.0h1.5M314.2 153.0h1.5M314.7 153.0h1.5M315.2 153.0h1.5M315.2 153.0h1.5M315.2 153.0h1.5M316.2 153.0h1.5M316.2 153.0h1.5M316.2 153.0h1.5M316.2 153.0h1.5M316.2 153.0h1.5M316.2 153.0h1.5M316.7 153.0h1.5M317.2 153.0h1.5M317.7 153.0h1.5M317.7 153.0h1.5M317.7 153.0h1.5M318.2 153.0h1.5M318.2 153.0h1.5M318.2 153.0h1.5M318.7 153.0h1.5M319.2 153.0h1.5M319.2 153.0h1.5M319.2 153.0h1.5M319.2 153.0h1.5M319.7 153.0h1.5M319.7 153.0h1.5M319.7 153.0h1.5M319.7 153.0h1.5M319.7 153.0h1.5M320.2 153.0h1.5M320.2 153.0h1.5M320.7 153.0h1.5M321.2 153.0h1.5M321.2 153.0h1.5M321.2 153.0h1.5M321.2 153.0h1.5M321.7 153.0h1.5M321.7 153.0h1.5M322.7 153.0h1.5M322.7 153.0h1.5M322.7 153.0h1.5M322.7 153.0h1.5M323.2 153.0h1.5M323.2 153.0h1.5M323.7 153.0h1.5M323.7 153.0h1.5M323.7 153.0h1.5M324.2 153.0h1.5M324.6 153.0h1.5M324.6 153.0h1.5M325.1 153.0h1.5M325.1 153.0h1.5M325.1 153.0h1.5M326.1 153.0h1.5M326.1 153.0h1.5M327.1 153.0h1.5M327.1 153.0h1.5M327.6 153.0h1.5M327.6 153.0h1.5M328.1 153.0h1.5M328.6 153.0h1.5M328.6 153.0h1.5M329.1 153.0h1.5M329.6 153.0h1.5M331.1 153.0h1.5M331.6 153.0h1.5M331.6 153.0h1.5M332.6 153.0h1.5M332.6 153.0h1.5M333.6 153.0h1.5M333.6 153.0h1.5M333.6 153.0h1.5M334.1 153.0h1.5M334.1 153.0h1.5M335.1 153.0h1.5M335.1 153.0h1.5M335.6 153.0h1.5M335.6 153.0h1.5M336.1 153.0h1.5M336.1 153.0h1.5M336.6 153.0h1.5M336.6 153.0h1.5M337.1 153.0h1.5M337.1 153.0h1.5M337.6 153.0h1.5M338.1 153.0h1.5M338.1 153.0h1.5M338.1 153.0h1.5M338.1 153.0h1.5M338.6 153.0h1.5M339.1 153.0h1.5M339.1 153.0h1.5M340.1 153.0h1.5M340.6 153.0h1.5M341.1 153.0h1.5M342.1 153.0h1.5M342.6 153.0h1.5M342.6 153.0h1.5M343.1 153.0h1.5M343.1 153.0h1.5M343.6 153.0h1.5M343.6 153.0h1.5M344.1 153.0h1.5M344.5 153.0h1.5M345.5 153.0h1.5M346.0 153.0h1.5M347.0 153.0h1.5M347.5 153.0h1.5M348.5 153.0h1.5M349.0 153.0h1.5M350.0 153.0h1.5M351.0 153.0h1.5M351.5 153.0h1.5M352.0 153.0h1.5M352.0 153.0h1.5M352.0 153.0h1.5M353.0 153.0h1.5M353.0 153.0h1.5M353.5 153.0h1.5M354.5 153.0h1.5M354.5 153.0h1.5M355.0 153.0h1.5M355.5 153.0h1.5M355.5 153.0h1.5M356.5 153.0h1.5M357.5 153.0h1.5M359.0 153.0h1.5M359.0 153.0h1.5M362.0 153.0h1.5M362.5 153.0h1.5M364.4 153.0h1.5M364.9 153.0h1.5M366.4 153.0h1.5M366.9 153.0h1.5M367.4 153.0h1.5M367.9 153.0h1.5M368.4 153.0h1.5M369.4 153.0h1.5M370.9 153.0h1.5M371.4 153.0h1.5M371.4 153.0h1.5M372.9 153.0h1.5M381.4 153.0h1.5M381.4 153.0h1.5M383.4 153.0h1.5M383.9 153.0h1.5M385.3 153.0h1.5M386.8 153.0h1.5M390.3 153.0h1.5M390.3 153.0h1.5M394.8 153.0h1.5M397.8 153.0h1.5M398.3 153.0h1.5M407.7 153.0h1.5M409.2 153.0h1.5M410.2 153.0h1.5M414.2 153.0h1.5M414.7 153.0h1.5M415.2 153.0h1.5M422.7 153.0h1.5M427.1 153.0h1.5M427.6 153.0h1.5M428.1 153.0h1.5M428.1 153.0h1.5M433.6 153.0h1.5M436.1 153.0h1.5M442.6 153.0h1.5M445.0 153.0h1.5M456.0 153.0h1.5M458.5 153.0h1.5M461.0 153.0h1.5M461.0 153.0h1.5M462.5 153.0h1.5M464.4 153.0h1.5M465.9 153.0h1.5M474.9 153.0h1.5M475.9 153.0h1.5M477.4 153.0h1.5M479.4 153.0h1.5M480.4 153.0h1.5M481.4 153.0h1.5M485.3 153.0h1.5M487.8 153.0h1.5M488.3 153.0h1.5M490.3 153.0h1.5M490.3 153.0h1.5M493.8 153.0h1.5M495.3 153.0h1.5M497.8 153.0h1.5M506.7 153.0h1.5M513.7 153.0h1.5M515.7 153.0h1.5M516.2 153.0h1.5M520.2 153.0h1.5M524.1 153.0h1.5M524.6 153.0h1.5M525.6 153.0h1.5M525.6 153.0h1.5M528.6 153.0h1.5M531.1 153.0h1.5M532.6 153.0h1.5M532.6 153.0h1.5M534.1 153.0h1.5M535.6 153.0h1.5M547.0 153.0h1.5M549.0 153.0h1.5M549.0 153.0h1.5M551.0 153.0h1.5M556.5 153.0h1.5M561.0 153.0h1.5M563.5 153.0h1.5M571.4 153.0h1.5M85.4 161.2h1.5M92.8 161.2h1.5M93.3 161.2h1.5M94.3 161.2h1.5M95.8 161.2h1.5M96.8 161.2h1.5M122.7 161.2h1.5M124.7 161.2h1.5M124.7 161.2h1.5M126.1 161.2h1.5M130.6 161.2h1.5M144.1 161.2h1.5M151.5 161.2h1.5M157.5 161.2h1.5M160.0 161.2h1.5M168.4 161.2h1.5M177.9 161.2h1.5M181.4 161.2h1.5M181.9 161.2h1.5M184.9 161.2h1.5M185.3 161.2h1.5M238.1 161.2h1.5M239.1 161.2h1.5M240.6 161.2h1.5M245.5 161.2h1.5M253.0 161.2h1.5M265.4 161.2h1.5M268.9 161.2h1.5M270.9 161.2h1.5M271.9 161.2h1.5M282.4 161.2h1.5M297.8 161.2h1.5M297.8 161.2h1.5M299.3 161.2h1.5M301.3 161.2h1.5M304.8 161.2h1.5M305.2 161.2h1.5M305.7 161.2h1.5M307.2 161.2h1.5M308.2 161.2h1.5M308.2 161.2h1.5M308.7 161.2h1.5M311.7 161.2h1.5M312.2 161.2h1.5M313.2 161.2h1.5M314.7 161.2h1.5M316.7 161.2h1.5M317.2 161.2h1.5M318.7 161.2h1.5M322.2 161.2h1.5M322.7 161.2h1.5M324.6 161.2h1.5M325.1 161.2h1.5M327.1 161.2h1.5M327.1 161.2h1.5M328.1 161.2h1.5M329.1 161.2h1.5M330.1 161.2h1.5M331.1 161.2h1.5M332.6 161.2h1.5M332.6 161.2h1.5M332.6 161.2h1.5M334.1 161.2h1.5M335.1 161.2h1.5M337.1 161.2h1.5M337.1 161.2h1.5M338.1 161.2h1.5M339.6 161.2h1.5M346.0 161.2h1.5M348.0 161.2h1.5M348.5 161.2h1.5M349.0 161.2h1.5M349.0 161.2h1.5M350.0 161.2h1.5M350.0 161.2h1.5M351.0 161.2h1.5M352.0 161.2h1.5M352.5 161.2h1.5M367.4 161.2h1.5M367.4 161.2h1.5M370.4 161.2h1.5M371.4 161.2h1.5M372.9 161.2h1.5M374.4 161.2h1.5M389.3 161.2h1.5M397.3 161.2h1.5M399.8 161.2h1.5M401.8 161.2h1.5M406.7 161.2h1.5M408.2 161.2h1.5M410.7 161.2h1.5M419.2 161.2h1.5M430.1 161.2h1.5M438.6 161.2h1.5M439.1 161.2h1.5M439.6 161.2h1.5M440.1 161.2h1.5M441.6 161.2h1.5M441.6 161.2h1.5M445.5 161.2h1.5M456.0 161.2h1.5M465.9 161.2h1.5M480.9 161.2h1.5M484.8 161.2h1.5M495.8 161.2h1.5M499.8 161.2h1.5M501.3 161.2h1.5M503.3 161.2h1.5M511.2 161.2h1.5M514.2 161.2h1.5M521.2 161.2h1.5M549.0 161.2h1.5M564.9 161.2h1.5M79.9 163.0h1.5M83.4 163.0h1.5M104.3 163.0h1.5M106.7 163.0h1.5M122.2 163.0h1.5M126.1 163.0h1.5M153.0 163.0h1.5M154.5 163.0h1.5M168.9 163.0h1.5M172.9 163.0h1.5M174.4 163.0h1.5M182.4 163.0h1.5M184.4 163.0h1.5M191.8 163.0h1.5M194.3 163.0h1.5M205.7 163.0h1.5M214.2 163.0h1.5M215.7 163.0h1.5M231.1 163.0h1.5M259.0 163.0h1.5M262.0 163.0h1.5M263.0 163.0h1.5M274.4 163.0h1.5M276.4 163.0h1.5M285.8 163.0h1.5M293.3 163.0h1.5M296.8 163.0h1.5M302.8 163.0h1.5M308.7 163.0h1.5M309.7 163.0h1.5M310.2 163.0h1.5M311.2 163.0h1.5M314.2 163.0h1.5M316.7 163.0h1.5M317.2 163.0h1.5M317.2 163.0h1.5M318.2 163.0h1.5M320.2 163.0h1.5M321.7 163.0h1.5M322.2 163.0h1.5M322.7 163.0h1.5M323.2 163.0h1.5M323.2 163.0h1.5M325.1 163.0h1.5M327.6 163.0h1.5M336.6 163.0h1.5M338.6 163.0h1.5M343.6 163.0h1.5M343.6 163.0h1.5M346.0 163.0h1.5M347.0 163.0h1.5M349.0 163.0h1.5M369.9 163.0h1.5M373.9 163.0h1.5M376.4 163.0h1.5M386.8 163.0h1.5M402.3 163.0h1.5M403.8 163.0h1.5M420.2 163.0h1.5M444.5 163.0h1.5M454.5 163.0h1.5M466.9 163.0h1.5M478.4 163.0h1.5M480.9 163.0h1.5M486.3 163.0h1.5M486.8 163.0h1.5M491.8 163.0h1.5M502.3 163.0h1.5M507.2 163.0h1.5M510.7 163.0h1.5M527.6 163.0h1.5M534.1 163.0h1.5M534.6 163.0h1.5M545.0 163.0h1.5M556.0 163.0h1.5M568.4 163.0h1.5M570.4 163.0h1.5M88.8 171.3h1.5M115.7 171.3h1.5M115.7 171.3h1.5M134.1 171.3h1.5M146.5 171.3h1.5M169.4 171.3h1.5M192.3 171.3h1.5M232.6 171.3h1.5M242.1 171.3h1.5M242.6 171.3h1.5M243.1 171.3h1.5M249.0 171.3h1.5M252.5 171.3h1.5M264.9 171.3h1.5M283.4 171.3h1.5M287.8 171.3h1.5M289.8 171.3h1.5M297.8 171.3h1.5M299.8 171.3h1.5M301.3 171.3h1.5M305.2 171.3h1.5M305.7 171.3h1.5M306.7 171.3h1.5M307.2 171.3h1.5M307.7 171.3h1.5M307.7 171.3h1.5M309.2 171.3h1.5M311.7 171.3h1.5M312.2 171.3h1.5M313.2 171.3h1.5M313.7 171.3h1.5M314.2 171.3h1.5M315.2 171.3h1.5M315.7 171.3h1.5M316.2 171.3h1.5M318.2 171.3h1.5M318.7 171.3h1.5M318.7 171.3h1.5M319.2 171.3h1.5M322.2 171.3h1.5M322.7 171.3h1.5M323.7 171.3h1.5M324.2 171.3h1.5M324.2 171.3h1.5M324.6 171.3h1.5M325.1 171.3h1.5M325.1 171.3h1.5M325.6 171.3h1.5M327.1 171.3h1.5M327.6 171.3h1.5M327.6 171.3h1.5M328.1 171.3h1.5M333.1 171.3h1.5M333.6 171.3h1.5M335.6 171.3h1.5M336.6 171.3h1.5M337.6 171.3h1.5M338.1 171.3h1.5M338.1 171.3h1.5M338.1 171.3h1.5M339.1 171.3h1.5M339.6 171.3h1.5M343.6 171.3h1.5M345.5 171.3h1.5M346.0 171.3h1.5M349.5 171.3h1.5M352.0 171.3h1.5M354.0 171.3h1.5M356.0 171.3h1.5M360.0 171.3h1.5M364.4 171.3h1.5M368.9 171.3h1.5M369.9 171.3h1.5M398.8 171.3h1.5M411.2 171.3h1.5M439.1 171.3h1.5M446.0 171.3h1.5M471.4 171.3h1.5M542.6 171.3h1.5M550.5 171.3h1.5M84.4 173.4h1.5M92.8 173.4h1.5M94.8 173.4h1.5M108.2 173.4h1.5M125.6 173.4h1.5M128.1 173.4h1.5M156.5 173.4h1.5M162.0 173.4h1.5M174.4 173.4h1.5M181.9 173.4h1.5M192.3 173.4h1.5M202.8 173.4h1.5M203.3 173.4h1.5M205.2 173.4h1.5M213.2 173.4h1.5M221.2 173.4h1.5M227.6 173.4h1.5M232.1 173.4h1.5M233.1 173.4h1.5M238.6 173.4h1.5M240.1 173.4h1.5M240.6 173.4h1.5M251.5 173.4h1.5M253.5 173.4h1.5M257.0 173.4h1.5M267.4 173.4h1.5M276.4 173.4h1.5M283.9 173.4h1.5M284.8 173.4h1.5M289.8 173.4h1.5M293.8 173.4h1.5M295.8 173.4h1.5M296.8 173.4h1.5M308.7 173.4h1.5M309.7 173.4h1.5M309.7 173.4h1.5M310.7 173.4h1.5M311.2 173.4h1.5M313.7 173.4h1.5M317.2 173.4h1.5M318.7 173.4h1.5M318.7 173.4h1.5M319.7 173.4h1.5M322.7 173.4h1.5M322.7 173.4h1.5M324.6 173.4h1.5M325.1 173.4h1.5M330.6 173.4h1.5M332.1 173.4h1.5M332.6 173.4h1.5M335.6 173.4h1.5M336.6 173.4h1.5M338.1 173.4h1.5M338.6 173.4h1.5M344.1 173.4h1.5M344.5 173.4h1.5M346.0 173.4h1.5M347.5 173.4h1.5M349.0 173.4h1.5M364.0 173.4h1.5M366.9 173.4h1.5M376.4 173.4h1.5M390.8 173.4h1.5M395.3 173.4h1.5M403.3 173.4h1.5M405.2 173.4h1.5M420.2 173.4h1.5M426.1 173.4h1.5M434.1 173.4h1.5M444.0 173.4h1.5M444.0 173.4h1.5M445.5 173.4h1.5M453.5 173.4h1.5M475.4 173.4h1.5M488.8 173.4h1.5M497.8 173.4h1.5M506.2 173.4h1.5M516.2 173.4h1.5M524.1 173.4h1.5M524.1 173.4h1.5M526.6 173.4h1.5M529.6 173.4h1.5M546.5 173.4h1.5M551.5 173.4h1.5M555.0 173.4h1.5M558.5 173.4h1.5M563.5 173.4h1.5M563.9 173.4h1.5M564.4 173.4h1.5M567.4 173.4h1.5M568.9 173.4h1.5M104.3 175.4h1.5M106.2 175.4h1.5M111.7 175.4h1.5M114.7 175.4h1.5M114.7 175.4h1.5M120.2 175.4h1.5M124.7 175.4h1.5M127.1 175.4h1.5M141.1 175.4h1.5M151.0 175.4h1.5M174.9 175.4h1.5M175.9 175.4h1.5M185.8 175.4h1.5M193.3 175.4h1.5M195.8 175.4h1.5M207.7 175.4h1.5M221.7 175.4h1.5M223.2 175.4h1.5M253.0 175.4h1.5M276.4 175.4h1.5M284.8 175.4h1.5M285.8 175.4h1.5M289.8 175.4h1.5M292.8 175.4h1.5M298.3 175.4h1.5M298.8 175.4h1.5M314.2 175.4h1.5M315.7 175.4h1.5M316.7 175.4h1.5M317.7 175.4h1.5M320.2 175.4h1.5M321.7 175.4h1.5M329.1 175.4h1.5M330.1 175.4h1.5M331.6 175.4h1.5M333.1 175.4h1.5M341.1 175.4h1.5M344.5 175.4h1.5M346.0 175.4h1.5M348.0 175.4h1.5M349.5 175.4h1.5M356.5 175.4h1.5M361.5 175.4h1.5M374.4 175.4h1.5M397.8 175.4h1.5M400.8 175.4h1.5M442.1 175.4h1.5M444.0 175.4h1.5M447.5 175.4h1.5M450.0 175.4h1.5M482.4 175.4h1.5M503.3 175.4h1.5M505.2 175.4h1.5M513.2 175.4h1.5M560.5 175.4h1.5M83.4 177.4h1.5M95.3 177.4h1.5M95.3 177.4h1.5M101.8 177.4h1.5M107.2 177.4h1.5M111.7 177.4h1.5M119.2 177.4h1.5M119.7 177.4h1.5M122.7 177.4h1.5M125.2 177.4h1.5M141.6 177.4h1.5M163.0 177.4h1.5M165.0 177.4h1.5M167.9 177.4h1.5M173.4 177.4h1.5M181.9 177.4h1.5M181.9 177.4h1.5M184.9 177.4h1.5M187.3 177.4h1.5M191.3 177.4h1.5M212.7 177.4h1.5M257.0 177.4h1.5M261.5 177.4h1.5M266.9 177.4h1.5M283.4 177.4h1.5M288.8 177.4h1.5M295.8 177.4h1.5M300.8 177.4h1.5M303.3 177.4h1.5M303.8 177.4h1.5M309.7 177.4h1.5M310.2 177.4h1.5M310.2 177.4h1.5M315.2 177.4h1.5M315.2 177.4h1.5M315.2 177.4h1.5M316.2 177.4h1.5M316.7 177.4h1.5M319.2 177.4h1.5M319.2 177.4h1.5M324.6 177.4h1.5M327.1 177.4h1.5M327.6 177.4h1.5M329.1 177.4h1.5M335.1 177.4h1.5M335.6 177.4h1.5M338.6 177.4h1.5M340.6 177.4h1.5M342.6 177.4h1.5M347.5 177.4h1.5M359.0 177.4h1.5M359.5 177.4h1.5M360.0 177.4h1.5M361.0 177.4h1.5M366.9 177.4h1.5M373.4 177.4h1.5M377.9 177.4h1.5M396.8 177.4h1.5M400.8 177.4h1.5M401.8 177.4h1.5M414.7 177.4h1.5M461.5 177.4h1.5M486.8 177.4h1.5M489.3 177.4h1.5M498.3 177.4h1.5M505.7 177.4h1.5M514.2 177.4h1.5M78.9 179.5h1.5M80.9 179.5h1.5M82.4 179.5h1.5M82.9 179.5h1.5M84.4 179.5h1.5M87.8 179.5h1.5M91.8 179.5h1.5M92.3 179.5h1.5M95.8 179.5h1.5M112.2 179.5h1.5M113.7 179.5h1.5M119.7 179.5h1.5M120.7 179.5h1.5M128.6 179.5h1.5M131.1 179.5h1.5M136.1 179.5h1.5M146.5 179.5h1.5M155.0 179.5h1.5M162.5 179.5h1.5M168.9 179.5h1.5M179.9 179.5h1.5M184.9 179.5h1.5M185.8 179.5h1.5M186.3 179.5h1.5M189.8 179.5h1.5M192.8 179.5h1.5M193.3 179.5h1.5M207.7 179.5h1.5M218.2 179.5h1.5M220.2 179.5h1.5M228.6 179.5h1.5M234.6 179.5h1.5M235.6 179.5h1.5M238.6 179.5h1.5M250.5 179.5h1.5M255.0 179.5h1.5M257.5 179.5h1.5M264.5 179.5h1.5M271.9 179.5h1.5M280.4 179.5h1.5M289.3 179.5h1.5M301.8 179.5h1.5M305.7 179.5h1.5M307.7 179.5h1.5M310.2 179.5h1.5M315.2 179.5h1.5M316.7 179.5h1.5M318.2 179.5h1.5M318.2 179.5h1.5M322.2 179.5h1.5M323.7 179.5h1.5M324.2 179.5h1.5M327.1 179.5h1.5M329.1 179.5h1.5M330.1 179.5h1.5M333.6 179.5h1.5M334.6 179.5h1.5M338.1 179.5h1.5M341.1 179.5h1.5M342.6 179.5h1.5M344.1 179.5h1.5M347.5 179.5h1.5M349.0 179.5h1.5M356.0 179.5h1.5M363.5 179.5h1.5M369.4 179.5h1.5M373.9 179.5h1.5M378.4 179.5h1.5M384.8 179.5h1.5M387.8 179.5h1.5M399.3 179.5h1.5M405.2 179.5h1.5M405.7 179.5h1.5M410.2 179.5h1.5M413.7 179.5h1.5M426.6 179.5h1.5M433.1 179.5h1.5M448.5 179.5h1.5M477.4 179.5h1.5M479.4 179.5h1.5M501.8 179.5h1.5M507.7 179.5h1.5M511.7 179.5h1.5M517.7 179.5h1.5M520.2 179.5h1.5M526.6 179.5h1.5M528.1 179.5h1.5M529.1 179.5h1.5M543.1 179.5h1.5M551.0 179.5h1.5M552.5 179.5h1.5M560.5 179.5h1.5M567.9 179.5h1.5M100.8 181.5h1.5M112.7 181.5h1.5M157.5 181.5h1.5M178.9 181.5h1.5M180.4 181.5h1.5M181.9 181.5h1.5M224.7 181.5h1.5M239.6 181.5h1.5M246.5 181.5h1.5M248.0 181.5h1.5M273.4 181.5h1.5M276.4 181.5h1.5M311.2 181.5h1.5M323.7 181.5h1.5M329.6 181.5h1.5M333.1 181.5h1.5M335.1 181.5h1.5M349.5 181.5h1.5M374.4 181.5h1.5M374.4 181.5h1.5M379.4 181.5h1.5M387.3 181.5h1.5M393.8 181.5h1.5M429.6 181.5h1.5M449.0 181.5h1.5M461.5 181.5h1.5M470.4 181.5h1.5M472.4 181.5h1.5M508.2 181.5h1.5M530.6 181.5h1.5M531.6 181.5h1.5M559.5 181.5h1.5M91.3 183.6h1.5M134.1 183.6h1.5M138.6 183.6h1.5M180.9 183.6h1.5M212.2 183.6h1.5M214.2 183.6h1.5M267.4 183.6h1.5M270.9 183.6h1.5M283.9 183.6h1.5M293.8 183.6h1.5M296.3 183.6h1.5M296.3 183.6h1.5M297.3 183.6h1.5M299.8 183.6h1.5M300.8 183.6h1.5M302.3 183.6h1.5M302.8 183.6h1.5M303.8 183.6h1.5M304.3 183.6h1.5M305.2 183.6h1.5M311.7 183.6h1.5M313.7 183.6h1.5M314.2 183.6h1.5M314.2 183.6h1.5M314.7 183.6h1.5M315.2 183.6h1.5M316.7 183.6h1.5M317.2 183.6h1.5M318.7 183.6h1.5M322.2 183.6h1.5M326.6 183.6h1.5M326.6 183.6h1.5M327.6 183.6h1.5M327.6 183.6h1.5M327.6 183.6h1.5M329.1 183.6h1.5M330.6 183.6h1.5M331.1 183.6h1.5M334.6 183.6h1.5M334.6 183.6h1.5M335.6 183.6h1.5M342.1 183.6h1.5M343.1 183.6h1.5M343.1 183.6h1.5M345.0 183.6h1.5M346.0 183.6h1.5M348.0 183.6h1.5M351.0 183.6h1.5M351.5 183.6h1.5M352.0 183.6h1.5M354.0 183.6h1.5M361.5 183.6h1.5M404.2 183.6h1.5M415.2 183.6h1.5M466.9 183.6h1.5M472.9 183.6h1.5M486.8 183.6h1.5M496.8 183.6h1.5M512.2 183.6h1.5M523.6 183.6h1.5M556.5 183.6h1.5M562.0 183.6h1.5M570.9 183.6h1.5M571.4 183.6h1.5M88.3 185.6h1.5M112.7 185.6h1.5M136.6 185.6h1.5M137.6 185.6h1.5M143.6 185.6h1.5M147.0 185.6h1.5M159.5 185.6h1.5M164.5 185.6h1.5M185.8 185.6h1.5M186.3 185.6h1.5M190.3 185.6h1.5M193.3 185.6h1.5M208.2 185.6h1.5M209.7 185.6h1.5M228.6 185.6h1.5M272.4 185.6h1.5M276.9 185.6h1.5M277.4 185.6h1.5M286.3 185.6h1.5M302.8 185.6h1.5M303.3 185.6h1.5M306.2 185.6h1.5M308.2 185.6h1.5M310.2 185.6h1.5M317.7 185.6h1.5M317.7 185.6h1.5M318.7 185.6h1.5M323.2 185.6h1.5M323.7 185.6h1.5M325.6 185.6h1.5M326.6 185.6h1.5M333.6 185.6h1.5M334.1 185.6h1.5M335.1 185.6h1.5M336.6 185.6h1.5M337.1 185.6h1.5M339.6 185.6h1.5M343.6 185.6h1.5M343.6 185.6h1.5M349.5 185.6h1.5M350.0 185.6h1.5M362.0 185.6h1.5M379.9 185.6h1.5M388.3 185.6h1.5M390.8 185.6h1.5M410.7 185.6h1.5M416.7 185.6h1.5M431.1 185.6h1.5M433.1 185.6h1.5M483.4 185.6h1.5M490.3 185.6h1.5M509.2 185.6h1.5M518.2 185.6h1.5M519.7 185.6h1.5M527.1 185.6h1.5M547.0 185.6h1.5M566.9 185.6h1.5M567.4 185.6h1.5M568.4 185.6h1.5M161.5 187.6h1.5M167.4 187.6h1.5M177.4 187.6h1.5M187.8 187.6h1.5M192.8 187.6h1.5M216.7 187.6h1.5M224.7 187.6h1.5M252.5 187.6h1.5M285.3 187.6h1.5M295.8 187.6h1.5M299.3 187.6h1.5M300.3 187.6h1.5M302.8 187.6h1.5M309.7 187.6h1.5M311.2 187.6h1.5M311.7 187.6h1.5M313.7 187.6h1.5M316.2 187.6h1.5M317.7 187.6h1.5M325.6 187.6h1.5M326.6 187.6h1.5M326.6 187.6h1.5M332.1 187.6h1.5M332.1 187.6h1.5M333.1 187.6h1.5M338.1 187.6h1.5M339.1 187.6h1.5M342.1 187.6h1.5M345.0 187.6h1.5M348.5 187.6h1.5M350.0 187.6h1.5M352.0 187.6h1.5M353.5 187.6h1.5M369.4 187.6h1.5M436.1 187.6h1.5M444.0 187.6h1.5M450.5 187.6h1.5M452.5 187.6h1.5M453.5 187.6h1.5M465.4 187.6h1.5M502.8 187.6h1.5M523.6 187.6h1.5M533.6 187.6h1.5M543.1 187.6h1.5M553.5 187.6h1.5M557.5 187.6h1.5M569.4 187.6h1.5M81.4 189.7h1.5M81.4 189.7h1.5M82.9 189.7h1.5M84.4 189.7h1.5M85.8 189.7h1.5M89.8 189.7h1.5M90.3 189.7h1.5M95.8 189.7h1.5M101.3 189.7h1.5M104.8 189.7h1.5M111.7 189.7h1.5M125.2 189.7h1.5M135.1 189.7h1.5M137.1 189.7h1.5M139.6 189.7h1.5M147.0 189.7h1.5M150.0 189.7h1.5M150.0 189.7h1.5M150.0 189.7h1.5M150.0 189.7h1.5M156.5 189.7h1.5M157.0 189.7h1.5M164.0 189.7h1.5M165.0 189.7h1.5M165.9 189.7h1.5M165.9 189.7h1.5M167.9 189.7h1.5M169.9 189.7h1.5M169.9 189.7h1.5M170.4 189.7h1.5M173.4 189.7h1.5M179.4 189.7h1.5M183.9 189.7h1.5M188.3 189.7h1.5M190.3 189.7h1.5M190.3 189.7h1.5M190.8 189.7h1.5M199.8 189.7h1.5M200.3 189.7h1.5M204.3 189.7h1.5M204.8 189.7h1.5M209.2 189.7h1.5M222.2 189.7h1.5M228.6 189.7h1.5M230.1 189.7h1.5M236.6 189.7h1.5M237.1 189.7h1.5M237.6 189.7h1.5M245.5 189.7h1.5M245.5 189.7h1.5M257.5 189.7h1.5M260.5 189.7h1.5M263.0 189.7h1.5M263.5 189.7h1.5M264.5 189.7h1.5M264.9 189.7h1.5M266.9 189.7h1.5M271.9 189.7h1.5M272.9 189.7h1.5M272.9 189.7h1.5M278.4 189.7h1.5M283.4 189.7h1.5M284.4 189.7h1.5M284.8 189.7h1.5M285.8 189.7h1.5M285.8 189.7h1.5M295.8 189.7h1.5M296.3 189.7h1.5M306.2 189.7h1.5M306.7 189.7h1.5M306.7 189.7h1.5M311.7 189.7h1.5M312.2 189.7h1.5M314.7 189.7h1.5M315.7 189.7h1.5M318.2 189.7h1.5M318.7 189.7h1.5M320.7 189.7h1.5M324.6 189.7h1.5M324.6 189.7h1.5M325.6 189.7h1.5M327.1 189.7h1.5M330.1 189.7h1.5M331.1 189.7h1.5M331.6 189.7h1.5M332.6 189.7h1.5M337.6 189.7h1.5M340.6 189.7h1.5M342.6 189.7h1.5M344.1 189.7h1.5M345.0 189.7h1.5M345.5 189.7h1.5M346.0 189.7h1.5M346.5 189.7h1.5M347.5 189.7h1.5M349.5 189.7h1.5M350.5 189.7h1.5M352.0 189.7h1.5M354.5 189.7h1.5M359.0 189.7h1.5M360.5 189.7h1.5M360.5 189.7h1.5M362.0 189.7h1.5M385.3 189.7h1.5M391.3 189.7h1.5M395.8 189.7h1.5M406.7 189.7h1.5M407.7 189.7h1.5M409.7 189.7h1.5M418.2 189.7h1.5M423.2 189.7h1.5M423.7 189.7h1.5M425.6 189.7h1.5M429.1 189.7h1.5M430.1 189.7h1.5M431.6 189.7h1.5M432.1 189.7h1.5M432.1 189.7h1.5M440.1 189.7h1.5M445.0 189.7h1.5M449.5 189.7h1.5M450.5 189.7h1.5M451.5 189.7h1.5M455.5 189.7h1.5M456.0 189.7h1.5M464.9 189.7h1.5M469.9 189.7h1.5M472.9 189.7h1.5M476.4 189.7h1.5M492.8 189.7h1.5M506.7 189.7h1.5M509.7 189.7h1.5M513.2 189.7h1.5M516.7 189.7h1.5M518.2 189.7h1.5M526.1 189.7h1.5M527.6 189.7h1.5M530.1 189.7h1.5M532.6 189.7h1.5M540.1 189.7h1.5M549.0 189.7h1.5M560.5 189.7h1.5M561.5 189.7h1.5M563.5 189.7h1.5M563.9 189.7h1.5M566.9 189.7h1.5M568.9 189.7h1.5M96.8 191.7h1.5M109.2 191.7h1.5M115.7 191.7h1.5M127.6 191.7h1.5M130.6 191.7h1.5M172.4 191.7h1.5M229.6 191.7h1.5M261.5 191.7h1.5M323.7 191.7h1.5M328.6 191.7h1.5M329.1 191.7h1.5M331.6 191.7h1.5M341.6 191.7h1.5M350.0 191.7h1.5M396.3 191.7h1.5M466.9 191.7h1.5M476.9 191.7h1.5M509.2 191.7h1.5M566.4 191.7h1.5M567.4 191.7h1.5M79.4 193.7h1.5M79.9 193.7h1.5M82.9 193.7h1.5M83.4 193.7h1.5M83.9 193.7h1.5M96.3 193.7h1.5M97.8 193.7h1.5M101.3 193.7h1.5M107.2 193.7h1.5M112.2 193.7h1.5M114.7 193.7h1.5M118.2 193.7h1.5M124.2 193.7h1.5M126.1 193.7h1.5M128.1 193.7h1.5M139.1 193.7h1.5M142.6 193.7h1.5M146.5 193.7h1.5M149.0 193.7h1.5M150.0 193.7h1.5M151.0 193.7h1.5M151.0 193.7h1.5M151.5 193.7h1.5M160.0 193.7h1.5M164.0 193.7h1.5M164.5 193.7h1.5M165.4 193.7h1.5M166.4 193.7h1.5M167.4 193.7h1.5M187.3 193.7h1.5M188.8 193.7h1.5M199.8 193.7h1.5M201.8 193.7h1.5M204.8 193.7h1.5M205.7 193.7h1.5M206.2 193.7h1.5M219.7 193.7h1.5M223.7 193.7h1.5M227.1 193.7h1.5M231.1 193.7h1.5M235.1 193.7h1.5M244.1 193.7h1.5M251.0 193.7h1.5M253.5 193.7h1.5M254.0 193.7h1.5M254.5 193.7h1.5M254.5 193.7h1.5M257.0 193.7h1.5M259.0 193.7h1.5M263.5 193.7h1.5M264.5 193.7h1.5M278.9 193.7h1.5M292.3 193.7h1.5M292.8 193.7h1.5M293.3 193.7h1.5M295.3 193.7h1.5M299.3 193.7h1.5M301.3 193.7h1.5M301.8 193.7h1.5M302.3 193.7h1.5M303.8 193.7h1.5M305.2 193.7h1.5M306.2 193.7h1.5M306.7 193.7h1.5M311.7 193.7h1.5M316.7 193.7h1.5M317.7 193.7h1.5M319.7 193.7h1.5M320.2 193.7h1.5M322.2 193.7h1.5M322.7 193.7h1.5M322.7 193.7h1.5M328.1 193.7h1.5M330.6 193.7h1.5M331.1 193.7h1.5M332.1 193.7h1.5M332.1 193.7h1.5M333.1 193.7h1.5M333.6 193.7h1.5M336.1 193.7h1.5M340.1 193.7h1.5M345.0 193.7h1.5M345.0 193.7h1.5M346.5 193.7h1.5M347.5 193.7h1.5M350.0 193.7h1.5M350.5 193.7h1.5M351.0 193.7h1.5M353.0 193.7h1.5M353.5 193.7h1.5M354.5 193.7h1.5M358.0 193.7h1.5M367.9 193.7h1.5M369.9 193.7h1.5M371.4 193.7h1.5M372.9 193.7h1.5M374.4 193.7h1.5M385.3 193.7h1.5M392.3 193.7h1.5M392.8 193.7h1.5M407.7 193.7h1.5M425.6 193.7h1.5M425.6 193.7h1.5M430.1 193.7h1.5M430.6 193.7h1.5M431.1 193.7h1.5M433.6 193.7h1.5M433.6 193.7h1.5M441.6 193.7h1.5M443.6 193.7h1.5M444.0 193.7h1.5M445.0 193.7h1.5M446.0 193.7h1.5M446.5 193.7h1.5M452.0 193.7h1.5M453.0 193.7h1.5M455.5 193.7h1.5M459.0 193.7h1.5M460.0 193.7h1.5M460.5 193.7h1.5M466.4 193.7h1.5M468.9 193.7h1.5M473.9 193.7h1.5M481.9 193.7h1.5M485.8 193.7h1.5M492.8 193.7h1.5M494.3 193.7h1.5M495.8 193.7h1.5M496.8 193.7h1.5M496.8 193.7h1.5M496.8 193.7h1.5M497.3 193.7h1.5M497.8 193.7h1.5M503.3 193.7h1.5M509.2 193.7h1.5M516.2 193.7h1.5M517.2 193.7h1.5M517.7 193.7h1.5M525.6 193.7h1.5M532.6 193.7h1.5M535.1 193.7h1.5M535.1 193.7h1.5M535.6 193.7h1.5M537.6 193.7h1.5M539.6 193.7h1.5M545.5 193.7h1.5M547.5 193.7h1.5M548.0 193.7h1.5M548.0 193.7h1.5M552.0 193.7h1.5M553.5 193.7h1.5M562.0 193.7h1.5M564.4 193.7h1.5M566.9 193.7h1.5M570.9 193.7h1.5M571.9 193.7h1.5M79.9 195.8h1.5M80.4 195.8h1.5M81.9 195.8h1.5M83.9 195.8h1.5M85.8 195.8h1.5M94.3 195.8h1.5M112.2 195.8h1.5M120.2 195.8h1.5M137.1 195.8h1.5M137.6 195.8h1.5M139.1 195.8h1.5M145.1 195.8h1.5M145.5 195.8h1.5M167.9 195.8h1.5M176.4 195.8h1.5M176.9 195.8h1.5M188.8 195.8h1.5M188.8 195.8h1.5M194.8 195.8h1.5M216.2 195.8h1.5M230.6 195.8h1.5M235.6 195.8h1.5M238.6 195.8h1.5M240.6 195.8h1.5M273.9 195.8h1.5M276.4 195.8h1.5M283.4 195.8h1.5M289.8 195.8h1.5M292.3 195.8h1.5M301.3 195.8h1.5M303.3 195.8h1.5M304.3 195.8h1.5M304.3 195.8h1.5M305.7 195.8h1.5M307.7 195.8h1.5M310.7 195.8h1.5M312.7 195.8h1.5M313.2 195.8h1.5M313.2 195.8h1.5M315.2 195.8h1.5M316.2 195.8h1.5M317.7 195.8h1.5M319.7 195.8h1.5M320.2 195.8h1.5M323.2 195.8h1.5M323.2 195.8h1.5M323.7 195.8h1.5M325.6 195.8h1.5M325.6 195.8h1.5M327.1 195.8h1.5M329.1 195.8h1.5M330.1 195.8h1.5M330.1 195.8h1.5M332.6 195.8h1.5M332.6 195.8h1.5M333.1 195.8h1.5M333.6 195.8h1.5M335.6 195.8h1.5M337.1 195.8h1.5M337.1 195.8h1.5M341.6 195.8h1.5M346.5 195.8h1.5M349.0 195.8h1.5M355.0 195.8h1.5M363.0 195.8h1.5M374.4 195.8h1.5M388.3 195.8h1.5M396.8 195.8h1.5M407.2 195.8h1.5M414.2 195.8h1.5M414.7 195.8h1.5M416.2 195.8h1.5M432.6 195.8h1.5M439.6 195.8h1.5M457.0 195.8h1.5M457.5 195.8h1.5M458.0 195.8h1.5M467.9 195.8h1.5M470.9 195.8h1.5M477.9 195.8h1.5M483.4 195.8h1.5M488.3 195.8h1.5M496.8 195.8h1.5M497.8 195.8h1.5M524.6 195.8h1.5M524.6 195.8h1.5M526.1 195.8h1.5M544.5 195.8h1.5M545.0 195.8h1.5M554.5 195.8h1.5M563.0 195.8h1.5M563.9 195.8h1.5M567.4 195.8h1.5M95.3 197.8h1.5M95.8 197.8h1.5M103.3 197.8h1.5M104.8 197.8h1.5M109.2 197.8h1.5M112.7 197.8h1.5M130.1 197.8h1.5M131.1 197.8h1.5M131.6 197.8h1.5M142.6 197.8h1.5M174.9 197.8h1.5M184.9 197.8h1.5M186.3 197.8h1.5M191.8 197.8h1.5M205.7 197.8h1.5M208.7 197.8h1.5M212.7 197.8h1.5M215.7 197.8h1.5M249.5 197.8h1.5M251.0 197.8h1.5M256.0 197.8h1.5M262.0 197.8h1.5M264.5 197.8h1.5M270.4 197.8h1.5M270.9 197.8h1.5M273.4 197.8h1.5M273.9 197.8h1.5M280.9 197.8h1.5M287.3 197.8h1.5M293.3 197.8h1.5M303.3 197.8h1.5M305.2 197.8h1.5M305.7 197.8h1.5M308.2 197.8h1.5M308.7 197.8h1.5M309.2 197.8h1.5M317.2 197.8h1.5M322.2 197.8h1.5M323.2 197.8h1.5M324.6 197.8h1.5M326.1 197.8h1.5M330.1 197.8h1.5M332.6 197.8h1.5M333.6 197.8h1.5M335.1 197.8h1.5M335.1 197.8h1.5M335.6 197.8h1.5M340.1 197.8h1.5M341.6 197.8h1.5M342.1 197.8h1.5M346.5 197.8h1.5M348.5 197.8h1.5M355.0 197.8h1.5M357.0 197.8h1.5M359.5 197.8h1.5M372.9 197.8h1.5M375.4 197.8h1.5M376.4 197.8h1.5M381.9 197.8h1.5M382.9 197.8h1.5M384.8 197.8h1.5M388.3 197.8h1.5M389.3 197.8h1.5M394.8 197.8h1.5M397.3 197.8h1.5M405.7 197.8h1.5M407.7 197.8h1.5M414.2 197.8h1.5M430.6 197.8h1.5M431.1 197.8h1.5M433.1 197.8h1.5M460.0 197.8h1.5M470.4 197.8h1.5M473.4 197.8h1.5M481.4 197.8h1.5M496.8 197.8h1.5M499.8 197.8h1.5M503.8 197.8h1.5M505.7 197.8h1.5M518.2 197.8h1.5M522.7 197.8h1.5M522.7 197.8h1.5M551.0 197.8h1.5M553.0 197.8h1.5M553.0 197.8h1.5M559.0 197.8h1.5M559.0 197.8h1.5M560.0 197.8h1.5M82.9 199.8h1.5M84.9 199.8h1.5M89.3 199.8h1.5M89.8 199.8h1.5M92.3 199.8h1.5M107.2 199.8h1.5M111.7 199.8h1.5M111.7 199.8h1.5M121.2 199.8h1.5M125.2 199.8h1.5M145.5 199.8h1.5M148.0 199.8h1.5M162.5 199.8h1.5M165.0 199.8h1.5M174.9 199.8h1.5M205.7 199.8h1.5M211.7 199.8h1.5M232.1 199.8h1.5M232.6 199.8h1.5M234.1 199.8h1.5M245.5 199.8h1.5M278.9 199.8h1.5M279.4 199.8h1.5M280.4 199.8h1.5M289.3 199.8h1.5M297.8 199.8h1.5M301.3 199.8h1.5M301.8 199.8h1.5M308.2 199.8h1.5M310.2 199.8h1.5M312.7 199.8h1.5M313.2 199.8h1.5M315.2 199.8h1.5M315.7 199.8h1.5M318.7 199.8h1.5M322.2 199.8h1.5M325.1 199.8h1.5M330.6 199.8h1.5M332.6 199.8h1.5M333.1 199.8h1.5M334.1 199.8h1.5M337.6 199.8h1.5M339.1 199.8h1.5M342.6 199.8h1.5M343.6 199.8h1.5M344.5 199.8h1.5M344.5 199.8h1.5M348.0 199.8h1.5M349.5 199.8h1.5M358.0 199.8h1.5M359.5 199.8h1.5M363.5 199.8h1.5M364.4 199.8h1.5M368.4 199.8h1.5M371.4 199.8h1.5M374.9 199.8h1.5M382.9 199.8h1.5M390.8 199.8h1.5M401.8 199.8h1.5M404.2 199.8h1.5M409.7 199.8h1.5M422.2 199.8h1.5M432.6 199.8h1.5M436.1 199.8h1.5M439.6 199.8h1.5M441.6 199.8h1.5M444.5 199.8h1.5M488.8 199.8h1.5M488.8 199.8h1.5M523.2 199.8h1.5M529.6 199.8h1.5M534.6 199.8h1.5M535.6 199.8h1.5M550.5 199.8h1.5M555.5 199.8h1.5M559.0 199.8h1.5M559.0 199.8h1.5M566.9 199.8h1.5M78.4 201.9h1.5M78.9 201.9h1.5M81.9 201.9h1.5M83.4 201.9h1.5M83.4 201.9h1.5M87.8 201.9h1.5M96.8 201.9h1.5M98.3 201.9h1.5M101.8 201.9h1.5M103.8 201.9h1.5M111.2 201.9h1.5M111.2 201.9h1.5M113.7 201.9h1.5M114.2 201.9h1.5M121.2 201.9h1.5M124.7 201.9h1.5M128.1 201.9h1.5M138.6 201.9h1.5M141.6 201.9h1.5M142.1 201.9h1.5M152.0 201.9h1.5M158.5 201.9h1.5M160.0 201.9h1.5M160.5 201.9h1.5M163.0 201.9h1.5M163.5 201.9h1.5M169.4 201.9h1.5M172.4 201.9h1.5M173.9 201.9h1.5M174.9 201.9h1.5M175.9 201.9h1.5M177.9 201.9h1.5M178.4 201.9h1.5M179.9 201.9h1.5M180.9 201.9h1.5M189.3 201.9h1.5M197.3 201.9h1.5M197.8 201.9h1.5M198.8 201.9h1.5M203.3 201.9h1.5M203.8 201.9h1.5M206.2 201.9h1.5M207.7 201.9h1.5M208.7 201.9h1.5M216.2 201.9h1.5M216.7 201.9h1.5M222.7 201.9h1.5M225.1 201.9h1.5M227.6 201.9h1.5M230.1 201.9h1.5M232.1 201.9h1.5M233.1 201.9h1.5M234.1 201.9h1.5M237.6 201.9h1.5M239.1 201.9h1.5M242.6 201.9h1.5M243.1 201.9h1.5M243.6 201.9h1.5M244.6 201.9h1.5M245.0 201.9h1.5M248.0 201.9h1.5M251.5 201.9h1.5M257.5 201.9h1.5M264.9 201.9h1.5M268.4 201.9h1.5M277.4 201.9h1.5M280.4 201.9h1.5M287.8 201.9h1.5M291.8 201.9h1.5M292.3 201.9h1.5M294.8 201.9h1.5M294.8 201.9h1.5M298.8 201.9h1.5M301.8 201.9h1.5M302.3 201.9h1.5M302.8 201.9h1.5M303.3 201.9h1.5M305.2 201.9h1.5M311.7 201.9h1.5M311.7 201.9h1.5M312.7 201.9h1.5M313.2 201.9h1.5M315.7 201.9h1.5M315.7 201.9h1.5M316.2 201.9h1.5M318.7 201.9h1.5M319.7 201.9h1.5M320.7 201.9h1.5M321.2 201.9h1.5M321.7 201.9h1.5M322.2 201.9h1.5M323.2 201.9h1.5M323.2 201.9h1.5M323.7 201.9h1.5M325.6 201.9h1.5M326.6 201.9h1.5M326.6 201.9h1.5M327.6 201.9h1.5M328.1 201.9h1.5M331.1 201.9h1.5M331.6 201.9h1.5M332.1 201.9h1.5M332.6 201.9h1.5M332.6 201.9h1.5M335.6 201.9h1.5M338.1 201.9h1.5M339.1 201.9h1.5M340.1 201.9h1.5M340.6 201.9h1.5M341.6 201.9h1.5M344.5 201.9h1.5M347.5 201.9h1.5M350.5 201.9h1.5M355.5 201.9h1.5M356.5 201.9h1.5M357.5 201.9h1.5M358.5 201.9h1.5M358.5 201.9h1.5M358.5 201.9h1.5M359.0 201.9h1.5M363.0 201.9h1.5M364.4 201.9h1.5M365.9 201.9h1.5M367.9 201.9h1.5M376.9 201.9h1.5M377.4 201.9h1.5M382.9 201.9h1.5M382.9 201.9h1.5M385.8 201.9h1.5M396.8 201.9h1.5M397.3 201.9h1.5M397.3 201.9h1.5M399.3 201.9h1.5M401.3 201.9h1.5M403.8 201.9h1.5M405.2 201.9h1.5M406.7 201.9h1.5M418.2 201.9h1.5M419.7 201.9h1.5M420.2 201.9h1.5M421.7 201.9h1.5M422.2 201.9h1.5M433.6 201.9h1.5M434.1 201.9h1.5M435.6 201.9h1.5M436.6 201.9h1.5M442.1 201.9h1.5M448.0 201.9h1.5M454.0 201.9h1.5M460.0 201.9h1.5M463.5 201.9h1.5M465.4 201.9h1.5M466.4 201.9h1.5M469.9 201.9h1.5M475.4 201.9h1.5M476.9 201.9h1.5M483.8 201.9h1.5M489.3 201.9h1.5M504.2 201.9h1.5M504.2 201.9h1.5M528.6 201.9h1.5M530.1 201.9h1.5M531.6 201.9h1.5M533.6 201.9h1.5M534.1 201.9h1.5M545.0 201.9h1.5M550.0 201.9h1.5M552.0 201.9h1.5M558.0 201.9h1.5M558.5 201.9h1.5M559.0 201.9h1.5M80.4 203.9h1.5M82.9 203.9h1.5M87.8 203.9h1.5M94.3 203.9h1.5M102.3 203.9h1.5M121.7 203.9h1.5M131.6 203.9h1.5M147.5 203.9h1.5M150.5 203.9h1.5M150.5 203.9h1.5M152.0 203.9h1.5M154.5 203.9h1.5M157.5 203.9h1.5M167.9 203.9h1.5M170.4 203.9h1.5M170.9 203.9h1.5M174.4 203.9h1.5M190.8 203.9h1.5M192.3 203.9h1.5M196.8 203.9h1.5M204.8 203.9h1.5M207.2 203.9h1.5M219.2 203.9h1.5M223.7 203.9h1.5M231.1 203.9h1.5M238.6 203.9h1.5M242.6 203.9h1.5M243.1 203.9h1.5M254.0 203.9h1.5M255.0 203.9h1.5M262.5 203.9h1.5M271.4 203.9h1.5M271.4 203.9h1.5M280.4 203.9h1.5M283.4 203.9h1.5M291.3 203.9h1.5M293.8 203.9h1.5M294.8 203.9h1.5M298.8 203.9h1.5M304.8 203.9h1.5M307.2 203.9h1.5M312.2 203.9h1.5M314.2 203.9h1.5M319.2 203.9h1.5M319.7 203.9h1.5M327.6 203.9h1.5M327.6 203.9h1.5M328.1 203.9h1.5M328.1 203.9h1.5M328.6 203.9h1.5M328.6 203.9h1.5M329.1 203.9h1.5M330.1 203.9h1.5M332.1 203.9h1.5M332.1 203.9h1.5M338.1 203.9h1.5M342.1 203.9h1.5M349.5 203.9h1.5M350.5 203.9h1.5M358.0 203.9h1.5M374.9 203.9h1.5M374.9 203.9h1.5M379.9 203.9h1.5M382.4 203.9h1.5M384.3 203.9h1.5M389.8 203.9h1.5M390.3 203.9h1.5M392.3 203.9h1.5M396.3 203.9h1.5M407.2 203.9h1.5M407.7 203.9h1.5M409.2 203.9h1.5M411.7 203.9h1.5M426.1 203.9h1.5M426.1 203.9h1.5M436.1 203.9h1.5M436.1 203.9h1.5M439.1 203.9h1.5M447.5 203.9h1.5M458.5 203.9h1.5M469.4 203.9h1.5M476.4 203.9h1.5M493.8 203.9h1.5M498.8 203.9h1.5M501.3 203.9h1.5M504.2 203.9h1.5M516.7 203.9h1.5M516.7 203.9h1.5M526.1 203.9h1.5M534.6 203.9h1.5M550.0 203.9h1.5M555.0 203.9h1.5M560.0 203.9h1.5M562.5 203.9h1.5M82.4 205.9h1.5M84.9 205.9h1.5M87.3 205.9h1.5M90.3 205.9h1.5M101.3 205.9h1.5M102.8 205.9h1.5M103.8 205.9h1.5M110.7 205.9h1.5M116.2 205.9h1.5M119.7 205.9h1.5M121.7 205.9h1.5M122.7 205.9h1.5M125.6 205.9h1.5M126.6 205.9h1.5M128.1 205.9h1.5M129.1 205.9h1.5M143.6 205.9h1.5M153.0 205.9h1.5M169.4 205.9h1.5M181.4 205.9h1.5M182.4 205.9h1.5M213.7 205.9h1.5M215.2 205.9h1.5M217.2 205.9h1.5M229.6 205.9h1.5M236.1 205.9h1.5M236.6 205.9h1.5M238.1 205.9h1.5M240.6 205.9h1.5M246.5 205.9h1.5M249.5 205.9h1.5M262.0 205.9h1.5M267.4 205.9h1.5M267.4 205.9h1.5M268.4 205.9h1.5M271.4 205.9h1.5M285.3 205.9h1.5M286.3 205.9h1.5M296.8 205.9h1.5M302.3 205.9h1.5M303.8 205.9h1.5M305.2 205.9h1.5M307.2 205.9h1.5M310.2 205.9h1.5M310.7 205.9h1.5M313.2 205.9h1.5M314.7 205.9h1.5M314.7 205.9h1.5M319.7 205.9h1.5M324.2 205.9h1.5M325.1 205.9h1.5M328.1 205.9h1.5M335.1 205.9h1.5M335.1 205.9h1.5M336.6 205.9h1.5M339.1 205.9h1.5M342.1 205.9h1.5M342.1 205.9h1.5M345.5 205.9h1.5M346.0 205.9h1.5M358.5 205.9h1.5M358.5 205.9h1.5M363.0 205.9h1.5M364.4 205.9h1.5M372.9 205.9h1.5M377.9 205.9h1.5M380.4 205.9h1.5M381.9 205.9h1.5M391.3 205.9h1.5M406.7 205.9h1.5M410.7 205.9h1.5M432.1 205.9h1.5M456.5 205.9h1.5M464.4 205.9h1.5M476.4 205.9h1.5M477.4 205.9h1.5M477.9 205.9h1.5M483.8 205.9h1.5M488.3 205.9h1.5M518.7 205.9h1.5M526.1 205.9h1.5M531.1 205.9h1.5M534.6 205.9h1.5M535.1 205.9h1.5M543.5 205.9h1.5M548.0 205.9h1.5M560.5 205.9h1.5M81.9 208.0h1.5M98.3 208.0h1.5M142.1 208.0h1.5M235.1 208.0h1.5M242.1 208.0h1.5M293.3 208.0h1.5M303.8 208.0h1.5M311.7 208.0h1.5M326.1 208.0h1.5M328.6 208.0h1.5M443.1 208.0h1.5M562.0 208.0h1.5M82.4 210.0h1.5M111.7 210.0h1.5M125.6 210.0h1.5M161.5 210.0h1.5M171.4 210.0h1.5M214.7 210.0h1.5M216.2 210.0h1.5M224.7 210.0h1.5M226.6 210.0h1.5M274.9 210.0h1.5M290.3 210.0h1.5M296.8 210.0h1.5M301.3 210.0h1.5M303.3 210.0h1.5M304.3 210.0h1.5M304.3 210.0h1.5M305.2 210.0h1.5M308.7 210.0h1.5M309.7 210.0h1.5M317.2 210.0h1.5M321.7 210.0h1.5M325.6 210.0h1.5M325.6 210.0h1.5M327.6 210.0h1.5M328.6 210.0h1.5M333.6 210.0h1.5M334.6 210.0h1.5M335.1 210.0h1.5M336.6 210.0h1.5M339.1 210.0h1.5M339.6 210.0h1.5M343.1 210.0h1.5M343.1 210.0h1.5M347.0 210.0h1.5M352.5 210.0h1.5M353.0 210.0h1.5M354.0 210.0h1.5M355.5 210.0h1.5M356.0 210.0h1.5M360.0 210.0h1.5M364.9 210.0h1.5M368.4 210.0h1.5M373.4 210.0h1.5M407.7 210.0h1.5M418.2 210.0h1.5M421.7 210.0h1.5M429.6 210.0h1.5M439.1 210.0h1.5M454.5 210.0h1.5M469.9 210.0h1.5M484.8 210.0h1.5M500.3 210.0h1.5M501.8 210.0h1.5M516.7 210.0h1.5M520.7 210.0h1.5M549.0 210.0h1.5M552.5 210.0h1.5M562.0 210.0h1.5M81.9 212.1h1.5M83.4 212.1h1.5M83.9 212.1h1.5M140.1 212.1h1.5M142.6 212.1h1.5M197.8 212.1h1.5M220.2 212.1h1.5M223.2 212.1h1.5M228.1 212.1h1.5M243.6 212.1h1.5M262.0 212.1h1.5M272.9 212.1h1.5M286.3 212.1h1.5M298.8 212.1h1.5M298.8 212.1h1.5M304.8 212.1h1.5M305.2 212.1h1.5M307.2 212.1h1.5M310.2 212.1h1.5M312.7 212.1h1.5M313.2 212.1h1.5M313.7 212.1h1.5M313.7 212.1h1.5M315.7 212.1h1.5M324.6 212.1h1.5M325.1 212.1h1.5M326.6 212.1h1.5M328.1 212.1h1.5M328.1 212.1h1.5M337.6 212.1h1.5M338.6 212.1h1.5M339.6 212.1h1.5M340.1 212.1h1.5M341.6 212.1h1.5M345.0 212.1h1.5M347.0 212.1h1.5M348.5 212.1h1.5M364.4 212.1h1.5M368.9 212.1h1.5M376.4 212.1h1.5M392.8 212.1h1.5M393.3 212.1h1.5M406.7 212.1h1.5M407.7 212.1h1.5M422.7 212.1h1.5M442.1 212.1h1.5M470.9 212.1h1.5M477.9 212.1h1.5M482.4 212.1h1.5M488.3 212.1h1.5M565.9 212.1h1.5M78.9 214.1h1.5M79.9 214.1h1.5M81.9 214.1h1.5M82.9 214.1h1.5M87.8 214.1h1.5M92.8 214.1h1.5M99.8 214.1h1.5M106.7 214.1h1.5M110.7 214.1h1.5M112.2 214.1h1.5M120.2 214.1h1.5M120.7 214.1h1.5M121.2 214.1h1.5M130.1 214.1h1.5M136.6 214.1h1.5M155.0 214.1h1.5M159.5 214.1h1.5M160.5 214.1h1.5M166.9 214.1h1.5M169.9 214.1h1.5M170.9 214.1h1.5M177.4 214.1h1.5M177.4 214.1h1.5M184.9 214.1h1.5M185.3 214.1h1.5M189.8 214.1h1.5M191.8 214.1h1.5M193.8 214.1h1.5M197.8 214.1h1.5M203.3 214.1h1.5M210.7 214.1h1.5M212.2 214.1h1.5M215.7 214.1h1.5M224.7 214.1h1.5M225.6 214.1h1.5M235.1 214.1h1.5M239.6 214.1h1.5M243.6 214.1h1.5M246.5 214.1h1.5M255.0 214.1h1.5M257.5 214.1h1.5M263.0 214.1h1.5M271.4 214.1h1.5M282.9 214.1h1.5M283.9 214.1h1.5M283.9 214.1h1.5M294.8 214.1h1.5M297.3 214.1h1.5M297.3 214.1h1.5M299.3 214.1h1.5M299.8 214.1h1.5M300.3 214.1h1.5M300.8 214.1h1.5M306.2 214.1h1.5M308.7 214.1h1.5M314.7 214.1h1.5M315.7 214.1h1.5M316.7 214.1h1.5M319.7 214.1h1.5M324.6 214.1h1.5M326.6 214.1h1.5M326.6 214.1h1.5M327.1 214.1h1.5M329.1 214.1h1.5M335.1 214.1h1.5M335.1 214.1h1.5M335.6 214.1h1.5M339.1 214.1h1.5M351.0 214.1h1.5M354.5 214.1h1.5M358.0 214.1h1.5M358.0 214.1h1.5M362.0 214.1h1.5M373.4 214.1h1.5M376.9 214.1h1.5M379.9 214.1h1.5M383.9 214.1h1.5M386.8 214.1h1.5M387.8 214.1h1.5M406.7 214.1h1.5M408.7 214.1h1.5M415.2 214.1h1.5M421.7 214.1h1.5M422.7 214.1h1.5M428.1 214.1h1.5M428.6 214.1h1.5M429.6 214.1h1.5M430.1 214.1h1.5M431.1 214.1h1.5M432.6 214.1h1.5M433.1 214.1h1.5M437.1 214.1h1.5M439.6 214.1h1.5M454.0 214.1h1.5M457.5 214.1h1.5M463.0 214.1h1.5M470.4 214.1h1.5M476.4 214.1h1.5M482.4 214.1h1.5M490.3 214.1h1.5M494.8 214.1h1.5M501.8 214.1h1.5M518.2 214.1h1.5M527.1 214.1h1.5M528.1 214.1h1.5M534.1 214.1h1.5M534.6 214.1h1.5M535.6 214.1h1.5M536.6 214.1h1.5M542.6 214.1h1.5M542.6 214.1h1.5M542.6 214.1h1.5M543.5 214.1h1.5M548.5 214.1h1.5M549.5 214.1h1.5M553.5 214.1h1.5M555.5 214.1h1.5M560.5 214.1h1.5M561.5 214.1h1.5M562.0 214.1h1.5M564.4 214.1h1.5M568.9 214.1h1.5M83.9 216.1h1.5M90.8 216.1h1.5M94.8 216.1h1.5M96.3 216.1h1.5M104.3 216.1h1.5M107.2 216.1h1.5M112.7 216.1h1.5M135.6 216.1h1.5M142.1 216.1h1.5M145.5 216.1h1.5M153.0 216.1h1.5M154.5 216.1h1.5M158.0 216.1h1.5M162.0 216.1h1.5M170.4 216.1h1.5M174.9 216.1h1.5M176.4 216.1h1.5M185.3 216.1h1.5M189.8 216.1h1.5M203.3 216.1h1.5M204.3 216.1h1.5M208.2 216.1h1.5M208.2 216.1h1.5M208.2 216.1h1.5M213.2 216.1h1.5M218.7 216.1h1.5M225.1 216.1h1.5M230.1 216.1h1.5M230.6 216.1h1.5M244.6 216.1h1.5M247.0 216.1h1.5M254.0 216.1h1.5M261.0 216.1h1.5M273.9 216.1h1.5M284.4 216.1h1.5M285.3 216.1h1.5M288.3 216.1h1.5M299.3 216.1h1.5M300.8 216.1h1.5M301.3 216.1h1.5M301.3 216.1h1.5M306.7 216.1h1.5M306.7 216.1h1.5M310.2 216.1h1.5M310.2 216.1h1.5M310.7 216.1h1.5M312.2 216.1h1.5M314.2 216.1h1.5M314.7 216.1h1.5M317.7 216.1h1.5M322.7 216.1h1.5M323.7 216.1h1.5M325.1 216.1h1.5M326.6 216.1h1.5M328.1 216.1h1.5M332.6 216.1h1.5M334.1 216.1h1.5M335.1 216.1h1.5M335.6 216.1h1.5M338.6 216.1h1.5M339.6 216.1h1.5M340.6 216.1h1.5M341.1 216.1h1.5M351.5 216.1h1.5M352.5 216.1h1.5M353.0 216.1h1.5M360.0 216.1h1.5M363.5 216.1h1.5M364.0 216.1h1.5M364.9 216.1h1.5M368.9 216.1h1.5M368.9 216.1h1.5M373.4 216.1h1.5M383.4 216.1h1.5M385.3 216.1h1.5M386.3 216.1h1.5M388.3 216.1h1.5M391.3 216.1h1.5M395.8 216.1h1.5M399.3 216.1h1.5M399.8 216.1h1.5M405.7 216.1h1.5M408.7 216.1h1.5M409.7 216.1h1.5M411.7 216.1h1.5M415.7 216.1h1.5M417.7 216.1h1.5M421.7 216.1h1.5M430.1 216.1h1.5M430.6 216.1h1.5M435.1 216.1h1.5M441.1 216.1h1.5M449.5 216.1h1.5M450.5 216.1h1.5M466.4 216.1h1.5M470.9 216.1h1.5M473.9 216.1h1.5M478.9 216.1h1.5M483.8 216.1h1.5M485.8 216.1h1.5M491.3 216.1h1.5M492.8 216.1h1.5M493.3 216.1h1.5M493.3 216.1h1.5M496.8 216.1h1.5M502.8 216.1h1.5M503.3 216.1h1.5M504.2 216.1h1.5M504.2 216.1h1.5M504.7 216.1h1.5M512.7 216.1h1.5M512.7 216.1h1.5M516.2 216.1h1.5M516.2 216.1h1.5M523.6 216.1h1.5M525.6 216.1h1.5M528.6 216.1h1.5M539.1 216.1h1.5M547.0 216.1h1.5M554.5 216.1h1.5M554.5 216.1h1.5M558.5 216.1h1.5M558.5 216.1h1.5M567.4 216.1h1.5M568.9 216.1h1.5M102.8 218.2h1.5M111.7 218.2h1.5M115.2 218.2h1.5M145.5 218.2h1.5M159.5 218.2h1.5M185.8 218.2h1.5M187.8 218.2h1.5M247.5 218.2h1.5M293.3 218.2h1.5M293.8 218.2h1.5M294.8 218.2h1.5M296.3 218.2h1.5M304.3 218.2h1.5M304.3 218.2h1.5M305.2 218.2h1.5M312.2 218.2h1.5M313.7 218.2h1.5M321.7 218.2h1.5M322.2 218.2h1.5M326.6 218.2h1.5M329.1 218.2h1.5M332.6 218.2h1.5M335.1 218.2h1.5M337.1 218.2h1.5M352.5 218.2h1.5M353.0 218.2h1.5M355.5 218.2h1.5M359.5 218.2h1.5M365.4 218.2h1.5M385.3 218.2h1.5M407.7 218.2h1.5M412.7 218.2h1.5M494.8 218.2h1.5M547.5 218.2h1.5M562.5 218.2h1.5M84.9 220.2h1.5M86.3 220.2h1.5M89.8 220.2h1.5M92.3 220.2h1.5M95.3 220.2h1.5M101.8 220.2h1.5M102.3 220.2h1.5M109.2 220.2h1.5M116.7 220.2h1.5M128.6 220.2h1.5M129.1 220.2h1.5M132.6 220.2h1.5M133.1 220.2h1.5M133.6 220.2h1.5M134.1 220.2h1.5M141.6 220.2h1.5M141.6 220.2h1.5M142.1 220.2h1.5M148.5 220.2h1.5M158.0 220.2h1.5M163.5 220.2h1.5M164.0 220.2h1.5M179.4 220.2h1.5M181.9 220.2h1.5M182.4 220.2h1.5M184.9 220.2h1.5M185.3 220.2h1.5M186.8 220.2h1.5M188.3 220.2h1.5M190.3 220.2h1.5M198.8 220.2h1.5M198.8 220.2h1.5M211.7 220.2h1.5M219.7 220.2h1.5M221.2 220.2h1.5M221.2 220.2h1.5M222.2 220.2h1.5M223.7 220.2h1.5M227.1 220.2h1.5M229.1 220.2h1.5M234.6 220.2h1.5M252.5 220.2h1.5M255.5 220.2h1.5M257.0 220.2h1.5M263.5 220.2h1.5M279.9 220.2h1.5M287.8 220.2h1.5M303.3 220.2h1.5M304.8 220.2h1.5M306.7 220.2h1.5M307.2 220.2h1.5M307.7 220.2h1.5M308.7 220.2h1.5M309.2 220.2h1.5M310.2 220.2h1.5M311.2 220.2h1.5M314.2 220.2h1.5M322.2 220.2h1.5M324.6 220.2h1.5M325.6 220.2h1.5M329.6 220.2h1.5M332.6 220.2h1.5M333.1 220.2h1.5M333.6 220.2h1.5M338.1 220.2h1.5M339.6 220.2h1.5M342.6 220.2h1.5M345.0 220.2h1.5M349.5 220.2h1.5M352.0 220.2h1.5M360.0 220.2h1.5M378.4 220.2h1.5M398.8 220.2h1.5M427.6 220.2h1.5M430.1 220.2h1.5M433.1 220.2h1.5M436.1 220.2h1.5M447.5 220.2h1.5M458.5 220.2h1.5M465.9 220.2h1.5M470.4 220.2h1.5M480.4 220.2h1.5M480.4 220.2h1.5M488.8 220.2h1.5M489.8 220.2h1.5M498.8 220.2h1.5M502.3 220.2h1.5M506.7 220.2h1.5M507.7 220.2h1.5M508.2 220.2h1.5M518.7 220.2h1.5M527.6 220.2h1.5M559.5 220.2h1.5M560.0 220.2h1.5M563.0 220.2h1.5M81.4 222.2h1.5M91.8 222.2h1.5M98.3 222.2h1.5M123.7 222.2h1.5M137.6 222.2h1.5M162.5 222.2h1.5M165.9 222.2h1.5M173.4 222.2h1.5M175.4 222.2h1.5M190.8 222.2h1.5M213.7 222.2h1.5M220.2 222.2h1.5M250.0 222.2h1.5M276.4 222.2h1.5M304.3 222.2h1.5M306.2 222.2h1.5M310.2 222.2h1.5M310.7 222.2h1.5M317.7 222.2h1.5M326.1 222.2h1.5M329.6 222.2h1.5M329.6 222.2h1.5M338.1 222.2h1.5M338.6 222.2h1.5M341.6 222.2h1.5M342.1 222.2h1.5M344.5 222.2h1.5M346.5 222.2h1.5M347.0 222.2h1.5M351.0 222.2h1.5M364.9 222.2h1.5M372.9 222.2h1.5M397.8 222.2h1.5M400.3 222.2h1.5M419.7 222.2h1.5M427.6 222.2h1.5M436.6 222.2h1.5M441.6 222.2h1.5M451.5 222.2h1.5M456.0 222.2h1.5M458.5 222.2h1.5M469.4 222.2h1.5M476.9 222.2h1.5M527.1 222.2h1.5M529.6 222.2h1.5M530.6 222.2h1.5M547.0 222.2h1.5M547.5 222.2h1.5M568.9 222.2h1.5M230.6 224.3h1.5M267.9 224.3h1.5M289.8 224.3h1.5M293.8 224.3h1.5M309.7 224.3h1.5M318.2 224.3h1.5M323.7 224.3h1.5M327.6 224.3h1.5M341.6 224.3h1.5M358.5 224.3h1.5M423.7 224.3h1.5M449.5 224.3h1.5M488.8 224.3h1.5M537.1 224.3h1.5M78.4 226.3h1.5M92.8 226.3h1.5M100.3 226.3h1.5M124.2 226.3h1.5M153.0 226.3h1.5M158.0 226.3h1.5M198.8 226.3h1.5M200.3 226.3h1.5M206.2 226.3h1.5M211.2 226.3h1.5M269.4 226.3h1.5M292.3 226.3h1.5M292.3 226.3h1.5M295.3 226.3h1.5M300.3 226.3h1.5M315.2 226.3h1.5M320.7 226.3h1.5M325.1 226.3h1.5M327.1 226.3h1.5M328.1 226.3h1.5M328.6 226.3h1.5M328.6 226.3h1.5M330.1 226.3h1.5M330.6 226.3h1.5M335.1 226.3h1.5M336.1 226.3h1.5M338.1 226.3h1.5M344.1 226.3h1.5M344.5 226.3h1.5M345.5 226.3h1.5M349.0 226.3h1.5M429.1 226.3h1.5M432.1 226.3h1.5M477.4 226.3h1.5M504.7 226.3h1.5M505.7 226.3h1.5M521.7 226.3h1.5M523.2 226.3h1.5M533.6 226.3h1.5M535.6 226.3h1.5M541.6 226.3h1.5M546.0 226.3h1.5M79.4 228.3h1.5M82.4 228.3h1.5M88.8 228.3h1.5M89.3 228.3h1.5M92.8 228.3h1.5M92.8 228.3h1.5M93.3 228.3h1.5M93.8 228.3h1.5M97.8 228.3h1.5M101.8 228.3h1.5M104.3 228.3h1.5M104.8 228.3h1.5M112.7 228.3h1.5M128.1 228.3h1.5M136.6 228.3h1.5M139.6 228.3h1.5M143.1 228.3h1.5M144.6 228.3h1.5M149.0 228.3h1.5M151.0 228.3h1.5M156.5 228.3h1.5M161.5 228.3h1.5M166.9 228.3h1.5M168.4 228.3h1.5M168.9 228.3h1.5M181.9 228.3h1.5M189.3 228.3h1.5M200.3 228.3h1.5M214.2 228.3h1.5M220.2 228.3h1.5M226.1 228.3h1.5M227.6 228.3h1.5M234.6 228.3h1.5M240.6 228.3h1.5M250.5 228.3h1.5M254.5 228.3h1.5M257.0 228.3h1.5M264.5 228.3h1.5M272.9 228.3h1.5M275.4 228.3h1.5M279.4 228.3h1.5M281.9 228.3h1.5M285.8 228.3h1.5M287.3 228.3h1.5M293.8 228.3h1.5M296.8 228.3h1.5M301.3 228.3h1.5M301.8 228.3h1.5M305.2 228.3h1.5M306.2 228.3h1.5M310.2 228.3h1.5M311.7 228.3h1.5M312.7 228.3h1.5M313.2 228.3h1.5M314.7 228.3h1.5M316.7 228.3h1.5M318.2 228.3h1.5M320.2 228.3h1.5M320.7 228.3h1.5M326.1 228.3h1.5M326.6 228.3h1.5M332.6 228.3h1.5M333.1 228.3h1.5M333.6 228.3h1.5M336.1 228.3h1.5M338.6 228.3h1.5M339.1 228.3h1.5M347.0 228.3h1.5M347.5 228.3h1.5M348.5 228.3h1.5M350.5 228.3h1.5M355.5 228.3h1.5M356.0 228.3h1.5M356.0 228.3h1.5M357.0 228.3h1.5M357.5 228.3h1.5M359.5 228.3h1.5M362.5 228.3h1.5M368.9 228.3h1.5M369.9 228.3h1.5M371.9 228.3h1.5M378.9 228.3h1.5M378.9 228.3h1.5M379.4 228.3h1.5M383.4 228.3h1.5M400.8 228.3h1.5M401.8 228.3h1.5M402.8 228.3h1.5M406.2 228.3h1.5M423.2 228.3h1.5M429.1 228.3h1.5M434.6 228.3h1.5M445.0 228.3h1.5M446.5 228.3h1.5M488.3 228.3h1.5M493.8 228.3h1.5M498.8 228.3h1.5M502.3 228.3h1.5M505.2 228.3h1.5M505.7 228.3h1.5M510.2 228.3h1.5M516.2 228.3h1.5M518.7 228.3h1.5M520.7 228.3h1.5M521.7 228.3h1.5M528.6 228.3h1.5M531.6 228.3h1.5M532.6 228.3h1.5M537.6 228.3h1.5M543.5 228.3h1.5M543.5 228.3h1.5M546.0 228.3h1.5M550.0 228.3h1.5M552.5 228.3h1.5M557.5 228.3h1.5M560.5 228.3h1.5M565.9 228.3h1.5M570.4 228.3h1.5M78.9 230.4h1.5M80.9 230.4h1.5M82.4 230.4h1.5M88.3 230.4h1.5M89.8 230.4h1.5M90.8 230.4h1.5M91.8 230.4h1.5M92.8 230.4h1.5M97.3 230.4h1.5M102.8 230.4h1.5M103.3 230.4h1.5M104.8 230.4h1.5M104.8 230.4h1.5M104.8 230.4h1.5M105.3 230.4h1.5M113.7 230.4h1.5M114.2 230.4h1.5M124.2 230.4h1.5M127.6 230.4h1.5M133.6 230.4h1.5M134.1 230.4h1.5M137.6 230.4h1.5M142.1 230.4h1.5M142.1 230.4h1.5M146.5 230.4h1.5M149.0 230.4h1.5M152.0 230.4h1.5M155.0 230.4h1.5M157.0 230.4h1.5M170.4 230.4h1.5M176.4 230.4h1.5M181.4 230.4h1.5M185.3 230.4h1.5M190.3 230.4h1.5M196.3 230.4h1.5M198.3 230.4h1.5M206.2 230.4h1.5M214.2 230.4h1.5M215.2 230.4h1.5M235.6 230.4h1.5M239.1 230.4h1.5M243.6 230.4h1.5M246.0 230.4h1.5M249.0 230.4h1.5M253.5 230.4h1.5M257.5 230.4h1.5M263.5 230.4h1.5M264.5 230.4h1.5M271.4 230.4h1.5M276.4 230.4h1.5M277.4 230.4h1.5M283.9 230.4h1.5M283.9 230.4h1.5M285.8 230.4h1.5M289.8 230.4h1.5M290.3 230.4h1.5M290.8 230.4h1.5M291.3 230.4h1.5M294.8 230.4h1.5M295.3 230.4h1.5M299.3 230.4h1.5M299.8 230.4h1.5M300.8 230.4h1.5M301.3 230.4h1.5M301.8 230.4h1.5M305.2 230.4h1.5M307.7 230.4h1.5M308.7 230.4h1.5M314.7 230.4h1.5M320.2 230.4h1.5M320.2 230.4h1.5M323.7 230.4h1.5M327.1 230.4h1.5M330.1 230.4h1.5M334.1 230.4h1.5M337.1 230.4h1.5M347.0 230.4h1.5M352.5 230.4h1.5M354.5 230.4h1.5M357.5 230.4h1.5M365.4 230.4h1.5M369.4 230.4h1.5M379.4 230.4h1.5M388.8 230.4h1.5M389.8 230.4h1.5M390.8 230.4h1.5M392.3 230.4h1.5M403.8 230.4h1.5M405.2 230.4h1.5M446.5 230.4h1.5M453.0 230.4h1.5M454.0 230.4h1.5M461.5 230.4h1.5M467.9 230.4h1.5M475.4 230.4h1.5M483.4 230.4h1.5M484.3 230.4h1.5M486.3 230.4h1.5M486.3 230.4h1.5M491.3 230.4h1.5M495.3 230.4h1.5M495.8 230.4h1.5M505.7 230.4h1.5M507.7 230.4h1.5M508.7 230.4h1.5M515.2 230.4h1.5M515.7 230.4h1.5M536.1 230.4h1.5M538.1 230.4h1.5M539.6 230.4h1.5M555.5 230.4h1.5M563.5 230.4h1.5M565.4 230.4h1.5M569.4 230.4h1.5M95.3 232.4h1.5M97.3 232.4h1.5M153.0 232.4h1.5M157.0 232.4h1.5M179.9 232.4h1.5M182.9 232.4h1.5M185.3 232.4h1.5M218.2 232.4h1.5M247.5 232.4h1.5M263.0 232.4h1.5M266.9 232.4h1.5M284.8 232.4h1.5M295.3 232.4h1.5M297.3 232.4h1.5M308.2 232.4h1.5M308.7 232.4h1.5M313.7 232.4h1.5M315.2 232.4h1.5M322.2 232.4h1.5M388.8 232.4h1.5M427.6 232.4h1.5M429.1 232.4h1.5M438.1 232.4h1.5M438.6 232.4h1.5M439.6 232.4h1.5M446.5 232.4h1.5M447.5 232.4h1.5M464.4 232.4h1.5M470.9 232.4h1.5M472.9 232.4h1.5M481.4 232.4h1.5M485.8 232.4h1.5M490.3 232.4h1.5M496.8 232.4h1.5M504.7 232.4h1.5M514.7 232.4h1.5M544.5 232.4h1.5M548.5 232.4h1.5M563.5 232.4h1.5M86.8 234.5h1.5M93.3 234.5h1.5M96.8 234.5h1.5M99.3 234.5h1.5M117.7 234.5h1.5M121.2 234.5h1.5M133.1 234.5h1.5M142.6 234.5h1.5M146.0 234.5h1.5M146.5 234.5h1.5M158.0 234.5h1.5M168.9 234.5h1.5M175.4 234.5h1.5M180.4 234.5h1.5M181.4 234.5h1.5M181.9 234.5h1.5M207.2 234.5h1.5M210.7 234.5h1.5M210.7 234.5h1.5M213.7 234.5h1.5M217.2 234.5h1.5M227.6 234.5h1.5M234.1 234.5h1.5M244.1 234.5h1.5M244.6 234.5h1.5M252.0 234.5h1.5M259.0 234.5h1.5M262.0 234.5h1.5M269.9 234.5h1.5M273.9 234.5h1.5M276.4 234.5h1.5M283.4 234.5h1.5M284.8 234.5h1.5M284.8 234.5h1.5M292.8 234.5h1.5M294.8 234.5h1.5M296.3 234.5h1.5M303.8 234.5h1.5M305.2 234.5h1.5M311.7 234.5h1.5M315.2 234.5h1.5M317.7 234.5h1.5M323.2 234.5h1.5M323.7 234.5h1.5M324.2 234.5h1.5M324.6 234.5h1.5M329.6 234.5h1.5M337.6 234.5h1.5M341.6 234.5h1.5M353.0 234.5h1.5M357.5 234.5h1.5M371.4 234.5h1.5M373.4 234.5h1.5M376.9 234.5h1.5M378.9 234.5h1.5M384.3 234.5h1.5M400.8 234.5h1.5M402.8 234.5h1.5M404.7 234.5h1.5M408.7 234.5h1.5M417.2 234.5h1.5M420.2 234.5h1.5M421.7 234.5h1.5M428.6 234.5h1.5M433.6 234.5h1.5M436.6 234.5h1.5M467.9 234.5h1.5M488.3 234.5h1.5M491.3 234.5h1.5M491.3 234.5h1.5M495.3 234.5h1.5M497.8 234.5h1.5M501.8 234.5h1.5M506.7 234.5h1.5M519.7 234.5h1.5M520.2 234.5h1.5M520.7 234.5h1.5M525.6 234.5h1.5M526.6 234.5h1.5M527.1 234.5h1.5M531.1 234.5h1.5M539.6 234.5h1.5M549.0 234.5h1.5M553.5 234.5h1.5M556.5 234.5h1.5M561.0 234.5h1.5M568.9 234.5h1.5M569.4 234.5h1.5M78.4 236.5h1.5M85.4 236.5h1.5M86.3 236.5h1.5M94.8 236.5h1.5M94.8 236.5h1.5M101.8 236.5h1.5M129.1 236.5h1.5M132.1 236.5h1.5M136.6 236.5h1.5M139.1 236.5h1.5M142.1 236.5h1.5M148.0 236.5h1.5M152.5 236.5h1.5M156.0 236.5h1.5M156.0 236.5h1.5M160.0 236.5h1.5M161.0 236.5h1.5M162.0 236.5h1.5M164.5 236.5h1.5M166.4 236.5h1.5M175.4 236.5h1.5M180.4 236.5h1.5M182.4 236.5h1.5M183.9 236.5h1.5M186.3 236.5h1.5M188.8 236.5h1.5M190.8 236.5h1.5M209.2 236.5h1.5M212.2 236.5h1.5M220.2 236.5h1.5M224.2 236.5h1.5M237.6 236.5h1.5M242.1 236.5h1.5M251.0 236.5h1.5M251.0 236.5h1.5M254.0 236.5h1.5M258.5 236.5h1.5M258.5 236.5h1.5M263.0 236.5h1.5M263.0 236.5h1.5M264.0 236.5h1.5M266.9 236.5h1.5M274.4 236.5h1.5M275.4 236.5h1.5M278.9 236.5h1.5M294.3 236.5h1.5M295.3 236.5h1.5M301.8 236.5h1.5M302.3 236.5h1.5M308.7 236.5h1.5M313.2 236.5h1.5M319.2 236.5h1.5M320.7 236.5h1.5M323.2 236.5h1.5M327.6 236.5h1.5M329.1 236.5h1.5M332.1 236.5h1.5M334.6 236.5h1.5M336.1 236.5h1.5M340.1 236.5h1.5M341.1 236.5h1.5M346.5 236.5h1.5M353.0 236.5h1.5M353.5 236.5h1.5M355.5 236.5h1.5M366.4 236.5h1.5M372.9 236.5h1.5M373.9 236.5h1.5M376.9 236.5h1.5M380.9 236.5h1.5M394.3 236.5h1.5M396.8 236.5h1.5M398.8 236.5h1.5M398.8 236.5h1.5M400.8 236.5h1.5M406.2 236.5h1.5M413.7 236.5h1.5M414.2 236.5h1.5M424.1 236.5h1.5M427.6 236.5h1.5M446.5 236.5h1.5M447.5 236.5h1.5M458.5 236.5h1.5M463.5 236.5h1.5M482.4 236.5h1.5M488.8 236.5h1.5M490.3 236.5h1.5M493.3 236.5h1.5M499.3 236.5h1.5M504.2 236.5h1.5M512.2 236.5h1.5M514.2 236.5h1.5M523.2 236.5h1.5M545.0 236.5h1.5M549.0 236.5h1.5M552.0 236.5h1.5M553.0 236.5h1.5M554.0 236.5h1.5M555.0 236.5h1.5M557.5 236.5h1.5M558.0 236.5h1.5M566.9 236.5h1.5M568.4 236.5h1.5M569.9 236.5h1.5M82.4 238.5h1.5M82.4 238.5h1.5M93.8 238.5h1.5M95.8 238.5h1.5M111.7 238.5h1.5M113.2 238.5h1.5M116.2 238.5h1.5M127.1 238.5h1.5M134.1 238.5h1.5M135.6 238.5h1.5M136.6 238.5h1.5M141.6 238.5h1.5M148.5 238.5h1.5M157.5 238.5h1.5M164.5 238.5h1.5M169.4 238.5h1.5M174.4 238.5h1.5M174.9 238.5h1.5M183.4 238.5h1.5M186.8 238.5h1.5M194.8 238.5h1.5M196.3 238.5h1.5M199.3 238.5h1.5M204.3 238.5h1.5M204.3 238.5h1.5M206.7 238.5h1.5M208.2 238.5h1.5M210.2 238.5h1.5M219.7 238.5h1.5M228.6 238.5h1.5M234.1 238.5h1.5M236.1 238.5h1.5M246.0 238.5h1.5M247.5 238.5h1.5M254.5 238.5h1.5M255.0 238.5h1.5M260.0 238.5h1.5M272.9 238.5h1.5M276.9 238.5h1.5M289.3 238.5h1.5M293.3 238.5h1.5M296.3 238.5h1.5M297.3 238.5h1.5M297.8 238.5h1.5M299.3 238.5h1.5M301.3 238.5h1.5M301.3 238.5h1.5M301.8 238.5h1.5M304.8 238.5h1.5M309.7 238.5h1.5M311.7 238.5h1.5M313.2 238.5h1.5M314.2 238.5h1.5M314.7 238.5h1.5M316.7 238.5h1.5M317.7 238.5h1.5M319.2 238.5h1.5M324.2 238.5h1.5M332.1 238.5h1.5M333.6 238.5h1.5M340.1 238.5h1.5M341.1 238.5h1.5M341.6 238.5h1.5M342.1 238.5h1.5M346.0 238.5h1.5M346.0 238.5h1.5M353.5 238.5h1.5M360.5 238.5h1.5M363.0 238.5h1.5M364.0 238.5h1.5M366.4 238.5h1.5M372.9 238.5h1.5M376.4 238.5h1.5M381.9 238.5h1.5M383.9 238.5h1.5M384.8 238.5h1.5M407.2 238.5h1.5M410.7 238.5h1.5M419.7 238.5h1.5M425.6 238.5h1.5M428.6 238.5h1.5M430.1 238.5h1.5M442.6 238.5h1.5M444.5 238.5h1.5M447.0 238.5h1.5M450.0 238.5h1.5M459.5 238.5h1.5M460.5 238.5h1.5M464.4 238.5h1.5M469.4 238.5h1.5M473.9 238.5h1.5M483.8 238.5h1.5M492.8 238.5h1.5M504.2 238.5h1.5M513.2 238.5h1.5M518.7 238.5h1.5M530.6 238.5h1.5M530.6 238.5h1.5M545.0 238.5h1.5M545.5 238.5h1.5M565.9 238.5h1.5M570.4 238.5h1.5M571.4 238.5h1.5M78.9 240.6h1.5M82.9 240.6h1.5M83.9 240.6h1.5M85.8 240.6h1.5M98.3 240.6h1.5M118.2 240.6h1.5M133.6 240.6h1.5M141.6 240.6h1.5M142.1 240.6h1.5M150.5 240.6h1.5M153.0 240.6h1.5M157.0 240.6h1.5M172.9 240.6h1.5M174.4 240.6h1.5M183.9 240.6h1.5M186.8 240.6h1.5M187.8 240.6h1.5M207.2 240.6h1.5M210.7 240.6h1.5M225.1 240.6h1.5M225.1 240.6h1.5M229.1 240.6h1.5M247.0 240.6h1.5M255.5 240.6h1.5M260.5 240.6h1.5M264.5 240.6h1.5M269.9 240.6h1.5M279.9 240.6h1.5M286.8 240.6h1.5M290.8 240.6h1.5M300.3 240.6h1.5M300.3 240.6h1.5M302.3 240.6h1.5M302.8 240.6h1.5M303.8 240.6h1.5M311.2 240.6h1.5M317.7 240.6h1.5M321.7 240.6h1.5M327.1 240.6h1.5M328.6 240.6h1.5M329.1 240.6h1.5M329.6 240.6h1.5M337.1 240.6h1.5M341.1 240.6h1.5M344.1 240.6h1.5M350.5 240.6h1.5M358.0 240.6h1.5M364.0 240.6h1.5M381.9 240.6h1.5M383.9 240.6h1.5M384.8 240.6h1.5M392.8 240.6h1.5M392.8 240.6h1.5M394.3 240.6h1.5M408.2 240.6h1.5M424.6 240.6h1.5M427.1 240.6h1.5M430.6 240.6h1.5M435.6 240.6h1.5M436.6 240.6h1.5M438.1 240.6h1.5M439.6 240.6h1.5M450.0 240.6h1.5M450.5 240.6h1.5M455.0 240.6h1.5M459.5 240.6h1.5M463.9 240.6h1.5M465.4 240.6h1.5M466.9 240.6h1.5M488.8 240.6h1.5M505.2 240.6h1.5M509.2 240.6h1.5M519.2 240.6h1.5M520.2 240.6h1.5M522.7 240.6h1.5M527.6 240.6h1.5M529.6 240.6h1.5M535.1 240.6h1.5M539.1 240.6h1.5M544.5 240.6h1.5M550.0 240.6h1.5M552.0 240.6h1.5M558.5 240.6h1.5M561.0 240.6h1.5M570.9 240.6h1.5M79.4 242.6h1.5M80.9 242.6h1.5M90.8 242.6h1.5M95.8 242.6h1.5M97.8 242.6h1.5M107.2 242.6h1.5M110.2 242.6h1.5M111.2 242.6h1.5M115.7 242.6h1.5M132.6 242.6h1.5M138.1 242.6h1.5M151.5 242.6h1.5M152.5 242.6h1.5M158.5 242.6h1.5M165.9 242.6h1.5M172.9 242.6h1.5M175.4 242.6h1.5M175.4 242.6h1.5M176.4 242.6h1.5M183.4 242.6h1.5M192.8 242.6h1.5M193.3 242.6h1.5M195.3 242.6h1.5M203.8 242.6h1.5M213.2 242.6h1.5M223.2 242.6h1.5M228.1 242.6h1.5M235.1 242.6h1.5M249.5 242.6h1.5M291.8 242.6h1.5M293.3 242.6h1.5M295.3 242.6h1.5M300.3 242.6h1.5M301.3 242.6h1.5M301.8 242.6h1.5M324.2 242.6h1.5M324.6 242.6h1.5M327.6 242.6h1.5M328.6 242.6h1.5M331.1 242.6h1.5M331.1 242.6h1.5M331.6 242.6h1.5M335.1 242.6h1.5M342.1 242.6h1.5M342.1 242.6h1.5M382.4 242.6h1.5M388.8 242.6h1.5M391.3 242.6h1.5M396.3 242.6h1.5M402.8 242.6h1.5M410.2 242.6h1.5M411.7 242.6h1.5M416.7 242.6h1.5M418.2 242.6h1.5M437.6 242.6h1.5M449.5 242.6h1.5M462.5 242.6h1.5M467.4 242.6h1.5M467.9 242.6h1.5M482.4 242.6h1.5M491.3 242.6h1.5M512.7 242.6h1.5M530.6 242.6h1.5M534.1 242.6h1.5M540.1 242.6h1.5M558.5 242.6h1.5M564.4 242.6h1.5M569.4 242.6h1.5M81.4 244.6h1.5M81.4 244.6h1.5M82.9 244.6h1.5M84.9 244.6h1.5M86.8 244.6h1.5M89.3 244.6h1.5M90.3 244.6h1.5M90.8 244.6h1.5M92.8 244.6h1.5M106.7 244.6h1.5M109.2 244.6h1.5M113.7 244.6h1.5M123.2 244.6h1.5M126.1 244.6h1.5M128.1 244.6h1.5M136.1 244.6h1.5M137.6 244.6h1.5M143.6 244.6h1.5M152.0 244.6h1.5M153.5 244.6h1.5M154.0 244.6h1.5M170.9 244.6h1.5M171.4 244.6h1.5M188.3 244.6h1.5M206.2 244.6h1.5M225.6 244.6h1.5M241.1 244.6h1.5M246.5 244.6h1.5M255.0 244.6h1.5M255.5 244.6h1.5M256.0 244.6h1.5M258.0 244.6h1.5M262.0 244.6h1.5M264.0 244.6h1.5M275.9 244.6h1.5M289.8 244.6h1.5M306.2 244.6h1.5M308.7 244.6h1.5M311.7 244.6h1.5M314.7 244.6h1.5M318.2 244.6h1.5M318.2 244.6h1.5M321.7 244.6h1.5M322.2 244.6h1.5M323.7 244.6h1.5M327.6 244.6h1.5M328.1 244.6h1.5M331.6 244.6h1.5M333.6 244.6h1.5M337.6 244.6h1.5M339.6 244.6h1.5M340.6 244.6h1.5M341.1 244.6h1.5M342.1 244.6h1.5M350.0 244.6h1.5M351.5 244.6h1.5M355.0 244.6h1.5M357.0 244.6h1.5M359.0 244.6h1.5M359.0 244.6h1.5M371.9 244.6h1.5M374.4 244.6h1.5M374.9 244.6h1.5M389.8 244.6h1.5M400.3 244.6h1.5M402.3 244.6h1.5M410.7 244.6h1.5M414.7 244.6h1.5M417.7 244.6h1.5M421.7 244.6h1.5M433.1 244.6h1.5M438.6 244.6h1.5M444.5 244.6h1.5M445.0 244.6h1.5M449.0 244.6h1.5M452.0 244.6h1.5M457.0 244.6h1.5M457.5 244.6h1.5M464.4 244.6h1.5M465.9 244.6h1.5M468.9 244.6h1.5M469.4 244.6h1.5M482.4 244.6h1.5M484.3 244.6h1.5M484.8 244.6h1.5M495.8 244.6h1.5M501.8 244.6h1.5M503.3 244.6h1.5M506.7 244.6h1.5M507.7 244.6h1.5M509.7 244.6h1.5M510.7 244.6h1.5M511.7 244.6h1.5M512.2 244.6h1.5M512.7 244.6h1.5M515.7 244.6h1.5M517.2 244.6h1.5M541.1 244.6h1.5M547.5 244.6h1.5M547.5 244.6h1.5M569.4 244.6h1.5M570.4 244.6h1.5M129.6 246.7h1.5M130.6 246.7h1.5M162.0 246.7h1.5M187.3 246.7h1.5M213.2 246.7h1.5M222.2 246.7h1.5M239.1 246.7h1.5M245.5 246.7h1.5M264.5 246.7h1.5M283.9 246.7h1.5M302.3 246.7h1.5M328.6 246.7h1.5M340.1 246.7h1.5M377.9 246.7h1.5M401.3 246.7h1.5M424.6 246.7h1.5M457.0 246.7h1.5M508.2 246.7h1.5M558.5 246.7h1.5M79.4 248.7h1.5M79.9 248.7h1.5M88.8 248.7h1.5M89.3 248.7h1.5M92.8 248.7h1.5M99.3 248.7h1.5M112.2 248.7h1.5M115.2 248.7h1.5M122.2 248.7h1.5M123.7 248.7h1.5M150.5 248.7h1.5M158.0 248.7h1.5M177.9 248.7h1.5M178.4 248.7h1.5M185.3 248.7h1.5M186.8 248.7h1.5M195.3 248.7h1.5M202.8 248.7h1.5M203.8 248.7h1.5M208.7 248.7h1.5M212.7 248.7h1.5M214.7 248.7h1.5M228.1 248.7h1.5M228.6 248.7h1.5M232.6 248.7h1.5M252.0 248.7h1.5M269.4 248.7h1.5M284.8 248.7h1.5M291.8 248.7h1.5M298.3 248.7h1.5M300.8 248.7h1.5M301.8 248.7h1.5M306.7 248.7h1.5M307.7 248.7h1.5M313.7 248.7h1.5M314.2 248.7h1.5M319.7 248.7h1.5M321.7 248.7h1.5M323.2 248.7h1.5M323.7 248.7h1.5M326.1 248.7h1.5M329.6 248.7h1.5M331.1 248.7h1.5M331.6 248.7h1.5M333.1 248.7h1.5M336.1 248.7h1.5M338.6 248.7h1.5M339.6 248.7h1.5M340.6 248.7h1.5M358.0 248.7h1.5M359.0 248.7h1.5M360.5 248.7h1.5M368.4 248.7h1.5M369.9 248.7h1.5M378.9 248.7h1.5M382.9 248.7h1.5M385.3 248.7h1.5M386.8 248.7h1.5M387.8 248.7h1.5M390.8 248.7h1.5M395.8 248.7h1.5M399.3 248.7h1.5M399.8 248.7h1.5M412.7 248.7h1.5M457.5 248.7h1.5M458.5 248.7h1.5M462.5 248.7h1.5M465.4 248.7h1.5M468.4 248.7h1.5M491.3 248.7h1.5M497.8 248.7h1.5M500.3 248.7h1.5M502.8 248.7h1.5M509.2 248.7h1.5M513.7 248.7h1.5M519.7 248.7h1.5M528.6 248.7h1.5M529.6 248.7h1.5M532.6 248.7h1.5M541.6 248.7h1.5M542.1 248.7h1.5M545.5 248.7h1.5M562.5 248.7h1.5M563.5 248.7h1.5M564.9 248.7h1.5M567.9 248.7h1.5M95.8 250.7h1.5M96.8 250.7h1.5M98.3 250.7h1.5M99.3 250.7h1.5M104.3 250.7h1.5M105.3 250.7h1.5M106.2 250.7h1.5M109.7 250.7h1.5M121.7 250.7h1.5M137.1 250.7h1.5M144.6 250.7h1.5M156.0 250.7h1.5M162.0 250.7h1.5M164.0 250.7h1.5M165.9 250.7h1.5M178.9 250.7h1.5M208.7 250.7h1.5M222.2 250.7h1.5M251.0 250.7h1.5M261.5 250.7h1.5M264.5 250.7h1.5M271.4 250.7h1.5M274.9 250.7h1.5M297.3 250.7h1.5M314.2 250.7h1.5M318.2 250.7h1.5M320.7 250.7h1.5M326.1 250.7h1.5M328.1 250.7h1.5M341.6 250.7h1.5M341.6 250.7h1.5M346.0 250.7h1.5M350.0 250.7h1.5M357.5 250.7h1.5M358.0 250.7h1.5M370.4 250.7h1.5M373.4 250.7h1.5M395.3 250.7h1.5M399.8 250.7h1.5M404.2 250.7h1.5M404.7 250.7h1.5M420.7 250.7h1.5M432.6 250.7h1.5M440.6 250.7h1.5M457.5 250.7h1.5M480.4 250.7h1.5M488.3 250.7h1.5M490.3 250.7h1.5M491.8 250.7h1.5M503.8 250.7h1.5M507.2 250.7h1.5M516.2 250.7h1.5M562.0 250.7h1.5M568.9 250.7h1.5M105.7 252.8h1.5M180.4 252.8h1.5M182.4 252.8h1.5M184.9 252.8h1.5M210.2 252.8h1.5M224.7 252.8h1.5M247.0 252.8h1.5M322.7 252.8h1.5M342.1 252.8h1.5M347.5 252.8h1.5M362.0 252.8h1.5M368.9 252.8h1.5M376.4 252.8h1.5M414.7 252.8h1.5M418.2 252.8h1.5M434.1 252.8h1.5M457.0 252.8h1.5M473.4 252.8h1.5M92.3 254.8h1.5M99.8 254.8h1.5M100.3 254.8h1.5M114.2 254.8h1.5M118.7 254.8h1.5M138.1 254.8h1.5M153.5 254.8h1.5M154.5 254.8h1.5M162.0 254.8h1.5M170.9 254.8h1.5M179.4 254.8h1.5M184.9 254.8h1.5M186.8 254.8h1.5M186.8 254.8h1.5M189.8 254.8h1.5M190.8 254.8h1.5M191.3 254.8h1.5M194.3 254.8h1.5M198.8 254.8h1.5M212.2 254.8h1.5M215.7 254.8h1.5M216.2 254.8h1.5M256.0 254.8h1.5M267.9 254.8h1.5M269.9 254.8h1.5M281.4 254.8h1.5M297.8 254.8h1.5M305.2 254.8h1.5M322.7 254.8h1.5M341.1 254.8h1.5M344.5 254.8h1.5M346.0 254.8h1.5M350.5 254.8h1.5M357.5 254.8h1.5M373.4 254.8h1.5M377.9 254.8h1.5M385.8 254.8h1.5M385.8 254.8h1.5M398.8 254.8h1.5M401.3 254.8h1.5M410.7 254.8h1.5M418.2 254.8h1.5M420.2 254.8h1.5M423.2 254.8h1.5M425.6 254.8h1.5M428.6 254.8h1.5M435.6 254.8h1.5M436.6 254.8h1.5M465.4 254.8h1.5M470.9 254.8h1.5M473.9 254.8h1.5M477.4 254.8h1.5M478.4 254.8h1.5M487.8 254.8h1.5M491.3 254.8h1.5M497.3 254.8h1.5M500.8 254.8h1.5M500.8 254.8h1.5M504.2 254.8h1.5M507.7 254.8h1.5M509.7 254.8h1.5M518.2 254.8h1.5M521.2 254.8h1.5M523.2 254.8h1.5M526.6 254.8h1.5M527.1 254.8h1.5M528.1 254.8h1.5M530.6 254.8h1.5M532.1 254.8h1.5M540.6 254.8h1.5M552.0 254.8h1.5M552.5 254.8h1.5M555.5 254.8h1.5M563.0 254.8h1.5M563.0 254.8h1.5M563.9 254.8h1.5M79.9 256.8h1.5M86.8 256.8h1.5M93.8 256.8h1.5M103.3 256.8h1.5M104.3 256.8h1.5M104.8 256.8h1.5M115.2 256.8h1.5M128.1 256.8h1.5M130.1 256.8h1.5M136.1 256.8h1.5M143.1 256.8h1.5M157.0 256.8h1.5M163.0 256.8h1.5M165.9 256.8h1.5M169.9 256.8h1.5M170.4 256.8h1.5M178.4 256.8h1.5M182.9 256.8h1.5M186.3 256.8h1.5M221.2 256.8h1.5M223.2 256.8h1.5M241.6 256.8h1.5M248.0 256.8h1.5M256.0 256.8h1.5M263.5 256.8h1.5M290.3 256.8h1.5M292.3 256.8h1.5M296.3 256.8h1.5M308.2 256.8h1.5M309.7 256.8h1.5M319.7 256.8h1.5M323.2 256.8h1.5M325.6 256.8h1.5M334.1 256.8h1.5M340.1 256.8h1.5M340.6 256.8h1.5M343.1 256.8h1.5M351.0 256.8h1.5M355.5 256.8h1.5M358.0 256.8h1.5M368.9 256.8h1.5M369.9 256.8h1.5M378.4 256.8h1.5M380.9 256.8h1.5M381.9 256.8h1.5M388.3 256.8h1.5M417.2 256.8h1.5M422.7 256.8h1.5M432.6 256.8h1.5M435.6 256.8h1.5M436.1 256.8h1.5M440.6 256.8h1.5M441.1 256.8h1.5M451.5 256.8h1.5M464.9 256.8h1.5M467.4 256.8h1.5M468.9 256.8h1.5M485.8 256.8h1.5M517.7 256.8h1.5M520.7 256.8h1.5M529.1 256.8h1.5M533.1 256.8h1.5M542.6 256.8h1.5M546.0 256.8h1.5M565.4 256.8h1.5M567.9 256.8h1.5M83.9 258.9h1.5M97.3 258.9h1.5M101.3 258.9h1.5M118.2 258.9h1.5M146.5 258.9h1.5M147.5 258.9h1.5M157.0 258.9h1.5M175.4 258.9h1.5M223.2 258.9h1.5M298.3 258.9h1.5M304.3 258.9h1.5M313.7 258.9h1.5M321.7 258.9h1.5M322.7 258.9h1.5M327.6 258.9h1.5M339.1 258.9h1.5M366.4 258.9h1.5M368.4 258.9h1.5M378.9 258.9h1.5M385.8 258.9h1.5M412.2 258.9h1.5M417.7 258.9h1.5M423.7 258.9h1.5M436.1 258.9h1.5M466.9 258.9h1.5M483.4 258.9h1.5M489.3 258.9h1.5M499.3 258.9h1.5M500.8 258.9h1.5M509.2 258.9h1.5M513.2 258.9h1.5M527.6 258.9h1.5M543.5 258.9h1.5M543.5 258.9h1.5M547.5 258.9h1.5M554.0 258.9h1.5M566.4 258.9h1.5M285.3 260.9h1.5M480.9 260.9h1.5M80.4 263.0h1.5M88.8 263.0h1.5M108.2 263.0h1.5M122.2 263.0h1.5M137.1 263.0h1.5M185.8 263.0h1.5M192.3 263.0h1.5M200.8 263.0h1.5M210.7 263.0h1.5M229.6 263.0h1.5M290.3 263.0h1.5M297.3 263.0h1.5M305.7 263.0h1.5M318.2 263.0h1.5M348.0 263.0h1.5M379.9 263.0h1.5M396.8 263.0h1.5M407.7 263.0h1.5M412.2 263.0h1.5M430.6 263.0h1.5M446.0 263.0h1.5M463.0 263.0h1.5M507.2 263.0h1.5M522.2 263.0h1.5M527.6 263.0h1.5M557.5 263.0h1.5M88.3 265.0h1.5M114.7 265.0h1.5M137.1 265.0h1.5M144.1 265.0h1.5M154.5 265.0h1.5M161.0 265.0h1.5M177.4 265.0h1.5M227.6 265.0h1.5M258.0 265.0h1.5M273.4 265.0h1.5M315.2 265.0h1.5M324.2 265.0h1.5M327.6 265.0h1.5M333.1 265.0h1.5M336.1 265.0h1.5M355.5 265.0h1.5M370.4 265.0h1.5M378.4 265.0h1.5M391.8 265.0h1.5M397.8 265.0h1.5M400.3 265.0h1.5M427.1 265.0h1.5M430.6 265.0h1.5M444.0 265.0h1.5M479.4 265.0h1.5M514.2 265.0h1.5M535.6 265.0h1.5M546.0 265.0h1.5M551.0 265.0h1.5M556.5 265.0h1.5M79.9 267.0h1.5M81.9 267.0h1.5M83.4 267.0h1.5M90.3 267.0h1.5M100.3 267.0h1.5M102.3 267.0h1.5M107.7 267.0h1.5M121.7 267.0h1.5M125.6 267.0h1.5M132.1 267.0h1.5M138.6 267.0h1.5M165.9 267.0h1.5M210.2 267.0h1.5M239.1 267.0h1.5M249.0 267.0h1.5M259.5 267.0h1.5M265.4 267.0h1.5M268.4 267.0h1.5M283.4 267.0h1.5M301.3 267.0h1.5M312.2 267.0h1.5M343.6 267.0h1.5M348.0 267.0h1.5M352.5 267.0h1.5M356.0 267.0h1.5M367.4 267.0h1.5M379.9 267.0h1.5M382.4 267.0h1.5M386.8 267.0h1.5M395.3 267.0h1.5M403.8 267.0h1.5M421.2 267.0h1.5M432.6 267.0h1.5M472.4 267.0h1.5M487.3 267.0h1.5M494.3 267.0h1.5M500.8 267.0h1.5M502.8 267.0h1.5M78.4 269.1h1.5M78.9 269.1h1.5M86.8 269.1h1.5M90.3 269.1h1.5M100.8 269.1h1.5M102.3 269.1h1.5M144.1 269.1h1.5M205.7 269.1h1.5M250.0 269.1h1.5M253.5 269.1h1.5M275.4 269.1h1.5M286.3 269.1h1.5M311.2 269.1h1.5M316.7 269.1h1.5M320.7 269.1h1.5M322.2 269.1h1.5M322.2 269.1h1.5M346.5 269.1h1.5M346.5 269.1h1.5M353.5 269.1h1.5M373.4 269.1h1.5M374.9 269.1h1.5M383.9 269.1h1.5M394.8 269.1h1.5M415.7 269.1h1.5M467.9 269.1h1.5M483.4 269.1h1.5M485.8 269.1h1.5M497.8 269.1h1.5M516.7 269.1h1.5M531.1 269.1h1.5M552.5 269.1h1.5M560.5 269.1h1.5M83.4 271.1h1.5M111.7 271.1h1.5M150.0 271.1h1.5M159.5 271.1h1.5M161.5 271.1h1.5M172.9 271.1h1.5M193.3 271.1h1.5M214.7 271.1h1.5M227.1 271.1h1.5M271.4 271.1h1.5M274.9 271.1h1.5M298.3 271.1h1.5M303.3 271.1h1.5M308.7 271.1h1.5M311.2 271.1h1.5M321.7 271.1h1.5M323.2 271.1h1.5M328.1 271.1h1.5M356.5 271.1h1.5M366.9 271.1h1.5M371.4 271.1h1.5M388.3 271.1h1.5M406.2 271.1h1.5M431.6 271.1h1.5M433.1 271.1h1.5M450.0 271.1h1.5M455.0 271.1h1.5M461.5 271.1h1.5M492.8 271.1h1.5M521.7 271.1h1.5M545.0 271.1h1.5M559.5 271.1h1.5M158.0 273.1h1.5M320.7 273.1h1.5M333.1 273.1h1.5M419.7 273.1h1.5M560.0 273.1h1.5M93.8 275.2h1.5M97.3 275.2h1.5M105.7 275.2h1.5M125.6 275.2h1.5M130.6 275.2h1.5M134.1 275.2h1.5M134.6 275.2h1.5M141.1 275.2h1.5M141.6 275.2h1.5M142.6 275.2h1.5M149.5 275.2h1.5M164.0 275.2h1.5M165.0 275.2h1.5M167.9 275.2h1.5M177.9 275.2h1.5M196.3 275.2h1.5M199.8 275.2h1.5M200.8 275.2h1.5M203.3 275.2h1.5M204.3 275.2h1.5M208.2 275.2h1.5M212.7 275.2h1.5M213.2 275.2h1.5M217.2 275.2h1.5M241.1 275.2h1.5M242.6 275.2h1.5M246.5 275.2h1.5M257.0 275.2h1.5M276.4 275.2h1.5M304.3 275.2h1.5M306.2 275.2h1.5M310.2 275.2h1.5M316.2 275.2h1.5M319.7 275.2h1.5M321.2 275.2h1.5M325.1 275.2h1.5M337.6 275.2h1.5M340.1 275.2h1.5M361.5 275.2h1.5M372.4 275.2h1.5M377.9 275.2h1.5M382.9 275.2h1.5M389.3 275.2h1.5M394.3 275.2h1.5M400.8 275.2h1.5M406.2 275.2h1.5M422.7 275.2h1.5M424.1 275.2h1.5M441.1 275.2h1.5M460.0 275.2h1.5M463.0 275.2h1.5M471.9 275.2h1.5M471.9 275.2h1.5M493.8 275.2h1.5M499.8 275.2h1.5M501.8 275.2h1.5M503.3 275.2h1.5M503.8 275.2h1.5M504.7 275.2h1.5M508.2 275.2h1.5M511.2 275.2h1.5M511.7 275.2h1.5M529.1 275.2h1.5M531.1 275.2h1.5M541.6 275.2h1.5M548.0 275.2h1.5M563.0 275.2h1.5M564.9 275.2h1.5M570.9 275.2h1.5M92.8 277.2h1.5M95.8 277.2h1.5M126.1 277.2h1.5M143.6 277.2h1.5M161.0 277.2h1.5M165.9 277.2h1.5M248.0 277.2h1.5M249.0 277.2h1.5M262.0 277.2h1.5M275.9 277.2h1.5M276.9 277.2h1.5M308.7 277.2h1.5M314.7 277.2h1.5M328.1 277.2h1.5M339.1 277.2h1.5M344.5 277.2h1.5M392.3 277.2h1.5M401.3 277.2h1.5M426.1 277.2h1.5M433.1 277.2h1.5M435.6 277.2h1.5M448.5 277.2h1.5M493.8 277.2h1.5M522.7 277.2h1.5M523.2 277.2h1.5M534.6 277.2h1.5M535.1 277.2h1.5M568.4 277.2h1.5M95.8 279.2h1.5M116.2 279.2h1.5M123.2 279.2h1.5M182.4 279.2h1.5M190.3 279.2h1.5M206.7 279.2h1.5M217.2 279.2h1.5M227.1 279.2h1.5M227.6 279.2h1.5M244.1 279.2h1.5M260.0 279.2h1.5M301.3 279.2h1.5M307.2 279.2h1.5M315.2 279.2h1.5M333.1 279.2h1.5M344.1 279.2h1.5M379.9 279.2h1.5M384.3 279.2h1.5M385.3 279.2h1.5M422.2 279.2h1.5M426.6 279.2h1.5M438.1 279.2h1.5M442.6 279.2h1.5M505.7 279.2h1.5M528.1 279.2h1.5M534.1 279.2h1.5M123.2 281.3h1.5M155.0 281.3h1.5M267.9 281.3h1.5M309.2 281.3h1.5M334.1 281.3h1.5M397.8 281.3h1.5M424.1 281.3h1.5M482.9 281.3h1.5M489.3 281.3h1.5M104.3 283.3h1.5M108.2 283.3h1.5M109.2 283.3h1.5M111.7 283.3h1.5M112.7 283.3h1.5M117.2 283.3h1.5M119.2 283.3h1.5M122.7 283.3h1.5M126.1 283.3h1.5M152.0 283.3h1.5M206.2 283.3h1.5M221.2 283.3h1.5M233.6 283.3h1.5M245.5 283.3h1.5M272.4 283.3h1.5M275.4 283.3h1.5M287.3 283.3h1.5M296.3 283.3h1.5M298.8 283.3h1.5M302.3 283.3h1.5M330.1 283.3h1.5M340.1 283.3h1.5M353.5 283.3h1.5M374.9 283.3h1.5M376.9 283.3h1.5M385.3 283.3h1.5M387.3 283.3h1.5M443.1 283.3h1.5M455.5 283.3h1.5M457.0 283.3h1.5M463.9 283.3h1.5M475.9 283.3h1.5M482.4 283.3h1.5M524.6 283.3h1.5M530.1 283.3h1.5M546.5 283.3h1.5M551.0 283.3h1.5M78.4 285.4h1.5M83.4 285.4h1.5M97.3 285.4h1.5M120.2 285.4h1.5M124.2 285.4h1.5M128.6 285.4h1.5M136.1 285.4h1.5M139.1 285.4h1.5M158.0 285.4h1.5M165.0 285.4h1.5M177.4 285.4h1.5M193.3 285.4h1.5M205.7 285.4h1.5M206.7 285.4h1.5M207.7 285.4h1.5M215.7 285.4h1.5M218.7 285.4h1.5M220.7 285.4h1.5M233.1 285.4h1.5M275.9 285.4h1.5M276.4 285.4h1.5M289.8 285.4h1.5M294.8 285.4h1.5M297.3 285.4h1.5M307.7 285.4h1.5M310.7 285.4h1.5M311.2 285.4h1.5M314.7 285.4h1.5M329.6 285.4h1.5M330.1 285.4h1.5M355.0 285.4h1.5M364.4 285.4h1.5M364.9 285.4h1.5M367.9 285.4h1.5M368.4 285.4h1.5M380.9 285.4h1.5M393.8 285.4h1.5M410.7 285.4h1.5M419.7 285.4h1.5M432.6 285.4h1.5M436.1 285.4h1.5M441.6 285.4h1.5M442.1 285.4h1.5M453.0 285.4h1.5M456.0 285.4h1.5M472.4 285.4h1.5M475.9 285.4h1.5M479.4 285.4h1.5M480.9 285.4h1.5M482.9 285.4h1.5M486.8 285.4h1.5M500.3 285.4h1.5M517.7 285.4h1.5M531.6 285.4h1.5M533.1 285.4h1.5M540.6 285.4h1.5M554.5 285.4h1.5M563.5 285.4h1.5M564.9 285.4h1.5M568.4 285.4h1.5M569.9 285.4h1.5M117.7 287.4h1.5M126.6 287.4h1.5M142.6 287.4h1.5M146.5 287.4h1.5M156.0 287.4h1.5M162.5 287.4h1.5M167.4 287.4h1.5M172.4 287.4h1.5M188.3 287.4h1.5M198.8 287.4h1.5M198.8 287.4h1.5M200.8 287.4h1.5M228.1 287.4h1.5M233.1 287.4h1.5M257.5 287.4h1.5M269.9 287.4h1.5M296.3 287.4h1.5M316.7 287.4h1.5M343.1 287.4h1.5M347.0 287.4h1.5M350.5 287.4h1.5M365.9 287.4h1.5M375.4 287.4h1.5M382.4 287.4h1.5M388.3 287.4h1.5M392.3 287.4h1.5M394.8 287.4h1.5M397.8 287.4h1.5M435.6 287.4h1.5M439.1 287.4h1.5M458.0 287.4h1.5M460.5 287.4h1.5M467.9 287.4h1.5M479.4 287.4h1.5M498.3 287.4h1.5M544.5 287.4h1.5M97.3 289.4h1.5M108.2 289.4h1.5M109.2 289.4h1.5M110.7 289.4h1.5M112.7 289.4h1.5M139.1 289.4h1.5M163.0 289.4h1.5M164.5 289.4h1.5M178.4 289.4h1.5M179.9 289.4h1.5M211.2 289.4h1.5M216.2 289.4h1.5M238.6 289.4h1.5M246.0 289.4h1.5M261.5 289.4h1.5M295.3 289.4h1.5M299.3 289.4h1.5M316.7 289.4h1.5M318.7 289.4h1.5M326.1 289.4h1.5M334.1 289.4h1.5M334.6 289.4h1.5M336.1 289.4h1.5M344.1 289.4h1.5M351.0 289.4h1.5M386.3 289.4h1.5M387.3 289.4h1.5M400.8 289.4h1.5M423.2 289.4h1.5M427.6 289.4h1.5M435.6 289.4h1.5M448.5 289.4h1.5M479.9 289.4h1.5M493.3 289.4h1.5M514.2 289.4h1.5M564.4 289.4h1.5M565.9 289.4h1.5M83.4 291.5h1.5M86.3 291.5h1.5M92.3 291.5h1.5M93.3 291.5h1.5M94.3 291.5h1.5M120.7 291.5h1.5M121.7 291.5h1.5M129.6 291.5h1.5M130.6 291.5h1.5M142.6 291.5h1.5M156.5 291.5h1.5M171.4 291.5h1.5M184.4 291.5h1.5M192.8 291.5h1.5M198.3 291.5h1.5M205.7 291.5h1.5M231.6 291.5h1.5M235.6 291.5h1.5M237.6 291.5h1.5M259.5 291.5h1.5M261.5 291.5h1.5M262.5 291.5h1.5M266.9 291.5h1.5M275.4 291.5h1.5M288.3 291.5h1.5M297.8 291.5h1.5M307.7 291.5h1.5M309.7 291.5h1.5M315.2 291.5h1.5M326.6 291.5h1.5M334.1 291.5h1.5M345.5 291.5h1.5M348.5 291.5h1.5M365.4 291.5h1.5M391.8 291.5h1.5M413.2 291.5h1.5M446.0 291.5h1.5M477.4 291.5h1.5M478.9 291.5h1.5M491.3 291.5h1.5M493.3 291.5h1.5M522.2 291.5h1.5M527.1 291.5h1.5M561.5 291.5h1.5M562.0 291.5h1.5M567.4 291.5h1.5M97.3 293.5h1.5M124.7 293.5h1.5M155.5 293.5h1.5M266.4 293.5h1.5M280.4 293.5h1.5M319.2 293.5h1.5M322.2 293.5h1.5M341.1 293.5h1.5M346.0 293.5h1.5M409.7 293.5h1.5M420.2 293.5h1.5M439.6 293.5h1.5M463.5 293.5h1.5M465.9 293.5h1.5M478.4 293.5h1.5M496.8 293.5h1.5M539.1 293.5h1.5M116.2 295.5h1.5M216.2 295.5h1.5M327.6 295.5h1.5M347.0 295.5h1.5M562.5 295.5h1.5M79.9 297.6h1.5M91.3 297.6h1.5M110.7 297.6h1.5M121.7 297.6h1.5M197.3 297.6h1.5M212.7 297.6h1.5M216.2 297.6h1.5M252.5 297.6h1.5M256.0 297.6h1.5M262.5 297.6h1.5M268.4 297.6h1.5M312.2 297.6h1.5M312.7 297.6h1.5M316.2 297.6h1.5M330.6 297.6h1.5M339.1 297.6h1.5M346.0 297.6h1.5M365.4 297.6h1.5M370.9 297.6h1.5M373.4 297.6h1.5M376.4 297.6h1.5M379.9 297.6h1.5M423.2 297.6h1.5M439.1 297.6h1.5M440.1 297.6h1.5M449.0 297.6h1.5M462.5 297.6h1.5M463.0 297.6h1.5M483.8 297.6h1.5M504.7 297.6h1.5M93.8 299.6h1.5M96.3 299.6h1.5M97.8 299.6h1.5M106.2 299.6h1.5M106.7 299.6h1.5M116.7 299.6h1.5M170.9 299.6h1.5M186.3 299.6h1.5M188.8 299.6h1.5M190.8 299.6h1.5M193.3 299.6h1.5M195.3 299.6h1.5M206.2 299.6h1.5M212.2 299.6h1.5M241.1 299.6h1.5M248.0 299.6h1.5M260.5 299.6h1.5M262.5 299.6h1.5M306.7 299.6h1.5M308.2 299.6h1.5M308.7 299.6h1.5M314.2 299.6h1.5M327.6 299.6h1.5M335.6 299.6h1.5M336.1 299.6h1.5M336.1 299.6h1.5M351.0 299.6h1.5M359.5 299.6h1.5M387.3 299.6h1.5M408.7 299.6h1.5M430.1 299.6h1.5M443.1 299.6h1.5M444.5 299.6h1.5M461.0 299.6h1.5M473.4 299.6h1.5M475.4 299.6h1.5M478.4 299.6h1.5M480.4 299.6h1.5M485.8 299.6h1.5M489.8 299.6h1.5M514.2 299.6h1.5M518.7 299.6h1.5M549.5 299.6h1.5M564.4 299.6h1.5M568.9 299.6h1.5M571.9 299.6h1.5M112.7 301.6h1.5M113.2 301.6h1.5M163.5 301.6h1.5M172.4 301.6h1.5M192.3 301.6h1.5M203.8 301.6h1.5M225.6 301.6h1.5M236.6 301.6h1.5M250.0 301.6h1.5M279.9 301.6h1.5M280.4 301.6h1.5M321.7 301.6h1.5M321.7 301.6h1.5M324.2 301.6h1.5M340.6 301.6h1.5M371.4 301.6h1.5M371.9 301.6h1.5M394.8 301.6h1.5M417.7 301.6h1.5M440.6 301.6h1.5M485.3 301.6h1.5M499.8 301.6h1.5M512.2 301.6h1.5M553.0 301.6h1.5M91.8 303.7h1.5M104.3 303.7h1.5M120.2 303.7h1.5M141.1 303.7h1.5M192.8 303.7h1.5M198.8 303.7h1.5M227.6 303.7h1.5M291.3 303.7h1.5M294.3 303.7h1.5M298.3 303.7h1.5M306.2 303.7h1.5M307.7 303.7h1.5M309.7 303.7h1.5M321.7 303.7h1.5M338.1 303.7h1.5M358.0 303.7h1.5M359.5 303.7h1.5M368.4 303.7h1.5M375.4 303.7h1.5M377.9 303.7h1.5M403.3 303.7h1.5M415.2 303.7h1.5M430.6 303.7h1.5M442.1 303.7h1.5M444.5 303.7h1.5M450.5 303.7h1.5M456.0 303.7h1.5M460.5 303.7h1.5M465.9 303.7h1.5M468.4 303.7h1.5M478.4 303.7h1.5M481.9 303.7h1.5M482.9 303.7h1.5M489.8 303.7h1.5M496.8 303.7h1.5M510.7 303.7h1.5M530.6 303.7h1.5M539.6 303.7h1.5M543.5 303.7h1.5M545.5 303.7h1.5M571.4 303.7h1.5M109.7 305.7h1.5M127.6 305.7h1.5M133.1 305.7h1.5M170.4 305.7h1.5M178.4 305.7h1.5M213.7 305.7h1.5M215.2 305.7h1.5M294.3 305.7h1.5M314.7 305.7h1.5M316.7 305.7h1.5M318.2 305.7h1.5M319.2 305.7h1.5M407.2 305.7h1.5M422.7 305.7h1.5M430.6 305.7h1.5M462.5 305.7h1.5M490.8 305.7h1.5M519.2 305.7h1.5M568.4 305.7h1.5M106.2 307.7h1.5M109.2 307.7h1.5M134.6 307.7h1.5M174.4 307.7h1.5M229.6 307.7h1.5M266.4 307.7h1.5M340.1 307.7h1.5M345.0 307.7h1.5M362.0 307.7h1.5M535.6 307.7h1.5M555.0 307.7h1.5M87.3 309.8h1.5M118.2 309.8h1.5M120.2 309.8h1.5M135.1 309.8h1.5M169.9 309.8h1.5M184.9 309.8h1.5M279.4 309.8h1.5M293.8 309.8h1.5M295.3 309.8h1.5M313.7 309.8h1.5M317.7 309.8h1.5M324.2 309.8h1.5M348.0 309.8h1.5M372.4 309.8h1.5M413.7 309.8h1.5M420.2 309.8h1.5M444.5 309.8h1.5M486.3 309.8h1.5M494.8 309.8h1.5M515.7 309.8h1.5M517.7 309.8h1.5M527.1 309.8h1.5M528.6 309.8h1.5M529.1 309.8h1.5M546.5 309.8h1.5M553.0 309.8h1.5M95.8 311.8h1.5M101.8 311.8h1.5M119.7 311.8h1.5M131.6 311.8h1.5M166.4 311.8h1.5M183.4 311.8h1.5M189.3 311.8h1.5M196.3 311.8h1.5M210.2 311.8h1.5M263.5 311.8h1.5M276.9 311.8h1.5M278.4 311.8h1.5M279.9 311.8h1.5M297.3 311.8h1.5M300.8 311.8h1.5M331.1 311.8h1.5M334.1 311.8h1.5M345.5 311.8h1.5M370.4 311.8h1.5M396.3 311.8h1.5M400.8 311.8h1.5M421.7 311.8h1.5M433.6 311.8h1.5M445.5 311.8h1.5M462.0 311.8h1.5M469.9 311.8h1.5M476.9 311.8h1.5M483.8 311.8h1.5M495.8 311.8h1.5M503.8 311.8h1.5M507.7 311.8h1.5M519.2 311.8h1.5M521.2 311.8h1.5M546.5 311.8h1.5M551.5 311.8h1.5M90.3 313.9h1.5M92.8 313.9h1.5M102.3 313.9h1.5M132.6 313.9h1.5M135.1 313.9h1.5M158.0 313.9h1.5M168.4 313.9h1.5M177.4 313.9h1.5M187.8 313.9h1.5M200.3 313.9h1.5M244.6 313.9h1.5M254.5 313.9h1.5M281.4 313.9h1.5M283.4 313.9h1.5M285.3 313.9h1.5M298.3 313.9h1.5M301.3 313.9h1.5M341.1 313.9h1.5M342.6 313.9h1.5M356.0 313.9h1.5M363.5 313.9h1.5M376.9 313.9h1.5M417.2 313.9h1.5M435.1 313.9h1.5M439.6 313.9h1.5M442.6 313.9h1.5M446.5 313.9h1.5M450.5 313.9h1.5M471.4 313.9h1.5M474.9 313.9h1.5M484.8 313.9h1.5M486.3 313.9h1.5M519.7 313.9h1.5M81.4 315.9h1.5M107.2 315.9h1.5M145.1 315.9h1.5M164.0 315.9h1.5M164.5 315.9h1.5M175.4 315.9h1.5M177.4 315.9h1.5M234.1 315.9h1.5M262.0 315.9h1.5M429.6 315.9h1.5M460.0 315.9h1.5M469.9 315.9h1.5M495.3 315.9h1.5M526.1 315.9h1.5M544.5 315.9h1.5M559.5 315.9h1.5M85.4 317.9h1.5M85.8 317.9h1.5M87.3 317.9h1.5M88.8 317.9h1.5M95.3 317.9h1.5M106.7 317.9h1.5M109.2 317.9h1.5M126.6 317.9h1.5M127.1 317.9h1.5M178.4 317.9h1.5M178.9 317.9h1.5M199.3 317.9h1.5M212.7 317.9h1.5M227.1 317.9h1.5M227.1 317.9h1.5M234.1 317.9h1.5M243.6 317.9h1.5M247.5 317.9h1.5M252.5 317.9h1.5M270.9 317.9h1.5M279.9 317.9h1.5M291.3 317.9h1.5M295.3 317.9h1.5M301.3 317.9h1.5M327.1 317.9h1.5M334.1 317.9h1.5M345.5 317.9h1.5M347.0 317.9h1.5M355.5 317.9h1.5M371.9 317.9h1.5M373.4 317.9h1.5M401.3 317.9h1.5M405.2 317.9h1.5M412.2 317.9h1.5M420.2 317.9h1.5M433.1 317.9h1.5M436.1 317.9h1.5M441.1 317.9h1.5M441.6 317.9h1.5M443.6 317.9h1.5M444.5 317.9h1.5M453.5 317.9h1.5M461.5 317.9h1.5M469.9 317.9h1.5M481.4 317.9h1.5M507.7 317.9h1.5M512.2 317.9h1.5M517.7 317.9h1.5M521.7 317.9h1.5M525.1 317.9h1.5M534.1 317.9h1.5M542.1 317.9h1.5M562.5 317.9h1.5M92.8 320.0h1.5M124.2 320.0h1.5M220.7 320.0h1.5M337.6 320.0h1.5M380.4 320.0h1.5M436.1 320.0h1.5M564.9 320.0h1.5M82.4 322.0h1.5M173.4 322.0h1.5M245.5 322.0h1.5M250.0 322.0h1.5M253.0 322.0h1.5M289.3 322.0h1.5M293.8 322.0h1.5M299.3 322.0h1.5M329.1 322.0h1.5M334.6 322.0h1.5M415.7 322.0h1.5M431.1 322.0h1.5M440.6 322.0h1.5M480.9 322.0h1.5M481.4 322.0h1.5M499.8 322.0h1.5M524.6 322.0h1.5M111.7 324.0h1.5M173.4 324.0h1.5M312.2 324.0h1.5M320.2 324.0h1.5M386.3 324.0h1.5M402.3 324.0h1.5M412.7 324.0h1.5M424.1 324.0h1.5M433.6 324.0h1.5M441.1 324.0h1.5M490.8 324.0h1.5M80.9 326.1h1.5M89.8 326.1h1.5M96.3 326.1h1.5M104.3 326.1h1.5M106.7 326.1h1.5M119.7 326.1h1.5M149.5 326.1h1.5M151.5 326.1h1.5M163.0 326.1h1.5M171.9 326.1h1.5M175.4 326.1h1.5M190.8 326.1h1.5M198.8 326.1h1.5M230.1 326.1h1.5M237.1 326.1h1.5M256.5 326.1h1.5M265.9 326.1h1.5M272.4 326.1h1.5M300.8 326.1h1.5M311.2 326.1h1.5M338.1 326.1h1.5M341.6 326.1h1.5M399.8 326.1h1.5M435.1 326.1h1.5M459.0 326.1h1.5M482.4 326.1h1.5M488.8 326.1h1.5M499.3 326.1h1.5M521.7 326.1h1.5M525.6 326.1h1.5M550.5 326.1h1.5M89.8 328.1h1.5M94.8 328.1h1.5M108.7 328.1h1.5M121.7 328.1h1.5M167.4 328.1h1.5M183.4 328.1h1.5M214.2 328.1h1.5M241.1 328.1h1.5M242.6 328.1h1.5M249.5 328.1h1.5M249.5 328.1h1.5M265.9 328.1h1.5M283.4 328.1h1.5M306.7 328.1h1.5M309.2 328.1h1.5M317.7 328.1h1.5M330.1 328.1h1.5M346.5 328.1h1.5M411.2 328.1h1.5M559.5 328.1h1.5M102.3 330.1h1.5M103.3 330.1h1.5M130.1 330.1h1.5M153.5 330.1h1.5M159.0 330.1h1.5M175.9 330.1h1.5M178.4 330.1h1.5M216.7 330.1h1.5M217.2 330.1h1.5M238.6 330.1h1.5M246.0 330.1h1.5M277.9 330.1h1.5M284.8 330.1h1.5M290.8 330.1h1.5M339.1 330.1h1.5M365.4 330.1h1.5M433.6 330.1h1.5M469.4 330.1h1.5M515.7 330.1h1.5M550.5 330.1h1.5M567.9 330.1h1.5M131.6 332.2h1.5M305.7 332.2h1.5M403.3 332.2h1.5M108.7 334.2h1.5M151.5 334.2h1.5M188.8 334.2h1.5M190.3 334.2h1.5M203.3 334.2h1.5M227.6 334.2h1.5M263.5 334.2h1.5M293.8 334.2h1.5M310.7 334.2h1.5M311.2 334.2h1.5M318.7 334.2h1.5M356.0 334.2h1.5M397.8 334.2h1.5M452.0 334.2h1.5M458.0 334.2h1.5M465.4 334.2h1.5M490.8 334.2h1.5M511.2 334.2h1.5M551.5 334.2h1.5M98.8 336.3h1.5M122.7 336.3h1.5M123.7 336.3h1.5M202.8 336.3h1.5M206.2 336.3h1.5M232.6 336.3h1.5M257.5 336.3h1.5M283.9 336.3h1.5M319.7 336.3h1.5M333.6 336.3h1.5M344.5 336.3h1.5M349.5 336.3h1.5M358.5 336.3h1.5M396.8 336.3h1.5M405.2 336.3h1.5M425.6 336.3h1.5M436.1 336.3h1.5M447.5 336.3h1.5M458.5 336.3h1.5M492.3 336.3h1.5M565.9 336.3h1.5M133.6 338.3h1.5M325.1 338.3h1.5M330.6 338.3h1.5M348.0 338.3h1.5M400.8 338.3h1.5M491.8 338.3h1.5M81.9 340.3h1.5M93.3 340.3h1.5M142.1 340.3h1.5M179.4 340.3h1.5M199.8 340.3h1.5M256.5 340.3h1.5M299.8 340.3h1.5M305.7 340.3h1.5M312.2 340.3h1.5M330.1 340.3h1.5M338.1 340.3h1.5M339.6 340.3h1.5M340.1 340.3h1.5M374.4 340.3h1.5M403.8 340.3h1.5M429.6 340.3h1.5M431.1 340.3h1.5M541.6 340.3h1.5M87.8 342.4h1.5M173.4 342.4h1.5M265.9 342.4h1.5M288.8 342.4h1.5M374.9 342.4h1.5M499.8 342.4h1.5M111.2 344.4h1.5M119.7 344.4h1.5M126.6 344.4h1.5M201.8 344.4h1.5M220.2 344.4h1.5M294.3 344.4h1.5M317.7 344.4h1.5M329.6 344.4h1.5M338.1 344.4h1.5M339.1 344.4h1.5M345.5 344.4h1.5M430.1 344.4h1.5M450.0 344.4h1.5M540.6 344.4h1.5M98.3 346.4h1.5M127.1 346.4h1.5M139.6 346.4h1.5M184.9 346.4h1.5M198.8 346.4h1.5M226.6 346.4h1.5M269.9 346.4h1.5M303.8 346.4h1.5M305.7 346.4h1.5M320.2 346.4h1.5M345.0 346.4h1.5M346.5 346.4h1.5M378.9 346.4h1.5M389.3 346.4h1.5M408.2 346.4h1.5M448.0 346.4h1.5M459.0 346.4h1.5M492.3 346.4h1.5M496.3 346.4h1.5M99.3 348.5h1.5M103.8 348.5h1.5M130.6 348.5h1.5M146.0 348.5h1.5M168.4 348.5h1.5M202.3 348.5h1.5M250.0 348.5h1.5M265.4 348.5h1.5M293.3 348.5h1.5M309.7 348.5h1.5M309.7 348.5h1.5M313.7 348.5h1.5M313.7 348.5h1.5M348.5 348.5h1.5M367.4 348.5h1.5M397.8 348.5h1.5M420.7 348.5h1.5M429.1 348.5h1.5M468.4 348.5h1.5M92.8 350.5h1.5M174.4 350.5h1.5M278.9 350.5h1.5M320.7 350.5h1.5M343.6 350.5h1.5M345.0 350.5h1.5M361.5 350.5h1.5M404.7 350.5h1.5M414.7 350.5h1.5M559.5 350.5h1.5M112.7 352.5h1.5M120.7 352.5h1.5M182.9 352.5h1.5M334.1 352.5h1.5M358.5 352.5h1.5M365.9 352.5h1.5M376.4 352.5h1.5M418.2 352.5h1.5M455.5 352.5h1.5M501.3 352.5h1.5M506.7 352.5h1.5M512.2 352.5h1.5M543.5 352.5h1.5M554.0 352.5h1.5M86.8 354.6h1.5M101.3 354.6h1.5M102.3 354.6h1.5M119.2 354.6h1.5M221.7 354.6h1.5M257.5 354.6h1.5M283.4 354.6h1.5M344.5 354.6h1.5M410.2 354.6h1.5M438.1 354.6h1.5M450.0 354.6h1.5M490.8 354.6h1.5M517.2 354.6h1.5M523.2 354.6h1.5M563.0 354.6h1.5M563.9 354.6h1.5M94.8 356.6h1.5M104.3 356.6h1.5M148.0 356.6h1.5M190.3 356.6h1.5M264.5 356.6h1.5M358.5 356.6h1.5M403.8 356.6h1.5M547.0 356.6h1.5M104.3 358.6h1.5M143.6 358.6h1.5M259.0 358.6h1.5M283.4 358.6h1.5M310.7 358.6h1.5M316.7 358.6h1.5M316.7 358.6h1.5M331.6 358.6h1.5M409.7 358.6h1.5M411.7 358.6h1.5M440.6 358.6h1.5M449.0 358.6h1.5M453.5 358.6h1.5M571.4 358.6h1.5M148.5 360.7h1.5M170.4 360.7h1.5M175.4 360.7h1.5M202.8 360.7h1.5M272.9 360.7h1.5M295.8 360.7h1.5M316.7 360.7h1.5M349.5 360.7h1.5M373.4 360.7h1.5M419.7 360.7h1.5M420.2 360.7h1.5M428.1 360.7h1.5M497.8 360.7h1.5M524.1 360.7h1.5M531.1 360.7h1.5M546.0 360.7h1.5M216.2 362.7h1.5M245.5 362.7h1.5M262.0 362.7h1.5M313.2 362.7h1.5M334.6 362.7h1.5M332.1 364.8h1.5M333.6 364.8h1.5M165.9 366.8h1.5M268.4 366.8h1.5M339.6 366.8h1.5M474.4 366.8h1.5M542.1 366.8h1.5M328.6 368.8h1.5M469.9 368.8h1.5M498.3 368.8h1.5M145.5 370.9h1.5M181.4 370.9h1.5M236.6 370.9h1.5M307.7 370.9h1.5M307.7 370.9h1.5M310.2 370.9h1.5M142.1 372.9h1.5M258.0 372.9h1.5M336.1 372.9h1.5M315.7 374.9h1.5M320.7 374.9h1.5M82.9 377.0h1.5M186.3 377.0h1.5M305.2 377.0h1.5M344.5 377.0h1.5M107.7 379.0h1.5M120.7 379.0h1.5M205.7 379.0h1.5M220.2 379.0h1.5M360.0 379.0h1.5M418.2 379.0h1.5M419.7 379.0h1.5M453.0 379.0h1.5M497.8 379.0h1.5M261.5 381.0h1.5M85.4 383.1h1.5M107.7 383.1h1.5M248.5 383.1h1.5M348.5 383.1h1.5M468.4 383.1h1.5M468.4 383.1h1.5M562.5 383.1h1.5M282.4 385.1h1.5M343.1 385.1h1.5M428.1 385.1h1.5M500.3 385.1h1.5M543.1 385.1h1.5M119.7 387.2h1.5M141.6 387.2h1.5M375.9 387.2h1.5M193.3 389.2h1.5M229.6 389.2h1.5M236.6 389.2h1.5M533.1 389.2h1.5M569.9 389.2h1.5M522.2 391.2h1.5M357.5 393.3h1.5M284.8 395.3h1.5M323.2 395.3h1.5M306.7 399.4h1.5M347.5 399.4h1.5M301.8 401.4h1.5M506.2 407.5h1.5M208.7 409.5h1.5M346.5 409.5h1.5M516.7 409.5h1.5M552.0 409.5h1.5M95.8 411.6h1.5M121.2 411.6h1.5M349.5 411.6h1.5M324.2 413.6h1.5M108.7 415.7h1.5M532.6 419.7h1.5M288.8 425.8h1.5M321.7 425.8h1.5M479.9 425.8h1.5M191.8 427.9h1.5M249.5 429.9h1.5M335.6 431.9h1.5M230.1 436.0h1.5M302.8 436.0h1.5M532.6 436.0h1.5M293.3 452.3h1.5M89.3 458.6h1.5M78.4 560.4h1.5" stroke="#000" stroke-width="1.5" fill="none"/>
<rect x="59.5" y="687.5" width="533.0" height="533.0" stroke="#000" stroke-opacity="0.55" stroke-width="1.1" stroke-linejoin="round" fill="none"/>
<path d="M79.30 1200.10C81.42 1200.07 87.43 1200.00 92.00 1199.90C96.57 1199.80 101.20 1199.52 106.70 1199.50C112.20 1199.48 117.78 1199.72 125.00 1199.80C132.22 1199.88 140.52 1199.97 150.00 1200.00C159.48 1200.03 173.20 1200.12 181.90 1200.00C190.60 1199.88 195.43 1199.78 202.20 1199.30C208.97 1198.82 216.75 1198.08 222.50 1197.10C228.25 1196.12 231.62 1195.20 236.70 1193.40C241.78 1191.60 248.60 1188.83 253.00 1186.30C257.40 1183.77 259.72 1181.42 263.10 1178.20C266.48 1174.98 270.25 1170.90 273.30 1167.00C276.35 1163.10 279.03 1159.20 281.40 1154.80C283.77 1150.40 285.63 1144.82 287.50 1140.60C289.37 1136.38 290.23 1133.55 292.60 1129.50C294.97 1125.45 299.22 1120.75 301.70 1116.30C304.18 1111.85 305.25 1108.20 307.50 1102.80C309.75 1097.40 312.77 1090.20 315.20 1083.90C317.63 1077.60 319.95 1070.73 322.10 1065.00C324.25 1059.27 326.23 1053.65 328.10 1049.50C329.97 1045.35 331.28 1042.97 333.30 1040.10C335.32 1037.23 338.05 1035.32 340.20 1032.30C342.35 1029.28 344.48 1025.43 346.20 1022.00C347.92 1018.57 348.65 1015.42 350.50 1011.70C352.35 1007.98 355.02 1003.70 357.30 999.70C359.58 995.70 362.47 991.43 364.20 987.70C365.93 983.97 366.55 981.60 367.70 977.30C368.85 973.00 370.10 967.33 371.10 961.90C372.10 956.47 372.83 951.30 373.70 944.70C374.57 938.10 375.15 933.23 376.30 922.30C377.45 911.37 379.30 892.60 380.60 879.10C381.90 865.60 382.95 852.18 384.10 841.30C385.25 830.42 386.50 821.83 387.50 813.80C388.50 805.77 389.23 799.12 390.10 793.10C390.97 787.08 391.55 782.85 392.70 777.70C393.85 772.55 395.28 767.37 397.00 762.20C398.72 757.03 400.87 752.15 403.00 746.70C405.13 741.25 407.52 734.37 409.80 729.50C412.08 724.63 414.40 721.22 416.70 717.50C419.00 713.78 421.58 707.77 423.60 707.20C425.62 706.63 427.23 710.38 428.80 714.10C430.37 717.82 431.58 723.20 433.00 729.50C434.42 735.80 436.00 744.73 437.30 751.90C438.60 759.07 439.65 765.05 440.80 772.50C441.95 779.95 443.05 788.00 444.20 796.60C445.35 805.20 446.55 814.37 447.70 824.10C448.85 833.83 450.10 846.70 451.10 855.00C452.10 863.30 452.93 869.88 453.70 873.90C454.47 877.92 454.85 879.38 455.70 879.10C456.55 878.82 457.70 876.22 458.80 872.20C459.90 868.18 461.15 861.30 462.30 855.00C463.45 848.70 464.57 840.42 465.70 834.40C466.83 828.38 467.87 822.50 469.10 818.90C470.33 815.30 471.58 812.40 473.10 812.80C474.62 813.20 476.67 817.42 478.20 821.30C479.73 825.18 480.93 830.63 482.30 836.10C483.67 841.57 485.03 847.82 486.40 854.10C487.77 860.38 489.13 867.23 490.50 873.80C491.87 880.37 493.23 888.30 494.60 893.50C495.97 898.70 497.33 902.40 498.70 905.00C500.07 907.60 501.30 907.73 502.80 909.10C504.30 910.47 506.20 911.15 507.70 913.20C509.20 915.25 510.43 917.57 511.80 921.40C513.17 925.23 514.67 931.28 515.90 936.20C517.13 941.12 518.10 945.17 519.20 950.90C520.30 956.63 521.50 963.42 522.50 970.60C523.50 977.78 524.17 985.00 525.20 994.00C526.23 1003.00 527.57 1015.40 528.70 1024.60C529.83 1033.80 530.77 1041.27 532.00 1049.20C533.23 1057.13 534.60 1065.63 536.10 1072.20C537.60 1078.77 539.50 1083.40 541.00 1088.60C542.50 1093.80 543.73 1097.38 545.10 1103.40C546.47 1109.42 547.83 1117.87 549.20 1124.70C550.57 1131.53 551.93 1137.83 553.30 1144.40C554.67 1150.97 556.03 1158.08 557.40 1164.10C558.77 1170.12 560.13 1175.85 561.50 1180.50C562.87 1185.15 563.82 1188.87 565.60 1192.00C567.38 1195.13 571.10 1198.08 572.20 1199.30Z" fill="#f5deb3" stroke="#000" stroke-width="1.15" stroke-linejoin="round"/>
<path d="M79.3 1200.5H572.2" stroke="#000" stroke-width="1.15"/>
<path d="M349.24 687.5V1220.5" stroke="#cd2626" stroke-width="1.5" stroke-dasharray="6 6" stroke-dashoffset="1.25" stroke-linecap="round"/>
<path d="M92.50 1220.5H544.50M92.50 1220.5v6.5M182.90 1220.5v6.5M273.30 1220.5v6.5M363.70 1220.5v6.5M454.10 1220.5v6.5M544.50 1220.5v6.5" stroke="#000" stroke-opacity="0.62" stroke-width="1.1" fill="none"/>
<text x="92.50" y="1242.0" text-anchor="middle" font-size="10.7">75</text>
<text x="182.90" y="1242.0" text-anchor="middle" font-size="10.7">80</text>
<text x="273.30" y="1242.0" text-anchor="middle" font-size="10.7">85</text>
<text x="363.70" y="1242.0" text-anchor="middle" font-size="10.7">90</text>
<text x="454.10" y="1242.0" text-anchor="middle" font-size="10.7">95</text>
<text x="544.50" y="1242.0" text-anchor="middle" font-size="10.7">100</text>
<path d="M59.5 1200.50V706.50M59.5 1200.50h-6.5M59.5 1118.17h-6.5M59.5 1035.83h-6.5M59.5 953.50h-6.5M59.5 871.16h-6.5M59.5 788.83h-6.5M59.5 706.50h-6.5" stroke="#000" stroke-opacity="0.62" stroke-width="1.1" fill="none"/>
<text transform="translate(44.8 1200.80) rotate(-90)" text-anchor="middle" font-size="10.7">0.00</text>
<text transform="translate(44.8 1118.47) rotate(-90)" text-anchor="middle" font-size="10.7">0.02</text>
<text transform="translate(44.8 1036.13) rotate(-90)" text-anchor="middle" font-size="10.7">0.04</text>
<text transform="translate(44.8 953.80) rotate(-90)" text-anchor="middle" font-size="10.7">0.06</text>
<text transform="translate(44.8 871.46) rotate(-90)" text-anchor="middle" font-size="10.7">0.08</text>
<text transform="translate(44.8 789.13) rotate(-90)" text-anchor="middle" font-size="10.7">0.10</text>
<text transform="translate(44.8 706.80) rotate(-90)" text-anchor="middle" font-size="10.7">0.12</text>
<text transform="translate(177.6 672.0) scale(1 1.065)" font-size="21.5" font-weight="bold">Motif score threshold: 89.200</text>
<text x="326.5" y="1266.0" text-anchor="middle" font-size="16">Motif score</text>
<text transform="translate(22.0 954.5) rotate(-90)" text-anchor="middle" font-size="16">Density</text>
<rect x="699.5" y="687.5" width="533.0" height="533.0" stroke="#000" stroke-opacity="0.55" stroke-width="1.1" stroke-linejoin="round" fill="none"/>
<path d="M719.10 1200.20C721.12 1199.93 727.92 1199.65 731.25 1198.60C734.58 1197.55 736.49 1196.63 739.10 1193.90C741.71 1191.17 744.57 1186.50 746.90 1182.20C749.23 1177.90 751.28 1173.05 753.10 1168.10C754.92 1163.15 756.23 1157.97 757.80 1152.50C759.37 1147.03 760.93 1141.28 762.50 1135.30C764.07 1129.32 765.63 1122.58 767.20 1116.60C768.77 1110.62 770.33 1104.62 771.90 1099.40C773.47 1094.18 774.78 1089.73 776.60 1085.30C778.42 1080.87 780.47 1076.32 782.80 1072.80C785.13 1069.28 788.00 1066.33 790.60 1064.20C793.20 1062.07 795.27 1060.91 798.40 1060.00C801.53 1059.09 805.48 1058.75 809.40 1058.75C813.32 1058.75 817.73 1059.22 821.90 1060.00C826.07 1060.78 830.23 1062.25 834.40 1063.40C838.57 1064.55 842.48 1065.85 846.90 1066.90C851.32 1067.95 856.73 1068.58 860.90 1069.70C865.07 1070.82 868.25 1072.17 871.90 1073.60C875.55 1075.03 879.30 1077.28 882.80 1078.30C886.30 1079.32 889.07 1080.33 892.90 1079.70C896.73 1079.07 901.93 1077.65 905.80 1074.50C909.67 1071.35 913.23 1066.23 916.10 1060.80C918.97 1055.37 921.00 1049.35 923.00 1041.90C925.00 1034.45 926.67 1024.70 928.10 1016.10C929.53 1007.50 930.45 999.75 931.60 990.30C932.75 980.85 933.87 970.28 935.00 959.40C936.13 948.52 937.25 936.18 938.40 925.00C939.55 913.82 940.75 904.48 941.90 892.30C943.05 880.12 944.38 862.38 945.30 851.90C946.22 841.42 946.70 836.90 947.40 829.40C948.10 821.90 948.80 814.40 949.50 806.90C950.20 799.40 950.89 791.67 951.60 784.40C952.31 777.13 953.03 770.33 953.75 763.30C954.47 756.27 955.07 748.53 955.90 742.20C956.73 735.87 957.65 730.22 958.70 725.30C959.75 720.38 961.03 715.75 962.20 712.70C963.37 709.65 964.53 707.00 965.70 707.00C966.87 707.00 968.03 709.18 969.20 712.70C970.37 716.22 971.65 722.25 972.70 728.10C973.75 733.95 974.67 741.23 975.50 747.80C976.33 754.37 976.98 760.47 977.70 767.50C978.42 774.53 979.10 782.50 979.80 790.00C980.50 797.50 981.20 805.00 981.90 812.50C982.60 820.00 983.22 825.42 984.00 835.00C984.78 844.58 985.60 859.30 986.60 870.00C987.60 880.70 988.72 887.73 990.00 899.20C991.28 910.67 992.87 925.90 994.30 938.80C995.73 951.70 997.02 964.58 998.60 976.60C1000.18 988.62 1001.80 1000.60 1003.80 1010.90C1005.80 1021.20 1008.03 1030.67 1010.60 1038.40C1013.17 1046.13 1015.75 1052.13 1019.20 1057.30C1022.65 1062.47 1027.00 1066.67 1031.30 1069.40C1035.60 1072.13 1041.08 1073.28 1045.00 1073.70C1048.92 1074.12 1051.18 1072.45 1054.80 1071.90C1058.42 1071.35 1062.73 1070.08 1066.70 1070.40C1070.67 1070.72 1075.13 1072.63 1078.60 1073.80C1082.07 1074.97 1084.65 1076.55 1087.50 1077.40C1090.35 1078.25 1092.73 1079.07 1095.70 1078.90C1098.67 1078.73 1101.72 1077.43 1105.30 1076.40C1108.88 1075.37 1113.23 1073.52 1117.20 1072.70C1121.17 1071.88 1125.15 1071.38 1129.10 1071.50C1133.05 1071.62 1137.45 1071.97 1140.90 1073.40C1144.35 1074.83 1147.07 1077.00 1149.80 1080.10C1152.53 1083.20 1155.07 1087.55 1157.30 1092.00C1159.53 1096.45 1161.47 1101.62 1163.20 1106.80C1164.93 1111.98 1166.22 1117.65 1167.70 1123.10C1169.18 1128.55 1170.62 1134.05 1172.10 1139.50C1173.58 1144.95 1174.87 1150.12 1176.60 1155.80C1178.33 1161.48 1180.53 1168.40 1182.50 1173.60C1184.47 1178.80 1186.17 1183.28 1188.40 1187.00C1190.63 1190.72 1193.42 1193.80 1195.90 1195.90C1198.38 1198.00 1200.47 1198.87 1203.30 1199.60C1206.13 1200.33 1211.30 1200.18 1212.90 1200.30Z" fill="#f5deb3" stroke="#000" stroke-width="1.15" stroke-linejoin="round"/>
<path d="M719.1 1200.5H1212.9" stroke="#000" stroke-width="1.15"/>
<path d="M942.32 687.5V1220.5" stroke="#006400" stroke-width="1.5" stroke-dasharray="6 6" stroke-dashoffset="0.8" stroke-linecap="round"/>
<path d="M988.68 687.5V1220.5" stroke="#006400" stroke-width="1.5" stroke-dasharray="6 6" stroke-dashoffset="0.8" stroke-linecap="round"/>
<path d="M721.54 1220.5H1209.46M721.54 1220.5v6.5M802.86 1220.5v6.5M884.18 1220.5v6.5M965.50 1220.5v6.5M1046.82 1220.5v6.5M1128.14 1220.5v6.5M1209.46 1220.5v6.5" stroke="#000" stroke-opacity="0.62" stroke-width="1.1" fill="none"/>
<text x="721.54" y="1242.0" text-anchor="middle" font-size="10.7">-600</text>
<text x="802.86" y="1242.0" text-anchor="middle" font-size="10.7">-400</text>
<text x="884.18" y="1242.0" text-anchor="middle" font-size="10.7">-200</text>
<text x="965.50" y="1242.0" text-anchor="middle" font-size="10.7">0</text>
<text x="1046.82" y="1242.0" text-anchor="middle" font-size="10.7">200</text>
<text x="1128.14" y="1242.0" text-anchor="middle" font-size="10.7">400</text>
<text x="1209.46" y="1242.0" text-anchor="middle" font-size="10.7">600</text>
<path d="M699.5 1200.50V766.20M699.5 1200.50h-6.5M699.5 1113.64h-6.5M699.5 1026.78h-6.5M699.5 939.92h-6.5M699.5 853.06h-6.5M699.5 766.20h-6.5" stroke="#000" stroke-opacity="0.62" stroke-width="1.1" fill="none"/>
<text transform="translate(684.8 1200.80) rotate(-90)" text-anchor="middle" font-size="10.7">0.0000</text>
<text transform="translate(684.8 1113.94) rotate(-90)" text-anchor="middle" font-size="10.7">0.0005</text>
<text transform="translate(684.8 1027.08) rotate(-90)" text-anchor="middle" font-size="10.7">0.0010</text>
<text transform="translate(684.8 940.22) rotate(-90)" text-anchor="middle" font-size="10.7">0.0015</text>
<text transform="translate(684.8 853.36) rotate(-90)" text-anchor="middle" font-size="10.7">0.0020</text>
<text transform="translate(684.8 766.50) rotate(-90)" text-anchor="middle" font-size="10.7">0.0025</text>
<text transform="translate(846.0 672.0) scale(1 1.065)" font-size="21.5" font-weight="bold">Enrichment zone: 57.00</text>
<text x="966.5" y="1266.0" text-anchor="middle" font-size="16">Distance to peak summit</text>
<text transform="translate(662.0 954.5) rotate(-90)" text-anchor="middle" font-size="16">Density</text>
<path d="M1016.8 703.5H1041" stroke="#006400" stroke-width="1.6" stroke-dasharray="2.4 2.1" />
<path d="M1016.8 719H1041" stroke="#cd2626" stroke-opacity="0.75" stroke-width="1.6" stroke-dasharray="2.4 2.1" />
<circle cx="1029" cy="734.6" r="3" fill="#00f"/>
<text x="1052" y="707.8" font-size="12.9">enrichment zone = 57</text>
<text x="1052" y="723.3" font-size="12.9">motif score threshold = 89.200</text>
<text x="1052" y="738.8" font-size="12.9">centrality p-val = -7.8396</text>
<rect x="59.5" y="47.5" width="533.0" height="533.0" stroke="#000" stroke-opacity="0.55" stroke-width="1.1" stroke-linejoin="round" fill="none"/>
<path d="M126.40 580.5H524.40M126.40 580.5v6.5M225.90 580.5v6.5M325.40 580.5v6.5M424.90 580.5v6.5M524.40 580.5v6.5" stroke="#000" stroke-opacity="0.62" stroke-width="1.1" fill="none"/>
<text x="126.40" y="602.0" text-anchor="middle" font-size="10.7">-400</text>
<text x="225.90" y="602.0" text-anchor="middle" font-size="10.7">-200</text>
<text x="325.40" y="602.0" text-anchor="middle" font-size="10.7">0</text>
<text x="424.90" y="602.0" text-anchor="middle" font-size="10.7">200</text>
<text x="524.40" y="602.0" text-anchor="middle" font-size="10.7">400</text>
<path d="M59.5 576.50V67.50M59.5 576.50h-6.5M59.5 474.70h-6.5M59.5 372.90h-6.5M59.5 271.10h-6.5M59.5 169.30h-6.5M59.5 67.50h-6.5" stroke="#000" stroke-opacity="0.62" stroke-width="1.1" fill="none"/>
<text transform="translate(44.8 576.80) rotate(-90)" text-anchor="middle" font-size="10.7">75</text>
<text transform="translate(44.8 475.00) rotate(-90)" text-anchor="middle" font-size="10.7">80</text>
<text transform="translate(44.8 373.20) rotate(-90)" text-anchor="middle" font-size="10.7">85</text>
<text transform="translate(44.8 271.40) rotate(-90)" text-anchor="middle" font-size="10.7">90</text>
<text transform="translate(44.8 169.60) rotate(-90)" text-anchor="middle" font-size="10.7">95</text>
<text transform="translate(44.8 67.80) rotate(-90)" text-anchor="middle" font-size="10.7">100</text>
<text transform="translate(215.6 32.0) scale(1 1.065)" font-size="21.5" font-weight="bold">Top hit for each peak</text>
<text x="326.5" y="626.0" text-anchor="middle" font-size="16">Distance to peak summit</text>
<text transform="translate(22.0 314.5) rotate(-90)" text-anchor="middle" font-size="16">Motif score</text>
<path d="M59.5 287.39H592.5" stroke="#cd2626" stroke-width="2.4" stroke-dasharray="9 9" stroke-linecap="round"/>
<path d="M297.04 47.5V580.5" stroke="#006400" stroke-width="2.4" stroke-dasharray="9 9" stroke-dashoffset="16.5" stroke-linecap="round"/>
<path d="M353.76 47.5V580.5" stroke="#006400" stroke-width="2.4" stroke-dasharray="9 9" stroke-dashoffset="16.5" stroke-linecap="round"/>
<rect x="699.5" y="47.5" width="533.0" height="533.0" stroke="#000" stroke-opacity="0.55" stroke-width="1.1" stroke-linejoin="round" fill="none"/>
<path d="M750.90 580.5H1179.90M750.90 580.5v6.5M858.15 580.5v6.5M965.40 580.5v6.5M1072.65 580.5v6.5M1179.90 580.5v6.5" stroke="#000" stroke-opacity="0.62" stroke-width="1.1" fill="none"/>
<text x="750.90" y="602.0" text-anchor="middle" font-size="10.7">-400</text>
<text x="858.15" y="602.0" text-anchor="middle" font-size="10.7">-200</text>
<text x="965.40" y="602.0" text-anchor="middle" font-size="10.7">0</text>
<text x="1072.65" y="602.0" text-anchor="middle" font-size="10.7">200</text>
<text x="1179.90" y="602.0" text-anchor="middle" font-size="10.7">400</text>
<path d="M699.5 487.20V47.60M699.5 487.20h-6.5M699.5 377.30h-6.5M699.5 267.40h-6.5M699.5 157.50h-6.5M699.5 47.60h-6.5" stroke="#000" stroke-opacity="0.62" stroke-width="1.1" fill="none"/>
<text transform="translate(684.8 487.50) rotate(-90)" text-anchor="middle" font-size="10.7">80</text>
<text transform="translate(684.8 377.60) rotate(-90)" text-anchor="middle" font-size="10.7">85</text>
<text transform="translate(684.8 267.70) rotate(-90)" text-anchor="middle" font-size="10.7">90</text>
<text transform="translate(684.8 157.80) rotate(-90)" text-anchor="middle" font-size="10.7">95</text>
<text transform="translate(684.8 47.90) rotate(-90)" text-anchor="middle" font-size="10.7">100</text>
<text transform="translate(800.0 32.0) scale(1 1.065)" font-size="21.5" font-weight="bold">Density heat map for the top hits</text>
<text x="966.5" y="626.0" text-anchor="middle" font-size="16">Distance to peak summit</text>
<text transform="translate(662.0 314.5) rotate(-90)" text-anchor="middle" font-size="16">Motif score</text>
<path d="M699.5 284.98H1232.5" stroke="#cd2626" stroke-width="1.5" stroke-dasharray="6 6" stroke-dashoffset="1" stroke-linecap="round"/>
<path d="M934.83 47.5V580.5" stroke="#006400" stroke-width="1.5" stroke-dasharray="6 6" stroke-dashoffset="1" stroke-linecap="round"/>
<path d="M995.97 47.5V580.5" stroke="#006400" stroke-width="1.5" stroke-dasharray="6 6" stroke-dashoffset="1" stroke-linecap="round"/>
</svg>
</body></html>
